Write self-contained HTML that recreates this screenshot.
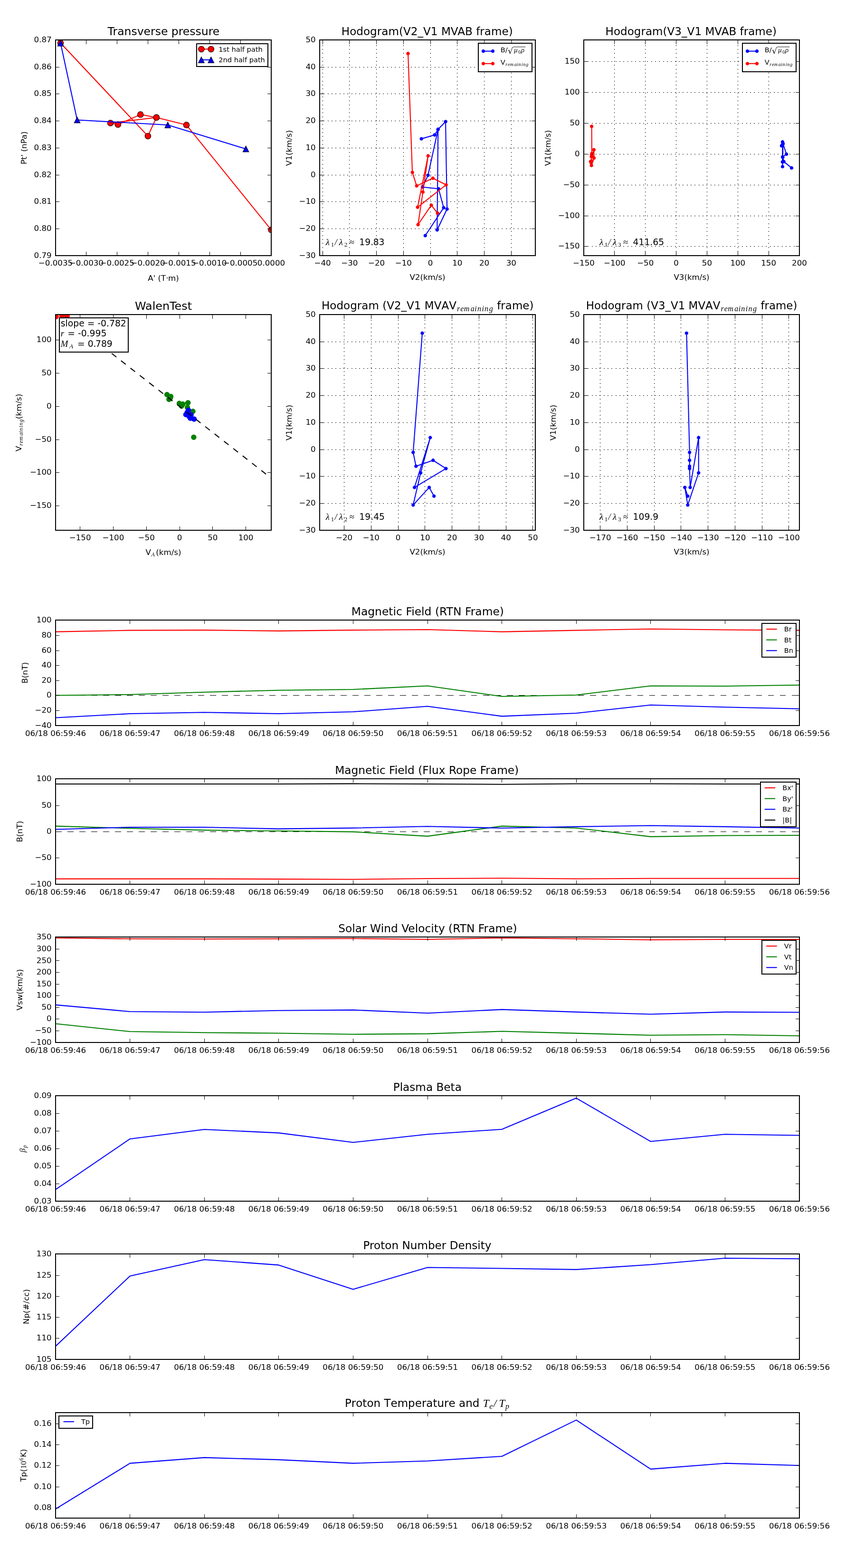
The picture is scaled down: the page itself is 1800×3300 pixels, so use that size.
<!DOCTYPE html>
<html><head><meta charset="utf-8"><title>GS reconstruction summary</title>
<style>html,body{margin:0;padding:0;background:#fff;}svg{display:block;}</style>
</head><body>
<svg width="1800" height="3300" viewBox="0 0 864 1584" version="1.1">
 <defs>
  <style type="text/css">*{stroke-linejoin: round; stroke-linecap: butt}</style>
 </defs>
 <g id="figure_1">
  <g id="patch_1">
   <path d="M 0 1584 
L 864 1584 
L 864 0 
L 0 0 
z
" style="fill: #ffffff"/>
  </g>
  <g id="axes_1">
   <g id="patch_2">
    <path d="M 56.16 258.384 
L 274.08 258.384 
L 274.08 40.464 
L 56.16 40.464 
z
" style="fill: #ffffff"/>
   </g>
   <g id="line2d_1">
    <path d="M 61.2 43.44 
L 149.472 137.472 
L 158.064 118.656 
L 111.6 124.32 
L 119.184 125.808 
L 141.936 115.728 
L 158.064 118.656 
L 188.4 126.288 
L 274.08 232.224 
" clip-path="url(#p9e360b8a55)" style="fill: none; stroke: #ff0000; stroke-linecap: square"/>
    <defs>
     <path id="m9b57e5bc94" d="M 0 3 
C 0.795609 3 1.55874 2.683901 2.12132 2.12132 
C 2.683901 1.55874 3 0.795609 3 0 
C 3 -0.795609 2.683901 -1.55874 2.12132 -2.12132 
C 1.55874 -2.683901 0.795609 -3 0 -3 
C -0.795609 -3 -1.55874 -2.683901 -2.12132 -2.12132 
C -2.683901 -1.55874 -3 -0.795609 -3 0 
C -3 0.795609 -2.683901 1.55874 -2.12132 2.12132 
C -1.55874 2.683901 -0.795609 3 0 3 
z
" style="stroke: #000000; stroke-width: 0.5"/>
    </defs>
    <g clip-path="url(#p9e360b8a55)">
     <use href="#m9b57e5bc94" x="61.2" y="43.44" style="fill: #ff0000; stroke: #000000; stroke-width: 0.5"/>
     <use href="#m9b57e5bc94" x="149.472" y="137.472" style="fill: #ff0000; stroke: #000000; stroke-width: 0.5"/>
     <use href="#m9b57e5bc94" x="158.064" y="118.656" style="fill: #ff0000; stroke: #000000; stroke-width: 0.5"/>
     <use href="#m9b57e5bc94" x="111.6" y="124.32" style="fill: #ff0000; stroke: #000000; stroke-width: 0.5"/>
     <use href="#m9b57e5bc94" x="119.184" y="125.808" style="fill: #ff0000; stroke: #000000; stroke-width: 0.5"/>
     <use href="#m9b57e5bc94" x="141.936" y="115.728" style="fill: #ff0000; stroke: #000000; stroke-width: 0.5"/>
     <use href="#m9b57e5bc94" x="158.064" y="118.656" style="fill: #ff0000; stroke: #000000; stroke-width: 0.5"/>
     <use href="#m9b57e5bc94" x="188.4" y="126.288" style="fill: #ff0000; stroke: #000000; stroke-width: 0.5"/>
     <use href="#m9b57e5bc94" x="274.08" y="232.224" style="fill: #ff0000; stroke: #000000; stroke-width: 0.5"/>
    </g>
   </g>
   <g id="line2d_2">
    <path d="M 61.2 43.536 
L 78 121.2 
L 169.536 126.24 
L 248.448 150.432 
" clip-path="url(#p9e360b8a55)" style="fill: none; stroke: #0000ff; stroke-linecap: square"/>
    <defs>
     <path id="m35c73e94be" d="M 0 -3 
L -3 3 
L 3 3 
z
" style="stroke: #000000; stroke-width: 0.5; stroke-linejoin: miter"/>
    </defs>
    <g clip-path="url(#p9e360b8a55)">
     <use href="#m35c73e94be" x="61.2" y="43.536" style="fill: #0000ff; stroke: #000000; stroke-width: 0.5; stroke-linejoin: miter"/>
     <use href="#m35c73e94be" x="78" y="121.2" style="fill: #0000ff; stroke: #000000; stroke-width: 0.5; stroke-linejoin: miter"/>
     <use href="#m35c73e94be" x="169.536" y="126.24" style="fill: #0000ff; stroke: #000000; stroke-width: 0.5; stroke-linejoin: miter"/>
     <use href="#m35c73e94be" x="248.448" y="150.432" style="fill: #0000ff; stroke: #000000; stroke-width: 0.5; stroke-linejoin: miter"/>
    </g>
   </g>
   <g id="patch_3">
    <path d="M 56.16 258.384 
L 56.16 40.464 
" shape-rendering="crispEdges" style="fill: none; stroke: #000000; stroke-width: 0.96; stroke-linejoin: miter; stroke-linecap: square"/>
   </g>
   <g id="patch_4">
    <path d="M 274.08 258.384 
L 274.08 40.464 
" shape-rendering="crispEdges" style="fill: none; stroke: #000000; stroke-width: 0.96; stroke-linejoin: miter; stroke-linecap: square"/>
   </g>
   <g id="patch_5">
    <path d="M 56.16 258.384 
L 274.08 258.384 
" shape-rendering="crispEdges" style="fill: none; stroke: #000000; stroke-width: 0.96; stroke-linejoin: miter; stroke-linecap: square"/>
   </g>
   <g id="patch_6">
    <path d="M 56.16 40.464 
L 274.08 40.464 
" shape-rendering="crispEdges" style="fill: none; stroke: #000000; stroke-width: 0.96; stroke-linejoin: miter; stroke-linecap: square"/>
   </g>
   <g id="matplotlib.axis_1">
    <g id="xtick_1">
     <g id="line2d_3">
      <defs>
       <path id="m9970c9cf34" d="M 0 0 
L 0 -4 
" shape-rendering="crispEdges" style="stroke: #000000; stroke-width: 0.5"/>
      </defs>
      <g>
       <path d="M 56.1984 258.3840 L 56.1984 254.3840" shape-rendering="crispEdges" style="fill: none; stroke: #000000; stroke-width: 0.5"/>
      </g>
     </g>
     <g id="line2d_4">
      <defs>
       <path id="ma74727226e" d="M 0 0 
L 0 4 
" shape-rendering="crispEdges" style="stroke: #000000; stroke-width: 0.5"/>
      </defs>
      <g>
       <path d="M 56.1984 40.4640 L 56.1984 44.4640" shape-rendering="crispEdges" style="fill: none; stroke: #000000; stroke-width: 0.5"/>
      </g>
     </g>
     <g id="text_1">
      <text style="font-size: 8px; font-family: 'DejaVu Sans', sans-serif; text-anchor: middle" x="56.16" y="268.46275" transform="rotate(-0 56.16 268.46275)">−0.0035</text>
     </g>
    </g>
    <g id="xtick_2">
     <g id="line2d_5">
      <g>
       <path d="M 87.2914 258.3840 L 87.2914 254.3840" shape-rendering="crispEdges" style="fill: none; stroke: #000000; stroke-width: 0.5"/>
      </g>
     </g>
     <g id="line2d_6">
      <g>
       <path d="M 87.2914 40.4640 L 87.2914 44.4640" shape-rendering="crispEdges" style="fill: none; stroke: #000000; stroke-width: 0.5"/>
      </g>
     </g>
     <g id="text_2">
      <text style="font-size: 8px; font-family: 'DejaVu Sans', sans-serif; text-anchor: middle" x="87.291429" y="268.46275" transform="rotate(-0 87.291429 268.46275)">−0.0030</text>
     </g>
    </g>
    <g id="xtick_3">
     <g id="line2d_7">
      <g>
       <path d="M 118.4229 258.3840 L 118.4229 254.3840" shape-rendering="crispEdges" style="fill: none; stroke: #000000; stroke-width: 0.5"/>
      </g>
     </g>
     <g id="line2d_8">
      <g>
       <path d="M 118.4229 40.4640 L 118.4229 44.4640" shape-rendering="crispEdges" style="fill: none; stroke: #000000; stroke-width: 0.5"/>
      </g>
     </g>
     <g id="text_3">
      <text style="font-size: 8px; font-family: 'DejaVu Sans', sans-serif; text-anchor: middle" x="118.422857" y="268.46275" transform="rotate(-0 118.422857 268.46275)">−0.0025</text>
     </g>
    </g>
    <g id="xtick_4">
     <g id="line2d_9">
      <g>
       <path d="M 149.5543 258.3840 L 149.5543 254.3840" shape-rendering="crispEdges" style="fill: none; stroke: #000000; stroke-width: 0.5"/>
      </g>
     </g>
     <g id="line2d_10">
      <g>
       <path d="M 149.5543 40.4640 L 149.5543 44.4640" shape-rendering="crispEdges" style="fill: none; stroke: #000000; stroke-width: 0.5"/>
      </g>
     </g>
     <g id="text_4">
      <text style="font-size: 8px; font-family: 'DejaVu Sans', sans-serif; text-anchor: middle" x="149.554286" y="268.46275" transform="rotate(-0 149.554286 268.46275)">−0.0020</text>
     </g>
    </g>
    <g id="xtick_5">
     <g id="line2d_11">
      <g>
       <path d="M 180.6857 258.3840 L 180.6857 254.3840" shape-rendering="crispEdges" style="fill: none; stroke: #000000; stroke-width: 0.5"/>
      </g>
     </g>
     <g id="line2d_12">
      <g>
       <path d="M 180.6857 40.4640 L 180.6857 44.4640" shape-rendering="crispEdges" style="fill: none; stroke: #000000; stroke-width: 0.5"/>
      </g>
     </g>
     <g id="text_5">
      <text style="font-size: 8px; font-family: 'DejaVu Sans', sans-serif; text-anchor: middle" x="180.685714" y="268.46275" transform="rotate(-0 180.685714 268.46275)">−0.0015</text>
     </g>
    </g>
    <g id="xtick_6">
     <g id="line2d_13">
      <g>
       <path d="M 211.8171 258.3840 L 211.8171 254.3840" shape-rendering="crispEdges" style="fill: none; stroke: #000000; stroke-width: 0.5"/>
      </g>
     </g>
     <g id="line2d_14">
      <g>
       <path d="M 211.8171 40.4640 L 211.8171 44.4640" shape-rendering="crispEdges" style="fill: none; stroke: #000000; stroke-width: 0.5"/>
      </g>
     </g>
     <g id="text_6">
      <text style="font-size: 8px; font-family: 'DejaVu Sans', sans-serif; text-anchor: middle" x="211.817143" y="268.46275" transform="rotate(-0 211.817143 268.46275)">−0.0010</text>
     </g>
    </g>
    <g id="xtick_7">
     <g id="line2d_15">
      <g>
       <path d="M 242.9486 258.3840 L 242.9486 254.3840" shape-rendering="crispEdges" style="fill: none; stroke: #000000; stroke-width: 0.5"/>
      </g>
     </g>
     <g id="line2d_16">
      <g>
       <path d="M 242.9486 40.4640 L 242.9486 44.4640" shape-rendering="crispEdges" style="fill: none; stroke: #000000; stroke-width: 0.5"/>
      </g>
     </g>
     <g id="text_7">
      <text style="font-size: 8px; font-family: 'DejaVu Sans', sans-serif; text-anchor: middle" x="242.948571" y="268.46275" transform="rotate(-0 242.948571 268.46275)">−0.0005</text>
     </g>
    </g>
    <g id="xtick_8">
     <g id="line2d_17">
      <g>
       <path d="M 274.1184 258.3840 L 274.1184 254.3840" shape-rendering="crispEdges" style="fill: none; stroke: #000000; stroke-width: 0.5"/>
      </g>
     </g>
     <g id="line2d_18">
      <g>
       <path d="M 274.1184 40.4640 L 274.1184 44.4640" shape-rendering="crispEdges" style="fill: none; stroke: #000000; stroke-width: 0.5"/>
      </g>
     </g>
     <g id="text_8">
      <text style="font-size: 8px; font-family: 'DejaVu Sans', sans-serif; text-anchor: middle" x="274.08" y="268.46275" transform="rotate(-0 274.08 268.46275)">0.0000</text>
     </g>
    </g>
    <g id="text_9">
     <g transform="translate(149.44 284.52525)">
      <text>
       <tspan x="0" y="-0.921875" style="font-size: 8px; font-family: 'DejaVu Sans', sans-serif">A</tspan>
       <tspan x="5.472656" y="-0.921875" style="font-size: 8px; font-family: 'DejaVu Sans', sans-serif">'</tspan>
       <tspan x="7.671875" y="-0.921875" style="font-size: 8px; font-family: 'DejaVu Sans', sans-serif"> </tspan>
       <tspan x="10.214844" y="-0.921875" style="font-size: 8px; font-family: 'DejaVu Sans', sans-serif">(</tspan>
       <tspan x="13.335938" y="-0.921875" style="font-size: 8px; font-family: 'DejaVu Sans', sans-serif">T</tspan>
       <tspan x="20.4375" y="-0.921875" style="font-size: 8px; font-family: 'DejaVu Sans', sans-serif">m</tspan>
       <tspan x="28.230469" y="-0.921875" style="font-size: 8px; font-family: 'DejaVu Sans', sans-serif">)</tspan>
       <tspan x="18.222656" y="-0.921875" style="font-size: 8px; font-family: 'Liberation Serif', serif" class="cmsy10">·</tspan>
      </text>
     </g>
    </g>
   </g>
   <g id="matplotlib.axis_2">
    <g id="ytick_1">
     <g id="line2d_19">
      <defs>
       <path id="m15b6ba686d" d="M 0 0 
L 4 0 
" shape-rendering="crispEdges" style="stroke: #000000; stroke-width: 0.5"/>
      </defs>
      <g>
       <path d="M 56.1600 258.3840 L 60.1600 258.3840" shape-rendering="crispEdges" style="fill: none; stroke: #000000; stroke-width: 0.5"/>
      </g>
     </g>
     <g id="line2d_20">
      <defs>
       <path id="m23530d4d53" d="M 0 0 
L -4 0 
" shape-rendering="crispEdges" style="stroke: #000000; stroke-width: 0.5"/>
      </defs>
      <g>
       <path d="M 274.0800 258.3840 L 270.0800 258.3840" shape-rendering="crispEdges" style="fill: none; stroke: #000000; stroke-width: 0.5"/>
      </g>
     </g>
     <g id="text_10">
      <text style="font-size: 8px; font-family: 'DejaVu Sans', sans-serif; text-anchor: end" x="52.16" y="260.5915" transform="rotate(-0 52.16 260.5915)">0.79</text>
     </g>
    </g>
    <g id="ytick_2">
     <g id="line2d_21">
      <g>
       <path d="M 56.1600 231.1440 L 60.1600 231.1440" shape-rendering="crispEdges" style="fill: none; stroke: #000000; stroke-width: 0.5"/>
      </g>
     </g>
     <g id="line2d_22">
      <g>
       <path d="M 274.0800 231.1440 L 270.0800 231.1440" shape-rendering="crispEdges" style="fill: none; stroke: #000000; stroke-width: 0.5"/>
      </g>
     </g>
     <g id="text_11">
      <text style="font-size: 8px; font-family: 'DejaVu Sans', sans-serif; text-anchor: end" x="52.16" y="233.3515" transform="rotate(-0 52.16 233.3515)">0.80</text>
     </g>
    </g>
    <g id="ytick_3">
     <g id="line2d_23">
      <g>
       <path d="M 56.1600 203.9040 L 60.1600 203.9040" shape-rendering="crispEdges" style="fill: none; stroke: #000000; stroke-width: 0.5"/>
      </g>
     </g>
     <g id="line2d_24">
      <g>
       <path d="M 274.0800 203.9040 L 270.0800 203.9040" shape-rendering="crispEdges" style="fill: none; stroke: #000000; stroke-width: 0.5"/>
      </g>
     </g>
     <g id="text_12">
      <text style="font-size: 8px; font-family: 'DejaVu Sans', sans-serif; text-anchor: end" x="52.16" y="206.1115" transform="rotate(-0 52.16 206.1115)">0.81</text>
     </g>
    </g>
    <g id="ytick_4">
     <g id="line2d_25">
      <g>
       <path d="M 56.1600 176.6784 L 60.1600 176.6784" shape-rendering="crispEdges" style="fill: none; stroke: #000000; stroke-width: 0.5"/>
      </g>
     </g>
     <g id="line2d_26">
      <g>
       <path d="M 274.0800 176.6784 L 270.0800 176.6784" shape-rendering="crispEdges" style="fill: none; stroke: #000000; stroke-width: 0.5"/>
      </g>
     </g>
     <g id="text_13">
      <text style="font-size: 8px; font-family: 'DejaVu Sans', sans-serif; text-anchor: end" x="52.16" y="178.8715" transform="rotate(-0 52.16 178.8715)">0.82</text>
     </g>
    </g>
    <g id="ytick_5">
     <g id="line2d_27">
      <g>
       <path d="M 56.1600 149.4240 L 60.1600 149.4240" shape-rendering="crispEdges" style="fill: none; stroke: #000000; stroke-width: 0.5"/>
      </g>
     </g>
     <g id="line2d_28">
      <g>
       <path d="M 274.0800 149.4240 L 270.0800 149.4240" shape-rendering="crispEdges" style="fill: none; stroke: #000000; stroke-width: 0.5"/>
      </g>
     </g>
     <g id="text_14">
      <text style="font-size: 8px; font-family: 'DejaVu Sans', sans-serif; text-anchor: end" x="52.16" y="151.6315" transform="rotate(-0 52.16 151.6315)">0.83</text>
     </g>
    </g>
    <g id="ytick_6">
     <g id="line2d_29">
      <g>
       <path d="M 56.1600 122.1840 L 60.1600 122.1840" shape-rendering="crispEdges" style="fill: none; stroke: #000000; stroke-width: 0.5"/>
      </g>
     </g>
     <g id="line2d_30">
      <g>
       <path d="M 274.0800 122.1840 L 270.0800 122.1840" shape-rendering="crispEdges" style="fill: none; stroke: #000000; stroke-width: 0.5"/>
      </g>
     </g>
     <g id="text_15">
      <text style="font-size: 8px; font-family: 'DejaVu Sans', sans-serif; text-anchor: end" x="52.16" y="124.3915" transform="rotate(-0 52.16 124.3915)">0.84</text>
     </g>
    </g>
    <g id="ytick_7">
     <g id="line2d_31">
      <g>
       <path d="M 56.1600 94.9440 L 60.1600 94.9440" shape-rendering="crispEdges" style="fill: none; stroke: #000000; stroke-width: 0.5"/>
      </g>
     </g>
     <g id="line2d_32">
      <g>
       <path d="M 274.0800 94.9440 L 270.0800 94.9440" shape-rendering="crispEdges" style="fill: none; stroke: #000000; stroke-width: 0.5"/>
      </g>
     </g>
     <g id="text_16">
      <text style="font-size: 8px; font-family: 'DejaVu Sans', sans-serif; text-anchor: end" x="52.16" y="97.1515" transform="rotate(-0 52.16 97.1515)">0.85</text>
     </g>
    </g>
    <g id="ytick_8">
     <g id="line2d_33">
      <g>
       <path d="M 56.1600 67.7184 L 60.1600 67.7184" shape-rendering="crispEdges" style="fill: none; stroke: #000000; stroke-width: 0.5"/>
      </g>
     </g>
     <g id="line2d_34">
      <g>
       <path d="M 274.0800 67.7184 L 270.0800 67.7184" shape-rendering="crispEdges" style="fill: none; stroke: #000000; stroke-width: 0.5"/>
      </g>
     </g>
     <g id="text_17">
      <text style="font-size: 8px; font-family: 'DejaVu Sans', sans-serif; text-anchor: end" x="52.16" y="69.9115" transform="rotate(-0 52.16 69.9115)">0.86</text>
     </g>
    </g>
    <g id="ytick_9">
     <g id="line2d_35">
      <g>
       <path d="M 56.1600 40.4640 L 60.1600 40.4640" shape-rendering="crispEdges" style="fill: none; stroke: #000000; stroke-width: 0.5"/>
      </g>
     </g>
     <g id="line2d_36">
      <g>
       <path d="M 274.0800 40.4640 L 270.0800 40.4640" shape-rendering="crispEdges" style="fill: none; stroke: #000000; stroke-width: 0.5"/>
      </g>
     </g>
     <g id="text_18">
      <text style="font-size: 8px; font-family: 'DejaVu Sans', sans-serif; text-anchor: end" x="52.16" y="42.6715" transform="rotate(-0 52.16 42.6715)">0.87</text>
     </g>
    </g>
    <g id="text_19">
     <text style="font-size: 8px; font-family: 'DejaVu Sans', sans-serif; text-anchor: middle" x="26.78375" y="149.424" transform="rotate(-90 26.78375 149.424)">Pt' (nPa)</text>
    </g>
   </g>
   <g id="title_T1" transform="matrix(1.00386 0 0 1 -0.4209 0)">
    <text style="font-size: 11.23px; font-family: 'DejaVu Sans', sans-serif; text-anchor: middle" x="165.12" y="35.464" transform="rotate(-0 165.12 35.464)">Transverse pressure</text>
   </g>
   <g id="legend_1">
    <g id="patch_7">
     <path d="M 198.547813 67.173375 
L 270.58 67.173375 
L 270.58 43.964 
L 198.547813 43.964 
z
" shape-rendering="crispEdges" style="fill: #ffffff; stroke: #000000; stroke-width: 0.96; stroke-linejoin: miter"/>
    </g>
    <g id="line2d_37">
     <path d="M 203.447813 49.632906 
L 213.247813 49.632906 
" style="fill: none; stroke: #ff0000; stroke-linecap: square"/>
     <g>
      <use href="#m9b57e5bc94" x="203.447813" y="49.632906" style="fill: #ff0000; stroke: #000000; stroke-width: 0.5"/>
      <use href="#m9b57e5bc94" x="213.247813" y="49.632906" style="fill: #ff0000; stroke: #000000; stroke-width: 0.5"/>
     </g>
    </g>
    <g id="text_20">
     <text style="font-size: 7px; font-family: 'DejaVu Sans', sans-serif; text-anchor: start" x="220.947813" y="52.082906" transform="rotate(-0 220.947813 52.082906)">1st half path</text>
    </g>
    <g id="line2d_38">
     <path d="M 203.447813 60.467594 
L 213.247813 60.467594 
" style="fill: none; stroke: #0000ff; stroke-linecap: square"/>
     <g>
      <use href="#m35c73e94be" x="203.447813" y="60.467594" style="fill: #0000ff; stroke: #000000; stroke-width: 0.5; stroke-linejoin: miter"/>
      <use href="#m35c73e94be" x="213.247813" y="60.467594" style="fill: #0000ff; stroke: #000000; stroke-width: 0.5; stroke-linejoin: miter"/>
     </g>
    </g>
    <g id="text_21">
     <text style="font-size: 7px; font-family: 'DejaVu Sans', sans-serif; text-anchor: start" x="220.947813" y="62.917594" transform="rotate(-0 220.947813 62.917594)">2nd half path</text>
    </g>
   </g>
  </g>
  <g id="axes_2">
   <g id="patch_8">
    <path d="M 323.04 258.384 
L 540.96 258.384 
L 540.96 40.464 
L 323.04 40.464 
z
" style="fill: #ffffff"/>
   </g>
   <g id="line2d_39">
    <path d="M 425.84376 140.21688 
L 439.19136 136.32156 
L 442.67808 130.68288 
L 450.2508 122.865 
L 451.749 211.20432 
L 441.72468 232.28808 
L 442.67808 130.68288 
L 432.51756 177.04536 
L 427.01508 188.97648 
L 443.1684 190.71984 
L 448.344 209.84232 
L 429.73908 238.00848 
" clip-path="url(#p5e606f53a8)" style="fill: none; stroke: #0000ff; stroke-linecap: square"/>
    <defs>
     <path id="m40c38f925a" d="M 0 1.5 
C 0.397805 1.5 0.77937 1.341951 1.06066 1.06066 
C 1.341951 0.77937 1.5 0.397805 1.5 0 
C 1.5 -0.397805 1.341951 -0.77937 1.06066 -1.06066 
C 0.77937 -1.341951 0.397805 -1.5 0 -1.5 
C -0.397805 -1.5 -0.77937 -1.341951 -1.06066 -1.06066 
C -1.341951 -0.77937 -1.5 -0.397805 -1.5 0 
C -1.5 0.397805 -1.341951 0.77937 -1.06066 1.06066 
C -0.77937 1.341951 -0.397805 1.5 0 1.5 
z
" style="stroke: #0000ff; stroke-width: 0.5"/>
    </defs>
    <g clip-path="url(#p5e606f53a8)">
     <use href="#m40c38f925a" x="425.84376" y="140.21688" style="fill: #0000ff; stroke: #0000ff; stroke-width: 0.5"/>
     <use href="#m40c38f925a" x="439.19136" y="136.32156" style="fill: #0000ff; stroke: #0000ff; stroke-width: 0.5"/>
     <use href="#m40c38f925a" x="442.67808" y="130.68288" style="fill: #0000ff; stroke: #0000ff; stroke-width: 0.5"/>
     <use href="#m40c38f925a" x="450.2508" y="122.865" style="fill: #0000ff; stroke: #0000ff; stroke-width: 0.5"/>
     <use href="#m40c38f925a" x="451.749" y="211.20432" style="fill: #0000ff; stroke: #0000ff; stroke-width: 0.5"/>
     <use href="#m40c38f925a" x="441.72468" y="232.28808" style="fill: #0000ff; stroke: #0000ff; stroke-width: 0.5"/>
     <use href="#m40c38f925a" x="442.67808" y="130.68288" style="fill: #0000ff; stroke: #0000ff; stroke-width: 0.5"/>
     <use href="#m40c38f925a" x="432.51756" y="177.04536" style="fill: #0000ff; stroke: #0000ff; stroke-width: 0.5"/>
     <use href="#m40c38f925a" x="427.01508" y="188.97648" style="fill: #0000ff; stroke: #0000ff; stroke-width: 0.5"/>
     <use href="#m40c38f925a" x="443.1684" y="190.71984" style="fill: #0000ff; stroke: #0000ff; stroke-width: 0.5"/>
     <use href="#m40c38f925a" x="448.344" y="209.84232" style="fill: #0000ff; stroke: #0000ff; stroke-width: 0.5"/>
     <use href="#m40c38f925a" x="429.73908" y="238.00848" style="fill: #0000ff; stroke: #0000ff; stroke-width: 0.5"/>
    </g>
   </g>
   <g id="line2d_40">
    <path d="M 412.33272 54.084 
L 416.69112 174.15792 
L 421.04952 187.75068 
L 437.42076 180.01452 
L 450.7956 186.7428 
L 421.97568 209.32476 
L 432.59928 157.43256 
L 427.34196 193.98864 
L 422.43876 226.9218 
L 435.86808 207.309 
L 442.16052 215.37204 
" clip-path="url(#p5e606f53a8)" style="fill: none; stroke: #ff0000; stroke-linecap: square"/>
    <defs>
     <path id="m83089336b0" d="M 0 1.5 
C 0.397805 1.5 0.77937 1.341951 1.06066 1.06066 
C 1.341951 0.77937 1.5 0.397805 1.5 0 
C 1.5 -0.397805 1.341951 -0.77937 1.06066 -1.06066 
C 0.77937 -1.341951 0.397805 -1.5 0 -1.5 
C -0.397805 -1.5 -0.77937 -1.341951 -1.06066 -1.06066 
C -1.341951 -0.77937 -1.5 -0.397805 -1.5 0 
C -1.5 0.397805 -1.341951 0.77937 -1.06066 1.06066 
C -0.77937 1.341951 -0.397805 1.5 0 1.5 
z
" style="stroke: #ff0000; stroke-width: 0.5"/>
    </defs>
    <g clip-path="url(#p5e606f53a8)">
     <use href="#m83089336b0" x="412.33272" y="54.084" style="fill: #ff0000; stroke: #ff0000; stroke-width: 0.5"/>
     <use href="#m83089336b0" x="416.69112" y="174.15792" style="fill: #ff0000; stroke: #ff0000; stroke-width: 0.5"/>
     <use href="#m83089336b0" x="421.04952" y="187.75068" style="fill: #ff0000; stroke: #ff0000; stroke-width: 0.5"/>
     <use href="#m83089336b0" x="437.42076" y="180.01452" style="fill: #ff0000; stroke: #ff0000; stroke-width: 0.5"/>
     <use href="#m83089336b0" x="450.7956" y="186.7428" style="fill: #ff0000; stroke: #ff0000; stroke-width: 0.5"/>
     <use href="#m83089336b0" x="421.97568" y="209.32476" style="fill: #ff0000; stroke: #ff0000; stroke-width: 0.5"/>
     <use href="#m83089336b0" x="432.59928" y="157.43256" style="fill: #ff0000; stroke: #ff0000; stroke-width: 0.5"/>
     <use href="#m83089336b0" x="427.34196" y="193.98864" style="fill: #ff0000; stroke: #ff0000; stroke-width: 0.5"/>
     <use href="#m83089336b0" x="422.43876" y="226.9218" style="fill: #ff0000; stroke: #ff0000; stroke-width: 0.5"/>
     <use href="#m83089336b0" x="435.86808" y="207.309" style="fill: #ff0000; stroke: #ff0000; stroke-width: 0.5"/>
     <use href="#m83089336b0" x="442.16052" y="215.37204" style="fill: #ff0000; stroke: #ff0000; stroke-width: 0.5"/>
    </g>
   </g>
   <g id="patch_9">
    <path d="M 323.04 258.384 
L 323.04 40.464 
" shape-rendering="crispEdges" style="fill: none; stroke: #000000; stroke-width: 0.96; stroke-linejoin: miter; stroke-linecap: square"/>
   </g>
   <g id="patch_10">
    <path d="M 540.96 258.384 
L 540.96 40.464 
" shape-rendering="crispEdges" style="fill: none; stroke: #000000; stroke-width: 0.96; stroke-linejoin: miter; stroke-linecap: square"/>
   </g>
   <g id="patch_11">
    <path d="M 323.04 258.384 
L 540.96 258.384 
" shape-rendering="crispEdges" style="fill: none; stroke: #000000; stroke-width: 0.96; stroke-linejoin: miter; stroke-linecap: square"/>
   </g>
   <g id="patch_12">
    <path d="M 323.04 40.464 
L 540.96 40.464 
" shape-rendering="crispEdges" style="fill: none; stroke: #000000; stroke-width: 0.96; stroke-linejoin: miter; stroke-linecap: square"/>
   </g>
   <g id="matplotlib.axis_3">
    <g id="xtick_9">
     <g id="line2d_41">
      <path d="M 325.9547 258.3840 L 325.9547 40.4640" clip-path="url(#p5e606f53a8)" shape-rendering="crispEdges" style="fill: none; stroke-dasharray: 1,3; stroke-dashoffset: 0; stroke: #000000; stroke-width: 0.5"/>
     </g>
     <g id="line2d_42">
      <g>
       <path d="M 325.9547 258.3840 L 325.9547 254.3840" shape-rendering="crispEdges" style="fill: none; stroke: #000000; stroke-width: 0.5"/>
      </g>
     </g>
     <g id="line2d_43">
      <g>
       <path d="M 325.9547 40.4640 L 325.9547 44.4640" shape-rendering="crispEdges" style="fill: none; stroke: #000000; stroke-width: 0.5"/>
      </g>
     </g>
     <g id="text_22">
      <text style="font-size: 8px; font-family: 'DejaVu Sans', sans-serif; text-anchor: middle" x="325.95468" y="268.46275" transform="rotate(-0 325.95468 268.46275)">−40</text>
     </g>
    </g>
    <g id="xtick_10">
     <g id="line2d_44">
      <path d="M 353.1947 258.3840 L 353.1947 40.4640" clip-path="url(#p5e606f53a8)" shape-rendering="crispEdges" style="fill: none; stroke-dasharray: 1,3; stroke-dashoffset: 0; stroke: #000000; stroke-width: 0.5"/>
     </g>
     <g id="line2d_45">
      <g>
       <path d="M 353.1947 258.3840 L 353.1947 254.3840" shape-rendering="crispEdges" style="fill: none; stroke: #000000; stroke-width: 0.5"/>
      </g>
     </g>
     <g id="line2d_46">
      <g>
       <path d="M 353.1947 40.4640 L 353.1947 44.4640" shape-rendering="crispEdges" style="fill: none; stroke: #000000; stroke-width: 0.5"/>
      </g>
     </g>
     <g id="text_23">
      <text style="font-size: 8px; font-family: 'DejaVu Sans', sans-serif; text-anchor: middle" x="353.19468" y="268.46275" transform="rotate(-0 353.19468 268.46275)">−30</text>
     </g>
    </g>
    <g id="xtick_11">
     <g id="line2d_47">
      <path d="M 380.4347 258.3840 L 380.4347 40.4640" clip-path="url(#p5e606f53a8)" shape-rendering="crispEdges" style="fill: none; stroke-dasharray: 1,3; stroke-dashoffset: 0; stroke: #000000; stroke-width: 0.5"/>
     </g>
     <g id="line2d_48">
      <g>
       <path d="M 380.4347 258.3840 L 380.4347 254.3840" shape-rendering="crispEdges" style="fill: none; stroke: #000000; stroke-width: 0.5"/>
      </g>
     </g>
     <g id="line2d_49">
      <g>
       <path d="M 380.4347 40.4640 L 380.4347 44.4640" shape-rendering="crispEdges" style="fill: none; stroke: #000000; stroke-width: 0.5"/>
      </g>
     </g>
     <g id="text_24">
      <text style="font-size: 8px; font-family: 'DejaVu Sans', sans-serif; text-anchor: middle" x="380.43468" y="268.46275" transform="rotate(-0 380.43468 268.46275)">−20</text>
     </g>
    </g>
    <g id="xtick_12">
     <g id="line2d_50">
      <path d="M 407.6747 258.3840 L 407.6747 40.4640" clip-path="url(#p5e606f53a8)" shape-rendering="crispEdges" style="fill: none; stroke-dasharray: 1,3; stroke-dashoffset: 0; stroke: #000000; stroke-width: 0.5"/>
     </g>
     <g id="line2d_51">
      <g>
       <path d="M 407.6747 258.3840 L 407.6747 254.3840" shape-rendering="crispEdges" style="fill: none; stroke: #000000; stroke-width: 0.5"/>
      </g>
     </g>
     <g id="line2d_52">
      <g>
       <path d="M 407.6747 40.4640 L 407.6747 44.4640" shape-rendering="crispEdges" style="fill: none; stroke: #000000; stroke-width: 0.5"/>
      </g>
     </g>
     <g id="text_25">
      <text style="font-size: 8px; font-family: 'DejaVu Sans', sans-serif; text-anchor: middle" x="407.67468" y="268.46275" transform="rotate(-0 407.67468 268.46275)">−10</text>
     </g>
    </g>
    <g id="xtick_13">
     <g id="line2d_53">
      <path d="M 434.9147 258.3840 L 434.9147 40.4640" clip-path="url(#p5e606f53a8)" shape-rendering="crispEdges" style="fill: none; stroke-dasharray: 1,3; stroke-dashoffset: 0; stroke: #000000; stroke-width: 0.5"/>
     </g>
     <g id="line2d_54">
      <g>
       <path d="M 434.9147 258.3840 L 434.9147 254.3840" shape-rendering="crispEdges" style="fill: none; stroke: #000000; stroke-width: 0.5"/>
      </g>
     </g>
     <g id="line2d_55">
      <g>
       <path d="M 434.9147 40.4640 L 434.9147 44.4640" shape-rendering="crispEdges" style="fill: none; stroke: #000000; stroke-width: 0.5"/>
      </g>
     </g>
     <g id="text_26">
      <text style="font-size: 8px; font-family: 'DejaVu Sans', sans-serif; text-anchor: middle" x="434.91468" y="268.46275" transform="rotate(-0 434.91468 268.46275)">0</text>
     </g>
    </g>
    <g id="xtick_14">
     <g id="line2d_56">
      <path d="M 462.1547 258.3840 L 462.1547 40.4640" clip-path="url(#p5e606f53a8)" shape-rendering="crispEdges" style="fill: none; stroke-dasharray: 1,3; stroke-dashoffset: 0; stroke: #000000; stroke-width: 0.5"/>
     </g>
     <g id="line2d_57">
      <g>
       <path d="M 462.1547 258.3840 L 462.1547 254.3840" shape-rendering="crispEdges" style="fill: none; stroke: #000000; stroke-width: 0.5"/>
      </g>
     </g>
     <g id="line2d_58">
      <g>
       <path d="M 462.1547 40.4640 L 462.1547 44.4640" shape-rendering="crispEdges" style="fill: none; stroke: #000000; stroke-width: 0.5"/>
      </g>
     </g>
     <g id="text_27">
      <text style="font-size: 8px; font-family: 'DejaVu Sans', sans-serif; text-anchor: middle" x="462.15468" y="268.46275" transform="rotate(-0 462.15468 268.46275)">10</text>
     </g>
    </g>
    <g id="xtick_15">
     <g id="line2d_59">
      <path d="M 489.3947 258.3840 L 489.3947 40.4640" clip-path="url(#p5e606f53a8)" shape-rendering="crispEdges" style="fill: none; stroke-dasharray: 1,3; stroke-dashoffset: 0; stroke: #000000; stroke-width: 0.5"/>
     </g>
     <g id="line2d_60">
      <g>
       <path d="M 489.3947 258.3840 L 489.3947 254.3840" shape-rendering="crispEdges" style="fill: none; stroke: #000000; stroke-width: 0.5"/>
      </g>
     </g>
     <g id="line2d_61">
      <g>
       <path d="M 489.3947 40.4640 L 489.3947 44.4640" shape-rendering="crispEdges" style="fill: none; stroke: #000000; stroke-width: 0.5"/>
      </g>
     </g>
     <g id="text_28">
      <text style="font-size: 8px; font-family: 'DejaVu Sans', sans-serif; text-anchor: middle" x="489.39468" y="268.46275" transform="rotate(-0 489.39468 268.46275)">20</text>
     </g>
    </g>
    <g id="xtick_16">
     <g id="line2d_62">
      <path d="M 516.6347 258.3840 L 516.6347 40.4640" clip-path="url(#p5e606f53a8)" shape-rendering="crispEdges" style="fill: none; stroke-dasharray: 1,3; stroke-dashoffset: 0; stroke: #000000; stroke-width: 0.5"/>
     </g>
     <g id="line2d_63">
      <g>
       <path d="M 516.6347 258.3840 L 516.6347 254.3840" shape-rendering="crispEdges" style="fill: none; stroke: #000000; stroke-width: 0.5"/>
      </g>
     </g>
     <g id="line2d_64">
      <g>
       <path d="M 516.6347 40.4640 L 516.6347 44.4640" shape-rendering="crispEdges" style="fill: none; stroke: #000000; stroke-width: 0.5"/>
      </g>
     </g>
     <g id="text_29">
      <text style="font-size: 8px; font-family: 'DejaVu Sans', sans-serif; text-anchor: middle" x="516.63468" y="268.46275" transform="rotate(-0 516.63468 268.46275)">30</text>
     </g>
    </g>
    <g id="text_30">
     <text style="font-size: 8px; font-family: 'DejaVu Sans', sans-serif; text-anchor: middle" x="432" y="282.60525" transform="rotate(-0 432 282.60525)">V2(km/s)</text>
    </g>
   </g>
   <g id="matplotlib.axis_4">
    <g id="ytick_10">
     <g id="line2d_65">
      <path d="M 323.0400 258.3840 L 540.9600 258.3840" clip-path="url(#p5e606f53a8)" shape-rendering="crispEdges" style="fill: none; stroke-dasharray: 1,3; stroke-dashoffset: 0; stroke: #000000; stroke-width: 0.5"/>
     </g>
     <g id="line2d_66">
      <g>
       <path d="M 323.0400 258.3840 L 327.0400 258.3840" shape-rendering="crispEdges" style="fill: none; stroke: #000000; stroke-width: 0.5"/>
      </g>
     </g>
     <g id="line2d_67">
      <g>
       <path d="M 540.9600 258.3840 L 536.9600 258.3840" shape-rendering="crispEdges" style="fill: none; stroke: #000000; stroke-width: 0.5"/>
      </g>
     </g>
     <g id="text_31">
      <text style="font-size: 8px; font-family: 'DejaVu Sans', sans-serif; text-anchor: end" x="319.04" y="260.5915" transform="rotate(-0 319.04 260.5915)">−30</text>
     </g>
    </g>
    <g id="ytick_11">
     <g id="line2d_68">
      <path d="M 323.0400 231.1440 L 540.9600 231.1440" clip-path="url(#p5e606f53a8)" shape-rendering="crispEdges" style="fill: none; stroke-dasharray: 1,3; stroke-dashoffset: 0; stroke: #000000; stroke-width: 0.5"/>
     </g>
     <g id="line2d_69">
      <g>
       <path d="M 323.0400 231.1440 L 327.0400 231.1440" shape-rendering="crispEdges" style="fill: none; stroke: #000000; stroke-width: 0.5"/>
      </g>
     </g>
     <g id="line2d_70">
      <g>
       <path d="M 540.9600 231.1440 L 536.9600 231.1440" shape-rendering="crispEdges" style="fill: none; stroke: #000000; stroke-width: 0.5"/>
      </g>
     </g>
     <g id="text_32">
      <text style="font-size: 8px; font-family: 'DejaVu Sans', sans-serif; text-anchor: end" x="319.04" y="233.3515" transform="rotate(-0 319.04 233.3515)">−20</text>
     </g>
    </g>
    <g id="ytick_12">
     <g id="line2d_71">
      <path d="M 323.0400 203.9040 L 540.9600 203.9040" clip-path="url(#p5e606f53a8)" shape-rendering="crispEdges" style="fill: none; stroke-dasharray: 1,3; stroke-dashoffset: 0; stroke: #000000; stroke-width: 0.5"/>
     </g>
     <g id="line2d_72">
      <g>
       <path d="M 323.0400 203.9040 L 327.0400 203.9040" shape-rendering="crispEdges" style="fill: none; stroke: #000000; stroke-width: 0.5"/>
      </g>
     </g>
     <g id="line2d_73">
      <g>
       <path d="M 540.9600 203.9040 L 536.9600 203.9040" shape-rendering="crispEdges" style="fill: none; stroke: #000000; stroke-width: 0.5"/>
      </g>
     </g>
     <g id="text_33">
      <text style="font-size: 8px; font-family: 'DejaVu Sans', sans-serif; text-anchor: end" x="319.04" y="206.1115" transform="rotate(-0 319.04 206.1115)">−10</text>
     </g>
    </g>
    <g id="ytick_13">
     <g id="line2d_74">
      <path d="M 323.0400 176.6784 L 540.9600 176.6784" clip-path="url(#p5e606f53a8)" shape-rendering="crispEdges" style="fill: none; stroke-dasharray: 1,3; stroke-dashoffset: 0; stroke: #000000; stroke-width: 0.5"/>
     </g>
     <g id="line2d_75">
      <g>
       <path d="M 323.0400 176.6784 L 327.0400 176.6784" shape-rendering="crispEdges" style="fill: none; stroke: #000000; stroke-width: 0.5"/>
      </g>
     </g>
     <g id="line2d_76">
      <g>
       <path d="M 540.9600 176.6784 L 536.9600 176.6784" shape-rendering="crispEdges" style="fill: none; stroke: #000000; stroke-width: 0.5"/>
      </g>
     </g>
     <g id="text_34">
      <text style="font-size: 8px; font-family: 'DejaVu Sans', sans-serif; text-anchor: end" x="319.04" y="178.8715" transform="rotate(-0 319.04 178.8715)">0</text>
     </g>
    </g>
    <g id="ytick_14">
     <g id="line2d_77">
      <path d="M 323.0400 149.4240 L 540.9600 149.4240" clip-path="url(#p5e606f53a8)" shape-rendering="crispEdges" style="fill: none; stroke-dasharray: 1,3; stroke-dashoffset: 0; stroke: #000000; stroke-width: 0.5"/>
     </g>
     <g id="line2d_78">
      <g>
       <path d="M 323.0400 149.4240 L 327.0400 149.4240" shape-rendering="crispEdges" style="fill: none; stroke: #000000; stroke-width: 0.5"/>
      </g>
     </g>
     <g id="line2d_79">
      <g>
       <path d="M 540.9600 149.4240 L 536.9600 149.4240" shape-rendering="crispEdges" style="fill: none; stroke: #000000; stroke-width: 0.5"/>
      </g>
     </g>
     <g id="text_35">
      <text style="font-size: 8px; font-family: 'DejaVu Sans', sans-serif; text-anchor: end" x="319.04" y="151.6315" transform="rotate(-0 319.04 151.6315)">10</text>
     </g>
    </g>
    <g id="ytick_15">
     <g id="line2d_80">
      <path d="M 323.0400 122.1840 L 540.9600 122.1840" clip-path="url(#p5e606f53a8)" shape-rendering="crispEdges" style="fill: none; stroke-dasharray: 1,3; stroke-dashoffset: 0; stroke: #000000; stroke-width: 0.5"/>
     </g>
     <g id="line2d_81">
      <g>
       <path d="M 323.0400 122.1840 L 327.0400 122.1840" shape-rendering="crispEdges" style="fill: none; stroke: #000000; stroke-width: 0.5"/>
      </g>
     </g>
     <g id="line2d_82">
      <g>
       <path d="M 540.9600 122.1840 L 536.9600 122.1840" shape-rendering="crispEdges" style="fill: none; stroke: #000000; stroke-width: 0.5"/>
      </g>
     </g>
     <g id="text_36">
      <text style="font-size: 8px; font-family: 'DejaVu Sans', sans-serif; text-anchor: end" x="319.04" y="124.3915" transform="rotate(-0 319.04 124.3915)">20</text>
     </g>
    </g>
    <g id="ytick_16">
     <g id="line2d_83">
      <path d="M 323.0400 94.9440 L 540.9600 94.9440" clip-path="url(#p5e606f53a8)" shape-rendering="crispEdges" style="fill: none; stroke-dasharray: 1,3; stroke-dashoffset: 0; stroke: #000000; stroke-width: 0.5"/>
     </g>
     <g id="line2d_84">
      <g>
       <path d="M 323.0400 94.9440 L 327.0400 94.9440" shape-rendering="crispEdges" style="fill: none; stroke: #000000; stroke-width: 0.5"/>
      </g>
     </g>
     <g id="line2d_85">
      <g>
       <path d="M 540.9600 94.9440 L 536.9600 94.9440" shape-rendering="crispEdges" style="fill: none; stroke: #000000; stroke-width: 0.5"/>
      </g>
     </g>
     <g id="text_37">
      <text style="font-size: 8px; font-family: 'DejaVu Sans', sans-serif; text-anchor: end" x="319.04" y="97.1515" transform="rotate(-0 319.04 97.1515)">30</text>
     </g>
    </g>
    <g id="ytick_17">
     <g id="line2d_86">
      <path d="M 323.0400 67.7184 L 540.9600 67.7184" clip-path="url(#p5e606f53a8)" shape-rendering="crispEdges" style="fill: none; stroke-dasharray: 1,3; stroke-dashoffset: 0; stroke: #000000; stroke-width: 0.5"/>
     </g>
     <g id="line2d_87">
      <g>
       <path d="M 323.0400 67.7184 L 327.0400 67.7184" shape-rendering="crispEdges" style="fill: none; stroke: #000000; stroke-width: 0.5"/>
      </g>
     </g>
     <g id="line2d_88">
      <g>
       <path d="M 540.9600 67.7184 L 536.9600 67.7184" shape-rendering="crispEdges" style="fill: none; stroke: #000000; stroke-width: 0.5"/>
      </g>
     </g>
     <g id="text_38">
      <text style="font-size: 8px; font-family: 'DejaVu Sans', sans-serif; text-anchor: end" x="319.04" y="69.9115" transform="rotate(-0 319.04 69.9115)">40</text>
     </g>
    </g>
    <g id="ytick_18">
     <g id="line2d_89">
      <path d="M 323.0400 40.4640 L 540.9600 40.4640" clip-path="url(#p5e606f53a8)" shape-rendering="crispEdges" style="fill: none; stroke-dasharray: 1,3; stroke-dashoffset: 0; stroke: #000000; stroke-width: 0.5"/>
     </g>
     <g id="line2d_90">
      <g>
       <path d="M 323.0400 40.4640 L 327.0400 40.4640" shape-rendering="crispEdges" style="fill: none; stroke: #000000; stroke-width: 0.5"/>
      </g>
     </g>
     <g id="line2d_91">
      <g>
       <path d="M 540.9600 40.4640 L 536.9600 40.4640" shape-rendering="crispEdges" style="fill: none; stroke: #000000; stroke-width: 0.5"/>
      </g>
     </g>
     <g id="text_39">
      <text style="font-size: 8px; font-family: 'DejaVu Sans', sans-serif; text-anchor: end" x="319.04" y="42.6715" transform="rotate(-0 319.04 42.6715)">50</text>
     </g>
    </g>
    <g id="text_40">
     <text style="font-size: 8px; font-family: 'DejaVu Sans', sans-serif; text-anchor: middle" x="294.5925" y="149.424" transform="rotate(-90 294.5925 149.424)">V1(km/s)</text>
    </g>
   </g>
   <g id="text_41">
    <g transform="translate(329.14176 247.92384)">
     <text>
      <tspan x="0" y="-0.25" style="font-size: 9px; font-family: 'Liberation Serif', serif; font-style: italic" class="cmmi10">λ</tspan>
      <tspan x="8.971031" y="-0.25" style="font-size: 9px; font-family: 'Liberation Serif', serif; font-style: italic" class="cmmi10">/</tspan>
      <tspan x="13.471031" y="-0.25" style="font-size: 9px; font-family: 'Liberation Serif', serif; font-style: italic" class="cmmi10">λ</tspan>
      <tspan x="5.24707" y="1.280563" style="font-size: 6.3px; font-family: 'Liberation Serif', serif" class="cmr10">1</tspan>
      <tspan x="18.718102" y="1.280563" style="font-size: 6.3px; font-family: 'Liberation Serif', serif" class="cmr10">2</tspan>
      <tspan x="24.022336" y="-0.25" style="font-size: 9px; font-family: 'Liberation Serif', serif" class="cmsy10">≈</tspan>
      <tspan x="33.911229" y="-0.25" style="font-size: 9px; font-family: 'DejaVu Sans', sans-serif">1</tspan>
      <tspan x="39.637304" y="-0.25" style="font-size: 9px; font-family: 'DejaVu Sans', sans-serif">9</tspan>
      <tspan x="45.363378" y="-0.25" style="font-size: 9px; font-family: 'DejaVu Sans', sans-serif">.</tspan>
      <tspan x="47.974218" y="-0.25" style="font-size: 9px; font-family: 'DejaVu Sans', sans-serif">8</tspan>
      <tspan x="53.700292" y="-0.25" style="font-size: 9px; font-family: 'DejaVu Sans', sans-serif">3</tspan>
     </text>
    </g>
   </g>
   <g id="title_T2" transform="matrix(0.98809 0 0 1 4.7886 0)">
    <text style="font-size: 11.23px; font-family: 'DejaVu Sans', sans-serif; text-anchor: middle" x="432" y="35.464" transform="rotate(-0 432 35.464)">Hodogram(V2_V1 MVAB frame)</text>
   </g>
   <g id="patch_13">
    <path d="M 483.384 72.432 
L 537.552 72.432 
L 537.552 43.872 
L 483.384 43.872 
z
" shape-rendering="crispEdges" style="fill: #ffffff; stroke: #000000; stroke-width: 0.96; stroke-linejoin: miter"/>
   </g>
   <g id="line2d_92">
    <path d="M 488.4 51.696 
L 498 51.696 
" style="fill: none; stroke: #0000ff; stroke-linecap: square"/>
    <g>
     <use href="#m40c38f925a" x="488.4" y="51.696" style="fill: #0000ff; stroke: #0000ff; stroke-width: 0.5"/>
     <use href="#m40c38f925a" x="498" y="51.696" style="fill: #0000ff; stroke: #0000ff; stroke-width: 0.5"/>
    </g>
   </g>
   <g id="text_42">
    <g transform="translate(505.776 53.328)">
     <text>
      <tspan x="0" y="-0.314375" style="font-size: 7px; font-family: 'DejaVu Sans', sans-serif">B</tspan>
      <tspan x="4.802246" y="-0.314375" style="font-size: 7px; font-family: 'DejaVu Sans', sans-serif">/</tspan>
      <tspan x="7.39" y="0.98" style="font-size: 8.4px; font-family: 'DejaVu Sans', sans-serif" class="cmex10">√</tspan>
      <tspan x="13.691895" y="-0.46875" style="font-size: 7px; font-family: 'Liberation Serif', serif; font-style: italic" class="cmmi10">μ</tspan>
      <tspan x="20.802664" y="-0.46875" style="font-size: 7px; font-family: 'Liberation Serif', serif; font-style: italic" class="cmmi10">ρ</tspan>
      <tspan x="17.90625" y="0.721687" style="font-size: 4.9px; font-family: 'Liberation Serif', serif" class="cmr10">0</tspan>
     </text>
     <rect x="12.816895" y="-6.125" width="12.480398" height="0.4375"/>
    </g>
   </g>
   <g id="line2d_93">
    <path d="M 488.4 64.224 
L 498 64.224 
" style="fill: none; stroke: #ff0000; stroke-linecap: square"/>
    <g>
     <use href="#m83089336b0" x="488.4" y="64.224" style="fill: #ff0000; stroke: #ff0000; stroke-width: 0.5"/>
     <use href="#m83089336b0" x="498" y="64.224" style="fill: #ff0000; stroke: #ff0000; stroke-width: 0.5"/>
    </g>
   </g>
   <g id="text_43">
    <g transform="translate(505.776 66.336)">
     <text>
      <tspan x="0" y="-0.890625" style="font-size: 7px; font-family: 'DejaVu Sans', sans-serif">V</tspan>
      <tspan x="5.101064" y="0.299812" style="font-size: 4.9px; font-family: 'Liberation Serif', serif; font-style: italic" class="cmmi10">r</tspan>
      <tspan x="7.311806" y="0.299812" style="font-size: 4.9px; font-family: 'Liberation Serif', serif; font-style: italic" class="cmmi10">e</tspan>
      <tspan x="9.589541" y="0.299812" style="font-size: 4.9px; font-family: 'Liberation Serif', serif; font-style: italic" class="cmmi10">m</tspan>
      <tspan x="13.891396" y="0.299812" style="font-size: 4.9px; font-family: 'Liberation Serif', serif; font-style: italic" class="cmmi10">a</tspan>
      <tspan x="16.477773" y="0.299812" style="font-size: 4.9px; font-family: 'Liberation Serif', serif; font-style: italic" class="cmmi10">i</tspan>
      <tspan x="18.164541" y="0.299812" style="font-size: 4.9px; font-family: 'Liberation Serif', serif; font-style: italic" class="cmmi10">n</tspan>
      <tspan x="21.105019" y="0.299812" style="font-size: 4.9px; font-family: 'Liberation Serif', serif; font-style: italic" class="cmmi10">i</tspan>
      <tspan x="22.791787" y="0.299812" style="font-size: 4.9px; font-family: 'Liberation Serif', serif; font-style: italic" class="cmmi10">n</tspan>
      <tspan x="25.732265" y="0.299812" style="font-size: 4.9px; font-family: 'Liberation Serif', serif; font-style: italic" class="cmmi10">g</tspan>
     </text>
    </g>
   </g>
  </g>
  <g id="axes_3">
   <g id="patch_14">
    <path d="M 589.92 258.384 
L 807.84 258.384 
L 807.84 40.464 
L 589.92 40.464 
z
" style="fill: #ffffff"/>
   </g>
   <g id="line2d_94">
    <path d="M 789.783771 147.319515 
L 790.4064 146.429157 
L 791.27808 145.140315 
L 790.779977 143.353371 
L 790.717714 163.545216 
L 790.779977 168.364361 
L 791.27808 145.140315 
L 794.702537 155.737454 
L 790.84224 158.464567 
L 791.029029 158.863049 
L 792.087497 163.233902 
L 799.932617 169.671881 
" clip-path="url(#p1b0d35f9a7)" style="fill: none; stroke: #0000ff; stroke-linecap: square"/>
    <g clip-path="url(#p1b0d35f9a7)">
     <use href="#m40c38f925a" x="789.783771" y="147.319515" style="fill: #0000ff; stroke: #0000ff; stroke-width: 0.5"/>
     <use href="#m40c38f925a" x="790.4064" y="146.429157" style="fill: #0000ff; stroke: #0000ff; stroke-width: 0.5"/>
     <use href="#m40c38f925a" x="791.27808" y="145.140315" style="fill: #0000ff; stroke: #0000ff; stroke-width: 0.5"/>
     <use href="#m40c38f925a" x="790.779977" y="143.353371" style="fill: #0000ff; stroke: #0000ff; stroke-width: 0.5"/>
     <use href="#m40c38f925a" x="790.717714" y="163.545216" style="fill: #0000ff; stroke: #0000ff; stroke-width: 0.5"/>
     <use href="#m40c38f925a" x="790.779977" y="168.364361" style="fill: #0000ff; stroke: #0000ff; stroke-width: 0.5"/>
     <use href="#m40c38f925a" x="791.27808" y="145.140315" style="fill: #0000ff; stroke: #0000ff; stroke-width: 0.5"/>
     <use href="#m40c38f925a" x="794.702537" y="155.737454" style="fill: #0000ff; stroke: #0000ff; stroke-width: 0.5"/>
     <use href="#m40c38f925a" x="790.84224" y="158.464567" style="fill: #0000ff; stroke: #0000ff; stroke-width: 0.5"/>
     <use href="#m40c38f925a" x="791.029029" y="158.863049" style="fill: #0000ff; stroke: #0000ff; stroke-width: 0.5"/>
     <use href="#m40c38f925a" x="792.087497" y="163.233902" style="fill: #0000ff; stroke: #0000ff; stroke-width: 0.5"/>
     <use href="#m40c38f925a" x="799.932617" y="169.671881" style="fill: #0000ff; stroke: #0000ff; stroke-width: 0.5"/>
    </g>
   </g>
   <g id="line2d_95">
    <path d="M 597.889646 127.632 
L 598.076434 155.077467 
L 597.640594 158.184384 
L 597.889646 156.416119 
L 598.325486 157.954011 
L 596.831177 163.115602 
L 600.193371 151.254528 
L 600.317897 159.610203 
L 597.702857 167.137783 
L 598.014171 162.654857 
L 597.391543 164.497838 
" clip-path="url(#p1b0d35f9a7)" style="fill: none; stroke: #ff0000; stroke-linecap: square"/>
    <g clip-path="url(#p1b0d35f9a7)">
     <use href="#m83089336b0" x="597.889646" y="127.632" style="fill: #ff0000; stroke: #ff0000; stroke-width: 0.5"/>
     <use href="#m83089336b0" x="598.076434" y="155.077467" style="fill: #ff0000; stroke: #ff0000; stroke-width: 0.5"/>
     <use href="#m83089336b0" x="597.640594" y="158.184384" style="fill: #ff0000; stroke: #ff0000; stroke-width: 0.5"/>
     <use href="#m83089336b0" x="597.889646" y="156.416119" style="fill: #ff0000; stroke: #ff0000; stroke-width: 0.5"/>
     <use href="#m83089336b0" x="598.325486" y="157.954011" style="fill: #ff0000; stroke: #ff0000; stroke-width: 0.5"/>
     <use href="#m83089336b0" x="596.831177" y="163.115602" style="fill: #ff0000; stroke: #ff0000; stroke-width: 0.5"/>
     <use href="#m83089336b0" x="600.193371" y="151.254528" style="fill: #ff0000; stroke: #ff0000; stroke-width: 0.5"/>
     <use href="#m83089336b0" x="600.317897" y="159.610203" style="fill: #ff0000; stroke: #ff0000; stroke-width: 0.5"/>
     <use href="#m83089336b0" x="597.702857" y="167.137783" style="fill: #ff0000; stroke: #ff0000; stroke-width: 0.5"/>
     <use href="#m83089336b0" x="598.014171" y="162.654857" style="fill: #ff0000; stroke: #ff0000; stroke-width: 0.5"/>
     <use href="#m83089336b0" x="597.391543" y="164.497838" style="fill: #ff0000; stroke: #ff0000; stroke-width: 0.5"/>
    </g>
   </g>
   <g id="patch_15">
    <path d="M 589.92 258.384 
L 589.92 40.464 
" shape-rendering="crispEdges" style="fill: none; stroke: #000000; stroke-width: 0.96; stroke-linejoin: miter; stroke-linecap: square"/>
   </g>
   <g id="patch_16">
    <path d="M 807.84 258.384 
L 807.84 40.464 
" shape-rendering="crispEdges" style="fill: none; stroke: #000000; stroke-width: 0.96; stroke-linejoin: miter; stroke-linecap: square"/>
   </g>
   <g id="patch_17">
    <path d="M 589.92 258.384 
L 807.84 258.384 
" shape-rendering="crispEdges" style="fill: none; stroke: #000000; stroke-width: 0.96; stroke-linejoin: miter; stroke-linecap: square"/>
   </g>
   <g id="patch_18">
    <path d="M 589.92 40.464 
L 807.84 40.464 
" shape-rendering="crispEdges" style="fill: none; stroke: #000000; stroke-width: 0.96; stroke-linejoin: miter; stroke-linecap: square"/>
   </g>
   <g id="matplotlib.axis_5">
    <g id="xtick_17">
     <g id="line2d_96">
      <path d="M 589.9584 258.3840 L 589.9584 40.4640" clip-path="url(#p1b0d35f9a7)" shape-rendering="crispEdges" style="fill: none; stroke-dasharray: 1,3; stroke-dashoffset: 0; stroke: #000000; stroke-width: 0.5"/>
     </g>
     <g id="line2d_97">
      <g>
       <path d="M 589.9584 258.3840 L 589.9584 254.3840" shape-rendering="crispEdges" style="fill: none; stroke: #000000; stroke-width: 0.5"/>
      </g>
     </g>
     <g id="line2d_98">
      <g>
       <path d="M 589.9584 40.4640 L 589.9584 44.4640" shape-rendering="crispEdges" style="fill: none; stroke: #000000; stroke-width: 0.5"/>
      </g>
     </g>
     <g id="text_44">
      <text style="font-size: 8px; font-family: 'DejaVu Sans', sans-serif; text-anchor: middle" x="589.92" y="268.46275" transform="rotate(-0 589.92 268.46275)">−150</text>
     </g>
    </g>
    <g id="xtick_18">
     <g id="line2d_99">
      <path d="M 621.0514 258.3840 L 621.0514 40.4640" clip-path="url(#p1b0d35f9a7)" shape-rendering="crispEdges" style="fill: none; stroke-dasharray: 1,3; stroke-dashoffset: 0; stroke: #000000; stroke-width: 0.5"/>
     </g>
     <g id="line2d_100">
      <g>
       <path d="M 621.0514 258.3840 L 621.0514 254.3840" shape-rendering="crispEdges" style="fill: none; stroke: #000000; stroke-width: 0.5"/>
      </g>
     </g>
     <g id="line2d_101">
      <g>
       <path d="M 621.0514 40.4640 L 621.0514 44.4640" shape-rendering="crispEdges" style="fill: none; stroke: #000000; stroke-width: 0.5"/>
      </g>
     </g>
     <g id="text_45">
      <text style="font-size: 8px; font-family: 'DejaVu Sans', sans-serif; text-anchor: middle" x="621.051429" y="268.46275" transform="rotate(-0 621.051429 268.46275)">−100</text>
     </g>
    </g>
    <g id="xtick_19">
     <g id="line2d_102">
      <path d="M 652.1829 258.3840 L 652.1829 40.4640" clip-path="url(#p1b0d35f9a7)" shape-rendering="crispEdges" style="fill: none; stroke-dasharray: 1,3; stroke-dashoffset: 0; stroke: #000000; stroke-width: 0.5"/>
     </g>
     <g id="line2d_103">
      <g>
       <path d="M 652.1829 258.3840 L 652.1829 254.3840" shape-rendering="crispEdges" style="fill: none; stroke: #000000; stroke-width: 0.5"/>
      </g>
     </g>
     <g id="line2d_104">
      <g>
       <path d="M 652.1829 40.4640 L 652.1829 44.4640" shape-rendering="crispEdges" style="fill: none; stroke: #000000; stroke-width: 0.5"/>
      </g>
     </g>
     <g id="text_46">
      <text style="font-size: 8px; font-family: 'DejaVu Sans', sans-serif; text-anchor: middle" x="652.182857" y="268.46275" transform="rotate(-0 652.182857 268.46275)">−50</text>
     </g>
    </g>
    <g id="xtick_20">
     <g id="line2d_105">
      <path d="M 683.3143 258.3840 L 683.3143 40.4640" clip-path="url(#p1b0d35f9a7)" shape-rendering="crispEdges" style="fill: none; stroke-dasharray: 1,3; stroke-dashoffset: 0; stroke: #000000; stroke-width: 0.5"/>
     </g>
     <g id="line2d_106">
      <g>
       <path d="M 683.3143 258.3840 L 683.3143 254.3840" shape-rendering="crispEdges" style="fill: none; stroke: #000000; stroke-width: 0.5"/>
      </g>
     </g>
     <g id="line2d_107">
      <g>
       <path d="M 683.3143 40.4640 L 683.3143 44.4640" shape-rendering="crispEdges" style="fill: none; stroke: #000000; stroke-width: 0.5"/>
      </g>
     </g>
     <g id="text_47">
      <text style="font-size: 8px; font-family: 'DejaVu Sans', sans-serif; text-anchor: middle" x="683.314286" y="268.46275" transform="rotate(-0 683.314286 268.46275)">0</text>
     </g>
    </g>
    <g id="xtick_21">
     <g id="line2d_108">
      <path d="M 714.4457 258.3840 L 714.4457 40.4640" clip-path="url(#p1b0d35f9a7)" shape-rendering="crispEdges" style="fill: none; stroke-dasharray: 1,3; stroke-dashoffset: 0; stroke: #000000; stroke-width: 0.5"/>
     </g>
     <g id="line2d_109">
      <g>
       <path d="M 714.4457 258.3840 L 714.4457 254.3840" shape-rendering="crispEdges" style="fill: none; stroke: #000000; stroke-width: 0.5"/>
      </g>
     </g>
     <g id="line2d_110">
      <g>
       <path d="M 714.4457 40.4640 L 714.4457 44.4640" shape-rendering="crispEdges" style="fill: none; stroke: #000000; stroke-width: 0.5"/>
      </g>
     </g>
     <g id="text_48">
      <text style="font-size: 8px; font-family: 'DejaVu Sans', sans-serif; text-anchor: middle" x="714.445714" y="268.46275" transform="rotate(-0 714.445714 268.46275)">50</text>
     </g>
    </g>
    <g id="xtick_22">
     <g id="line2d_111">
      <path d="M 745.5771 258.3840 L 745.5771 40.4640" clip-path="url(#p1b0d35f9a7)" shape-rendering="crispEdges" style="fill: none; stroke-dasharray: 1,3; stroke-dashoffset: 0; stroke: #000000; stroke-width: 0.5"/>
     </g>
     <g id="line2d_112">
      <g>
       <path d="M 745.5771 258.3840 L 745.5771 254.3840" shape-rendering="crispEdges" style="fill: none; stroke: #000000; stroke-width: 0.5"/>
      </g>
     </g>
     <g id="line2d_113">
      <g>
       <path d="M 745.5771 40.4640 L 745.5771 44.4640" shape-rendering="crispEdges" style="fill: none; stroke: #000000; stroke-width: 0.5"/>
      </g>
     </g>
     <g id="text_49">
      <text style="font-size: 8px; font-family: 'DejaVu Sans', sans-serif; text-anchor: middle" x="745.577143" y="268.46275" transform="rotate(-0 745.577143 268.46275)">100</text>
     </g>
    </g>
    <g id="xtick_23">
     <g id="line2d_114">
      <path d="M 776.7086 258.3840 L 776.7086 40.4640" clip-path="url(#p1b0d35f9a7)" shape-rendering="crispEdges" style="fill: none; stroke-dasharray: 1,3; stroke-dashoffset: 0; stroke: #000000; stroke-width: 0.5"/>
     </g>
     <g id="line2d_115">
      <g>
       <path d="M 776.7086 258.3840 L 776.7086 254.3840" shape-rendering="crispEdges" style="fill: none; stroke: #000000; stroke-width: 0.5"/>
      </g>
     </g>
     <g id="line2d_116">
      <g>
       <path d="M 776.7086 40.4640 L 776.7086 44.4640" shape-rendering="crispEdges" style="fill: none; stroke: #000000; stroke-width: 0.5"/>
      </g>
     </g>
     <g id="text_50">
      <text style="font-size: 8px; font-family: 'DejaVu Sans', sans-serif; text-anchor: middle" x="776.708571" y="268.46275" transform="rotate(-0 776.708571 268.46275)">150</text>
     </g>
    </g>
    <g id="xtick_24">
     <g id="line2d_117">
      <path d="M 807.8784 258.3840 L 807.8784 40.4640" clip-path="url(#p1b0d35f9a7)" shape-rendering="crispEdges" style="fill: none; stroke-dasharray: 1,3; stroke-dashoffset: 0; stroke: #000000; stroke-width: 0.5"/>
     </g>
     <g id="line2d_118">
      <g>
       <path d="M 807.8784 258.3840 L 807.8784 254.3840" shape-rendering="crispEdges" style="fill: none; stroke: #000000; stroke-width: 0.5"/>
      </g>
     </g>
     <g id="line2d_119">
      <g>
       <path d="M 807.8784 40.4640 L 807.8784 44.4640" shape-rendering="crispEdges" style="fill: none; stroke: #000000; stroke-width: 0.5"/>
      </g>
     </g>
     <g id="text_51">
      <text style="font-size: 8px; font-family: 'DejaVu Sans', sans-serif; text-anchor: middle" x="807.84" y="268.46275" transform="rotate(-0 807.84 268.46275)">200</text>
     </g>
    </g>
    <g id="text_52">
     <text style="font-size: 8px; font-family: 'DejaVu Sans', sans-serif; text-anchor: middle" x="698.88" y="282.60525" transform="rotate(-0 698.88 282.60525)">V3(km/s)</text>
    </g>
   </g>
   <g id="matplotlib.axis_6">
    <g id="ytick_19">
     <g id="line2d_120">
      <path d="M 589.9200 249.0446 L 807.8400 249.0446" clip-path="url(#p1b0d35f9a7)" shape-rendering="crispEdges" style="fill: none; stroke-dasharray: 1,3; stroke-dashoffset: 0; stroke: #000000; stroke-width: 0.5"/>
     </g>
     <g id="line2d_121">
      <g>
       <path d="M 589.9200 249.0446 L 593.9200 249.0446" shape-rendering="crispEdges" style="fill: none; stroke: #000000; stroke-width: 0.5"/>
      </g>
     </g>
     <g id="line2d_122">
      <g>
       <path d="M 807.8400 249.0446 L 803.8400 249.0446" shape-rendering="crispEdges" style="fill: none; stroke: #000000; stroke-width: 0.5"/>
      </g>
     </g>
     <g id="text_53">
      <text style="font-size: 8px; font-family: 'DejaVu Sans', sans-serif; text-anchor: end" x="585.92" y="251.252071" transform="rotate(-0 585.92 251.252071)">−150</text>
     </g>
    </g>
    <g id="ytick_20">
     <g id="line2d_123">
      <path d="M 589.9200 217.9584 L 807.8400 217.9584" clip-path="url(#p1b0d35f9a7)" shape-rendering="crispEdges" style="fill: none; stroke-dasharray: 1,3; stroke-dashoffset: 0; stroke: #000000; stroke-width: 0.5"/>
     </g>
     <g id="line2d_124">
      <g>
       <path d="M 589.9200 217.9584 L 593.9200 217.9584" shape-rendering="crispEdges" style="fill: none; stroke: #000000; stroke-width: 0.5"/>
      </g>
     </g>
     <g id="line2d_125">
      <g>
       <path d="M 807.8400 217.9584 L 803.8400 217.9584" shape-rendering="crispEdges" style="fill: none; stroke: #000000; stroke-width: 0.5"/>
      </g>
     </g>
     <g id="text_54">
      <text style="font-size: 8px; font-family: 'DejaVu Sans', sans-serif; text-anchor: end" x="585.92" y="220.120643" transform="rotate(-0 585.92 220.120643)">−100</text>
     </g>
    </g>
    <g id="ytick_21">
     <g id="line2d_126">
      <path d="M 589.9200 186.7817 L 807.8400 186.7817" clip-path="url(#p1b0d35f9a7)" shape-rendering="crispEdges" style="fill: none; stroke-dasharray: 1,3; stroke-dashoffset: 0; stroke: #000000; stroke-width: 0.5"/>
     </g>
     <g id="line2d_127">
      <g>
       <path d="M 589.9200 186.7817 L 593.9200 186.7817" shape-rendering="crispEdges" style="fill: none; stroke: #000000; stroke-width: 0.5"/>
      </g>
     </g>
     <g id="line2d_128">
      <g>
       <path d="M 807.8400 186.7817 L 803.8400 186.7817" shape-rendering="crispEdges" style="fill: none; stroke: #000000; stroke-width: 0.5"/>
      </g>
     </g>
     <g id="text_55">
      <text style="font-size: 8px; font-family: 'DejaVu Sans', sans-serif; text-anchor: end" x="585.92" y="188.989214" transform="rotate(-0 585.92 188.989214)">−50</text>
     </g>
    </g>
    <g id="ytick_22">
     <g id="line2d_129">
      <path d="M 589.9200 155.6503 L 807.8400 155.6503" clip-path="url(#p1b0d35f9a7)" shape-rendering="crispEdges" style="fill: none; stroke-dasharray: 1,3; stroke-dashoffset: 0; stroke: #000000; stroke-width: 0.5"/>
     </g>
     <g id="line2d_130">
      <g>
       <path d="M 589.9200 155.6503 L 593.9200 155.6503" shape-rendering="crispEdges" style="fill: none; stroke: #000000; stroke-width: 0.5"/>
      </g>
     </g>
     <g id="line2d_131">
      <g>
       <path d="M 807.8400 155.6503 L 803.8400 155.6503" shape-rendering="crispEdges" style="fill: none; stroke: #000000; stroke-width: 0.5"/>
      </g>
     </g>
     <g id="text_56">
      <text style="font-size: 8px; font-family: 'DejaVu Sans', sans-serif; text-anchor: end" x="585.92" y="157.857786" transform="rotate(-0 585.92 157.857786)">0</text>
     </g>
    </g>
    <g id="ytick_23">
     <g id="line2d_132">
      <path d="M 589.9200 124.5189 L 807.8400 124.5189" clip-path="url(#p1b0d35f9a7)" shape-rendering="crispEdges" style="fill: none; stroke-dasharray: 1,3; stroke-dashoffset: 0; stroke: #000000; stroke-width: 0.5"/>
     </g>
     <g id="line2d_133">
      <g>
       <path d="M 589.9200 124.5189 L 593.9200 124.5189" shape-rendering="crispEdges" style="fill: none; stroke: #000000; stroke-width: 0.5"/>
      </g>
     </g>
     <g id="line2d_134">
      <g>
       <path d="M 807.8400 124.5189 L 803.8400 124.5189" shape-rendering="crispEdges" style="fill: none; stroke: #000000; stroke-width: 0.5"/>
      </g>
     </g>
     <g id="text_57">
      <text style="font-size: 8px; font-family: 'DejaVu Sans', sans-serif; text-anchor: end" x="585.92" y="126.726357" transform="rotate(-0 585.92 126.726357)">50</text>
     </g>
    </g>
    <g id="ytick_24">
     <g id="line2d_135">
      <path d="M 589.9200 93.3874 L 807.8400 93.3874" clip-path="url(#p1b0d35f9a7)" shape-rendering="crispEdges" style="fill: none; stroke-dasharray: 1,3; stroke-dashoffset: 0; stroke: #000000; stroke-width: 0.5"/>
     </g>
     <g id="line2d_136">
      <g>
       <path d="M 589.9200 93.3874 L 593.9200 93.3874" shape-rendering="crispEdges" style="fill: none; stroke: #000000; stroke-width: 0.5"/>
      </g>
     </g>
     <g id="line2d_137">
      <g>
       <path d="M 807.8400 93.3874 L 803.8400 93.3874" shape-rendering="crispEdges" style="fill: none; stroke: #000000; stroke-width: 0.5"/>
      </g>
     </g>
     <g id="text_58">
      <text style="font-size: 8px; font-family: 'DejaVu Sans', sans-serif; text-anchor: end" x="585.92" y="95.594929" transform="rotate(-0 585.92 95.594929)">100</text>
     </g>
    </g>
    <g id="ytick_25">
     <g id="line2d_138">
      <path d="M 589.9200 62.2560 L 807.8400 62.2560" clip-path="url(#p1b0d35f9a7)" shape-rendering="crispEdges" style="fill: none; stroke-dasharray: 1,3; stroke-dashoffset: 0; stroke: #000000; stroke-width: 0.5"/>
     </g>
     <g id="line2d_139">
      <g>
       <path d="M 589.9200 62.2560 L 593.9200 62.2560" shape-rendering="crispEdges" style="fill: none; stroke: #000000; stroke-width: 0.5"/>
      </g>
     </g>
     <g id="line2d_140">
      <g>
       <path d="M 807.8400 62.2560 L 803.8400 62.2560" shape-rendering="crispEdges" style="fill: none; stroke: #000000; stroke-width: 0.5"/>
      </g>
     </g>
     <g id="text_59">
      <text style="font-size: 8px; font-family: 'DejaVu Sans', sans-serif; text-anchor: end" x="585.92" y="64.4635" transform="rotate(-0 585.92 64.4635)">150</text>
     </g>
    </g>
    <g id="text_60">
     <text style="font-size: 8px; font-family: 'DejaVu Sans', sans-serif; text-anchor: middle" x="556.3825" y="149.424" transform="rotate(-90 556.3825 149.424)">V1(km/s)</text>
    </g>
   </g>
   <g id="text_61">
    <g transform="translate(605.7192 247.92384)">
     <text>
      <tspan x="0" y="-0.25" style="font-size: 9px; font-family: 'Liberation Serif', serif; font-style: italic" class="cmmi10">λ</tspan>
      <tspan x="8.971031" y="-0.25" style="font-size: 9px; font-family: 'Liberation Serif', serif; font-style: italic" class="cmmi10">/</tspan>
      <tspan x="13.471031" y="-0.25" style="font-size: 9px; font-family: 'Liberation Serif', serif; font-style: italic" class="cmmi10">λ</tspan>
      <tspan x="5.24707" y="1.280563" style="font-size: 6.3px; font-family: 'Liberation Serif', serif" class="cmr10">1</tspan>
      <tspan x="18.718102" y="1.280563" style="font-size: 6.3px; font-family: 'Liberation Serif', serif" class="cmr10">3</tspan>
      <tspan x="24.022336" y="-0.25" style="font-size: 9px; font-family: 'Liberation Serif', serif" class="cmsy10">≈</tspan>
      <tspan x="33.911229" y="-0.25" style="font-size: 9px; font-family: 'DejaVu Sans', sans-serif">4</tspan>
      <tspan x="39.637304" y="-0.25" style="font-size: 9px; font-family: 'DejaVu Sans', sans-serif">1</tspan>
      <tspan x="45.363378" y="-0.25" style="font-size: 9px; font-family: 'DejaVu Sans', sans-serif">1</tspan>
      <tspan x="51.089452" y="-0.25" style="font-size: 9px; font-family: 'DejaVu Sans', sans-serif">.</tspan>
      <tspan x="53.950292" y="-0.25" style="font-size: 9px; font-family: 'DejaVu Sans', sans-serif">6</tspan>
      <tspan x="59.676366" y="-0.25" style="font-size: 9px; font-family: 'DejaVu Sans', sans-serif">5</tspan>
     </text>
    </g>
   </g>
   <g id="title_T3" transform="matrix(0.98726 0 0 1 8.3325 0)">
    <text style="font-size: 11.23px; font-family: 'DejaVu Sans', sans-serif; text-anchor: middle" x="698.88" y="35.464" transform="rotate(-0 698.88 35.464)">Hodogram(V3_V1 MVAB frame)</text>
   </g>
   <g id="patch_19">
    <path d="M 750.264 72.432 
L 804.432 72.432 
L 804.432 43.872 
L 750.264 43.872 
z
" shape-rendering="crispEdges" style="fill: #ffffff; stroke: #000000; stroke-width: 0.96; stroke-linejoin: miter"/>
   </g>
   <g id="line2d_141">
    <path d="M 755.28 51.696 
L 764.88 51.696 
" style="fill: none; stroke: #0000ff; stroke-linecap: square"/>
    <g>
     <use href="#m40c38f925a" x="755.28" y="51.696" style="fill: #0000ff; stroke: #0000ff; stroke-width: 0.5"/>
     <use href="#m40c38f925a" x="764.88" y="51.696" style="fill: #0000ff; stroke: #0000ff; stroke-width: 0.5"/>
    </g>
   </g>
   <g id="text_62">
    <g transform="translate(772.656 53.328)">
     <text>
      <tspan x="0" y="-0.314375" style="font-size: 7px; font-family: 'DejaVu Sans', sans-serif">B</tspan>
      <tspan x="4.802246" y="-0.314375" style="font-size: 7px; font-family: 'DejaVu Sans', sans-serif">/</tspan>
      <tspan x="7.39" y="0.98" style="font-size: 8.4px; font-family: 'DejaVu Sans', sans-serif" class="cmex10">√</tspan>
      <tspan x="13.691895" y="-0.46875" style="font-size: 7px; font-family: 'Liberation Serif', serif; font-style: italic" class="cmmi10">μ</tspan>
      <tspan x="20.802664" y="-0.46875" style="font-size: 7px; font-family: 'Liberation Serif', serif; font-style: italic" class="cmmi10">ρ</tspan>
      <tspan x="17.90625" y="0.721687" style="font-size: 4.9px; font-family: 'Liberation Serif', serif" class="cmr10">0</tspan>
     </text>
     <rect x="12.816895" y="-6.125" width="12.480398" height="0.4375"/>
    </g>
   </g>
   <g id="line2d_142">
    <path d="M 755.28 64.224 
L 764.88 64.224 
" style="fill: none; stroke: #ff0000; stroke-linecap: square"/>
    <g>
     <use href="#m83089336b0" x="755.28" y="64.224" style="fill: #ff0000; stroke: #ff0000; stroke-width: 0.5"/>
     <use href="#m83089336b0" x="764.88" y="64.224" style="fill: #ff0000; stroke: #ff0000; stroke-width: 0.5"/>
    </g>
   </g>
   <g id="text_63">
    <g transform="translate(772.656 66.336)">
     <text>
      <tspan x="0" y="-0.890625" style="font-size: 7px; font-family: 'DejaVu Sans', sans-serif">V</tspan>
      <tspan x="5.101064" y="0.299812" style="font-size: 4.9px; font-family: 'Liberation Serif', serif; font-style: italic" class="cmmi10">r</tspan>
      <tspan x="7.311806" y="0.299812" style="font-size: 4.9px; font-family: 'Liberation Serif', serif; font-style: italic" class="cmmi10">e</tspan>
      <tspan x="9.589541" y="0.299812" style="font-size: 4.9px; font-family: 'Liberation Serif', serif; font-style: italic" class="cmmi10">m</tspan>
      <tspan x="13.891396" y="0.299812" style="font-size: 4.9px; font-family: 'Liberation Serif', serif; font-style: italic" class="cmmi10">a</tspan>
      <tspan x="16.477773" y="0.299812" style="font-size: 4.9px; font-family: 'Liberation Serif', serif; font-style: italic" class="cmmi10">i</tspan>
      <tspan x="18.164541" y="0.299812" style="font-size: 4.9px; font-family: 'Liberation Serif', serif; font-style: italic" class="cmmi10">n</tspan>
      <tspan x="21.105019" y="0.299812" style="font-size: 4.9px; font-family: 'Liberation Serif', serif; font-style: italic" class="cmmi10">i</tspan>
      <tspan x="22.791787" y="0.299812" style="font-size: 4.9px; font-family: 'Liberation Serif', serif; font-style: italic" class="cmmi10">n</tspan>
      <tspan x="25.732265" y="0.299812" style="font-size: 4.9px; font-family: 'Liberation Serif', serif; font-style: italic" class="cmmi10">g</tspan>
     </text>
    </g>
   </g>
  </g>
  <g id="axes_4">
   <g id="patch_20">
    <path d="M 323.04 535.824 
L 540.96 535.824 
L 540.96 317.904 
L 323.04 317.904 
z
" style="fill: #ffffff"/>
   </g>
   <g id="line2d_143">
    <path d="M 426.71544 336.5634 
L 417.50832 456.99144 
L 420.36852 470.9928 
L 437.66592 465 
L 450.6594 473.3082 
L 418.84308 492.40344 
L 434.77848 442.06392 
L 425.08104 477.72108 
L 417.50832 510.16392 
L 433.71612 492.40344 
L 438.56484 501.14748 
" clip-path="url(#p9e98e754fd)" style="fill: none; stroke: #0000ff; stroke-linecap: square"/>
    <g clip-path="url(#p9e98e754fd)">
     <use href="#m40c38f925a" x="426.71544" y="336.5634" style="fill: #0000ff; stroke: #0000ff; stroke-width: 0.5"/>
     <use href="#m40c38f925a" x="417.50832" y="456.99144" style="fill: #0000ff; stroke: #0000ff; stroke-width: 0.5"/>
     <use href="#m40c38f925a" x="420.36852" y="470.9928" style="fill: #0000ff; stroke: #0000ff; stroke-width: 0.5"/>
     <use href="#m40c38f925a" x="437.66592" y="465" style="fill: #0000ff; stroke: #0000ff; stroke-width: 0.5"/>
     <use href="#m40c38f925a" x="450.6594" y="473.3082" style="fill: #0000ff; stroke: #0000ff; stroke-width: 0.5"/>
     <use href="#m40c38f925a" x="418.84308" y="492.40344" style="fill: #0000ff; stroke: #0000ff; stroke-width: 0.5"/>
     <use href="#m40c38f925a" x="434.77848" y="442.06392" style="fill: #0000ff; stroke: #0000ff; stroke-width: 0.5"/>
     <use href="#m40c38f925a" x="425.08104" y="477.72108" style="fill: #0000ff; stroke: #0000ff; stroke-width: 0.5"/>
     <use href="#m40c38f925a" x="417.50832" y="510.16392" style="fill: #0000ff; stroke: #0000ff; stroke-width: 0.5"/>
     <use href="#m40c38f925a" x="433.71612" y="492.40344" style="fill: #0000ff; stroke: #0000ff; stroke-width: 0.5"/>
     <use href="#m40c38f925a" x="438.56484" y="501.14748" style="fill: #0000ff; stroke: #0000ff; stroke-width: 0.5"/>
    </g>
   </g>
   <g id="patch_21">
    <path d="M 323.04 535.824 
L 323.04 317.904 
" shape-rendering="crispEdges" style="fill: none; stroke: #000000; stroke-width: 0.96; stroke-linejoin: miter; stroke-linecap: square"/>
   </g>
   <g id="patch_22">
    <path d="M 540.96 535.824 
L 540.96 317.904 
" shape-rendering="crispEdges" style="fill: none; stroke: #000000; stroke-width: 0.96; stroke-linejoin: miter; stroke-linecap: square"/>
   </g>
   <g id="patch_23">
    <path d="M 323.04 535.824 
L 540.96 535.824 
" shape-rendering="crispEdges" style="fill: none; stroke: #000000; stroke-width: 0.96; stroke-linejoin: miter; stroke-linecap: square"/>
   </g>
   <g id="patch_24">
    <path d="M 323.04 317.904 
L 540.96 317.904 
" shape-rendering="crispEdges" style="fill: none; stroke: #000000; stroke-width: 0.96; stroke-linejoin: miter; stroke-linecap: square"/>
   </g>
   <g id="matplotlib.axis_7">
    <g id="xtick_25">
     <g id="line2d_144">
      <path d="M 347.8284 535.8240 L 347.8284 317.9040" clip-path="url(#p9e98e754fd)" shape-rendering="crispEdges" style="fill: none; stroke-dasharray: 1,3; stroke-dashoffset: 0; stroke: #000000; stroke-width: 0.5"/>
     </g>
     <g id="line2d_145">
      <g>
       <path d="M 347.8284 535.8240 L 347.8284 531.8240" shape-rendering="crispEdges" style="fill: none; stroke: #000000; stroke-width: 0.5"/>
      </g>
     </g>
     <g id="line2d_146">
      <g>
       <path d="M 347.8284 317.9040 L 347.8284 321.9040" shape-rendering="crispEdges" style="fill: none; stroke: #000000; stroke-width: 0.5"/>
      </g>
     </g>
     <g id="text_64">
      <text style="font-size: 8px; font-family: 'DejaVu Sans', sans-serif; text-anchor: middle" x="347.8284" y="545.90275" transform="rotate(-0 347.8284 545.90275)">−20</text>
     </g>
    </g>
    <g id="xtick_26">
     <g id="line2d_147">
      <path d="M 375.0684 535.8240 L 375.0684 317.9040" clip-path="url(#p9e98e754fd)" shape-rendering="crispEdges" style="fill: none; stroke-dasharray: 1,3; stroke-dashoffset: 0; stroke: #000000; stroke-width: 0.5"/>
     </g>
     <g id="line2d_148">
      <g>
       <path d="M 375.0684 535.8240 L 375.0684 531.8240" shape-rendering="crispEdges" style="fill: none; stroke: #000000; stroke-width: 0.5"/>
      </g>
     </g>
     <g id="line2d_149">
      <g>
       <path d="M 375.0684 317.9040 L 375.0684 321.9040" shape-rendering="crispEdges" style="fill: none; stroke: #000000; stroke-width: 0.5"/>
      </g>
     </g>
     <g id="text_65">
      <text style="font-size: 8px; font-family: 'DejaVu Sans', sans-serif; text-anchor: middle" x="375.0684" y="545.90275" transform="rotate(-0 375.0684 545.90275)">−10</text>
     </g>
    </g>
    <g id="xtick_27">
     <g id="line2d_150">
      <path d="M 402.3084 535.8240 L 402.3084 317.9040" clip-path="url(#p9e98e754fd)" shape-rendering="crispEdges" style="fill: none; stroke-dasharray: 1,3; stroke-dashoffset: 0; stroke: #000000; stroke-width: 0.5"/>
     </g>
     <g id="line2d_151">
      <g>
       <path d="M 402.3084 535.8240 L 402.3084 531.8240" shape-rendering="crispEdges" style="fill: none; stroke: #000000; stroke-width: 0.5"/>
      </g>
     </g>
     <g id="line2d_152">
      <g>
       <path d="M 402.3084 317.9040 L 402.3084 321.9040" shape-rendering="crispEdges" style="fill: none; stroke: #000000; stroke-width: 0.5"/>
      </g>
     </g>
     <g id="text_66">
      <text style="font-size: 8px; font-family: 'DejaVu Sans', sans-serif; text-anchor: middle" x="402.3084" y="545.90275" transform="rotate(-0 402.3084 545.90275)">0</text>
     </g>
    </g>
    <g id="xtick_28">
     <g id="line2d_153">
      <path d="M 429.5484 535.8240 L 429.5484 317.9040" clip-path="url(#p9e98e754fd)" shape-rendering="crispEdges" style="fill: none; stroke-dasharray: 1,3; stroke-dashoffset: 0; stroke: #000000; stroke-width: 0.5"/>
     </g>
     <g id="line2d_154">
      <g>
       <path d="M 429.5484 535.8240 L 429.5484 531.8240" shape-rendering="crispEdges" style="fill: none; stroke: #000000; stroke-width: 0.5"/>
      </g>
     </g>
     <g id="line2d_155">
      <g>
       <path d="M 429.5484 317.9040 L 429.5484 321.9040" shape-rendering="crispEdges" style="fill: none; stroke: #000000; stroke-width: 0.5"/>
      </g>
     </g>
     <g id="text_67">
      <text style="font-size: 8px; font-family: 'DejaVu Sans', sans-serif; text-anchor: middle" x="429.5484" y="545.90275" transform="rotate(-0 429.5484 545.90275)">10</text>
     </g>
    </g>
    <g id="xtick_29">
     <g id="line2d_156">
      <path d="M 456.7884 535.8240 L 456.7884 317.9040" clip-path="url(#p9e98e754fd)" shape-rendering="crispEdges" style="fill: none; stroke-dasharray: 1,3; stroke-dashoffset: 0; stroke: #000000; stroke-width: 0.5"/>
     </g>
     <g id="line2d_157">
      <g>
       <path d="M 456.7884 535.8240 L 456.7884 531.8240" shape-rendering="crispEdges" style="fill: none; stroke: #000000; stroke-width: 0.5"/>
      </g>
     </g>
     <g id="line2d_158">
      <g>
       <path d="M 456.7884 317.9040 L 456.7884 321.9040" shape-rendering="crispEdges" style="fill: none; stroke: #000000; stroke-width: 0.5"/>
      </g>
     </g>
     <g id="text_68">
      <text style="font-size: 8px; font-family: 'DejaVu Sans', sans-serif; text-anchor: middle" x="456.7884" y="545.90275" transform="rotate(-0 456.7884 545.90275)">20</text>
     </g>
    </g>
    <g id="xtick_30">
     <g id="line2d_159">
      <path d="M 484.0284 535.8240 L 484.0284 317.9040" clip-path="url(#p9e98e754fd)" shape-rendering="crispEdges" style="fill: none; stroke-dasharray: 1,3; stroke-dashoffset: 0; stroke: #000000; stroke-width: 0.5"/>
     </g>
     <g id="line2d_160">
      <g>
       <path d="M 484.0284 535.8240 L 484.0284 531.8240" shape-rendering="crispEdges" style="fill: none; stroke: #000000; stroke-width: 0.5"/>
      </g>
     </g>
     <g id="line2d_161">
      <g>
       <path d="M 484.0284 317.9040 L 484.0284 321.9040" shape-rendering="crispEdges" style="fill: none; stroke: #000000; stroke-width: 0.5"/>
      </g>
     </g>
     <g id="text_69">
      <text style="font-size: 8px; font-family: 'DejaVu Sans', sans-serif; text-anchor: middle" x="484.0284" y="545.90275" transform="rotate(-0 484.0284 545.90275)">30</text>
     </g>
    </g>
    <g id="xtick_31">
     <g id="line2d_162">
      <path d="M 511.2684 535.8240 L 511.2684 317.9040" clip-path="url(#p9e98e754fd)" shape-rendering="crispEdges" style="fill: none; stroke-dasharray: 1,3; stroke-dashoffset: 0; stroke: #000000; stroke-width: 0.5"/>
     </g>
     <g id="line2d_163">
      <g>
       <path d="M 511.2684 535.8240 L 511.2684 531.8240" shape-rendering="crispEdges" style="fill: none; stroke: #000000; stroke-width: 0.5"/>
      </g>
     </g>
     <g id="line2d_164">
      <g>
       <path d="M 511.2684 317.9040 L 511.2684 321.9040" shape-rendering="crispEdges" style="fill: none; stroke: #000000; stroke-width: 0.5"/>
      </g>
     </g>
     <g id="text_70">
      <text style="font-size: 8px; font-family: 'DejaVu Sans', sans-serif; text-anchor: middle" x="511.2684" y="545.90275" transform="rotate(-0 511.2684 545.90275)">40</text>
     </g>
    </g>
    <g id="xtick_32">
     <g id="line2d_165">
      <path d="M 538.5084 535.8240 L 538.5084 317.9040" clip-path="url(#p9e98e754fd)" shape-rendering="crispEdges" style="fill: none; stroke-dasharray: 1,3; stroke-dashoffset: 0; stroke: #000000; stroke-width: 0.5"/>
     </g>
     <g id="line2d_166">
      <g>
       <path d="M 538.5084 535.8240 L 538.5084 531.8240" shape-rendering="crispEdges" style="fill: none; stroke: #000000; stroke-width: 0.5"/>
      </g>
     </g>
     <g id="line2d_167">
      <g>
       <path d="M 538.5084 317.9040 L 538.5084 321.9040" shape-rendering="crispEdges" style="fill: none; stroke: #000000; stroke-width: 0.5"/>
      </g>
     </g>
     <g id="text_71">
      <text style="font-size: 8px; font-family: 'DejaVu Sans', sans-serif; text-anchor: middle" x="538.5084" y="545.90275" transform="rotate(-0 538.5084 545.90275)">50</text>
     </g>
    </g>
    <g id="text_72">
     <text style="font-size: 8px; font-family: 'DejaVu Sans', sans-serif; text-anchor: middle" x="432" y="560.04525" transform="rotate(-0 432 560.04525)">V2(km/s)</text>
    </g>
   </g>
   <g id="matplotlib.axis_8">
    <g id="ytick_26">
     <g id="line2d_168">
      <path d="M 323.0400 535.8240 L 540.9600 535.8240" clip-path="url(#p9e98e754fd)" shape-rendering="crispEdges" style="fill: none; stroke-dasharray: 1,3; stroke-dashoffset: 0; stroke: #000000; stroke-width: 0.5"/>
     </g>
     <g id="line2d_169">
      <g>
       <path d="M 323.0400 535.8240 L 327.0400 535.8240" shape-rendering="crispEdges" style="fill: none; stroke: #000000; stroke-width: 0.5"/>
      </g>
     </g>
     <g id="line2d_170">
      <g>
       <path d="M 540.9600 535.8240 L 536.9600 535.8240" shape-rendering="crispEdges" style="fill: none; stroke: #000000; stroke-width: 0.5"/>
      </g>
     </g>
     <g id="text_73">
      <text style="font-size: 8px; font-family: 'DejaVu Sans', sans-serif; text-anchor: end" x="319.04" y="538.0315" transform="rotate(-0 319.04 538.0315)">−30</text>
     </g>
    </g>
    <g id="ytick_27">
     <g id="line2d_171">
      <path d="M 323.0400 508.5840 L 540.9600 508.5840" clip-path="url(#p9e98e754fd)" shape-rendering="crispEdges" style="fill: none; stroke-dasharray: 1,3; stroke-dashoffset: 0; stroke: #000000; stroke-width: 0.5"/>
     </g>
     <g id="line2d_172">
      <g>
       <path d="M 323.0400 508.5840 L 327.0400 508.5840" shape-rendering="crispEdges" style="fill: none; stroke: #000000; stroke-width: 0.5"/>
      </g>
     </g>
     <g id="line2d_173">
      <g>
       <path d="M 540.9600 508.5840 L 536.9600 508.5840" shape-rendering="crispEdges" style="fill: none; stroke: #000000; stroke-width: 0.5"/>
      </g>
     </g>
     <g id="text_74">
      <text style="font-size: 8px; font-family: 'DejaVu Sans', sans-serif; text-anchor: end" x="319.04" y="510.7915" transform="rotate(-0 319.04 510.7915)">−20</text>
     </g>
    </g>
    <g id="ytick_28">
     <g id="line2d_174">
      <path d="M 323.0400 481.3440 L 540.9600 481.3440" clip-path="url(#p9e98e754fd)" shape-rendering="crispEdges" style="fill: none; stroke-dasharray: 1,3; stroke-dashoffset: 0; stroke: #000000; stroke-width: 0.5"/>
     </g>
     <g id="line2d_175">
      <g>
       <path d="M 323.0400 481.3440 L 327.0400 481.3440" shape-rendering="crispEdges" style="fill: none; stroke: #000000; stroke-width: 0.5"/>
      </g>
     </g>
     <g id="line2d_176">
      <g>
       <path d="M 540.9600 481.3440 L 536.9600 481.3440" shape-rendering="crispEdges" style="fill: none; stroke: #000000; stroke-width: 0.5"/>
      </g>
     </g>
     <g id="text_75">
      <text style="font-size: 8px; font-family: 'DejaVu Sans', sans-serif; text-anchor: end" x="319.04" y="483.5515" transform="rotate(-0 319.04 483.5515)">−10</text>
     </g>
    </g>
    <g id="ytick_29">
     <g id="line2d_177">
      <path d="M 323.0400 454.1184 L 540.9600 454.1184" clip-path="url(#p9e98e754fd)" shape-rendering="crispEdges" style="fill: none; stroke-dasharray: 1,3; stroke-dashoffset: 0; stroke: #000000; stroke-width: 0.5"/>
     </g>
     <g id="line2d_178">
      <g>
       <path d="M 323.0400 454.1184 L 327.0400 454.1184" shape-rendering="crispEdges" style="fill: none; stroke: #000000; stroke-width: 0.5"/>
      </g>
     </g>
     <g id="line2d_179">
      <g>
       <path d="M 540.9600 454.1184 L 536.9600 454.1184" shape-rendering="crispEdges" style="fill: none; stroke: #000000; stroke-width: 0.5"/>
      </g>
     </g>
     <g id="text_76">
      <text style="font-size: 8px; font-family: 'DejaVu Sans', sans-serif; text-anchor: end" x="319.04" y="456.3115" transform="rotate(-0 319.04 456.3115)">0</text>
     </g>
    </g>
    <g id="ytick_30">
     <g id="line2d_180">
      <path d="M 323.0400 426.8640 L 540.9600 426.8640" clip-path="url(#p9e98e754fd)" shape-rendering="crispEdges" style="fill: none; stroke-dasharray: 1,3; stroke-dashoffset: 0; stroke: #000000; stroke-width: 0.5"/>
     </g>
     <g id="line2d_181">
      <g>
       <path d="M 323.0400 426.8640 L 327.0400 426.8640" shape-rendering="crispEdges" style="fill: none; stroke: #000000; stroke-width: 0.5"/>
      </g>
     </g>
     <g id="line2d_182">
      <g>
       <path d="M 540.9600 426.8640 L 536.9600 426.8640" shape-rendering="crispEdges" style="fill: none; stroke: #000000; stroke-width: 0.5"/>
      </g>
     </g>
     <g id="text_77">
      <text style="font-size: 8px; font-family: 'DejaVu Sans', sans-serif; text-anchor: end" x="319.04" y="429.0715" transform="rotate(-0 319.04 429.0715)">10</text>
     </g>
    </g>
    <g id="ytick_31">
     <g id="line2d_183">
      <path d="M 323.0400 399.6240 L 540.9600 399.6240" clip-path="url(#p9e98e754fd)" shape-rendering="crispEdges" style="fill: none; stroke-dasharray: 1,3; stroke-dashoffset: 0; stroke: #000000; stroke-width: 0.5"/>
     </g>
     <g id="line2d_184">
      <g>
       <path d="M 323.0400 399.6240 L 327.0400 399.6240" shape-rendering="crispEdges" style="fill: none; stroke: #000000; stroke-width: 0.5"/>
      </g>
     </g>
     <g id="line2d_185">
      <g>
       <path d="M 540.9600 399.6240 L 536.9600 399.6240" shape-rendering="crispEdges" style="fill: none; stroke: #000000; stroke-width: 0.5"/>
      </g>
     </g>
     <g id="text_78">
      <text style="font-size: 8px; font-family: 'DejaVu Sans', sans-serif; text-anchor: end" x="319.04" y="401.8315" transform="rotate(-0 319.04 401.8315)">20</text>
     </g>
    </g>
    <g id="ytick_32">
     <g id="line2d_186">
      <path d="M 323.0400 372.3840 L 540.9600 372.3840" clip-path="url(#p9e98e754fd)" shape-rendering="crispEdges" style="fill: none; stroke-dasharray: 1,3; stroke-dashoffset: 0; stroke: #000000; stroke-width: 0.5"/>
     </g>
     <g id="line2d_187">
      <g>
       <path d="M 323.0400 372.3840 L 327.0400 372.3840" shape-rendering="crispEdges" style="fill: none; stroke: #000000; stroke-width: 0.5"/>
      </g>
     </g>
     <g id="line2d_188">
      <g>
       <path d="M 540.9600 372.3840 L 536.9600 372.3840" shape-rendering="crispEdges" style="fill: none; stroke: #000000; stroke-width: 0.5"/>
      </g>
     </g>
     <g id="text_79">
      <text style="font-size: 8px; font-family: 'DejaVu Sans', sans-serif; text-anchor: end" x="319.04" y="374.5915" transform="rotate(-0 319.04 374.5915)">30</text>
     </g>
    </g>
    <g id="ytick_33">
     <g id="line2d_189">
      <path d="M 323.0400 345.1584 L 540.9600 345.1584" clip-path="url(#p9e98e754fd)" shape-rendering="crispEdges" style="fill: none; stroke-dasharray: 1,3; stroke-dashoffset: 0; stroke: #000000; stroke-width: 0.5"/>
     </g>
     <g id="line2d_190">
      <g>
       <path d="M 323.0400 345.1584 L 327.0400 345.1584" shape-rendering="crispEdges" style="fill: none; stroke: #000000; stroke-width: 0.5"/>
      </g>
     </g>
     <g id="line2d_191">
      <g>
       <path d="M 540.9600 345.1584 L 536.9600 345.1584" shape-rendering="crispEdges" style="fill: none; stroke: #000000; stroke-width: 0.5"/>
      </g>
     </g>
     <g id="text_80">
      <text style="font-size: 8px; font-family: 'DejaVu Sans', sans-serif; text-anchor: end" x="319.04" y="347.3515" transform="rotate(-0 319.04 347.3515)">40</text>
     </g>
    </g>
    <g id="ytick_34">
     <g id="line2d_192">
      <path d="M 323.0400 317.9040 L 540.9600 317.9040" clip-path="url(#p9e98e754fd)" shape-rendering="crispEdges" style="fill: none; stroke-dasharray: 1,3; stroke-dashoffset: 0; stroke: #000000; stroke-width: 0.5"/>
     </g>
     <g id="line2d_193">
      <g>
       <path d="M 323.0400 317.9040 L 327.0400 317.9040" shape-rendering="crispEdges" style="fill: none; stroke: #000000; stroke-width: 0.5"/>
      </g>
     </g>
     <g id="line2d_194">
      <g>
       <path d="M 540.9600 317.9040 L 536.9600 317.9040" shape-rendering="crispEdges" style="fill: none; stroke: #000000; stroke-width: 0.5"/>
      </g>
     </g>
     <g id="text_81">
      <text style="font-size: 8px; font-family: 'DejaVu Sans', sans-serif; text-anchor: end" x="319.04" y="320.1115" transform="rotate(-0 319.04 320.1115)">50</text>
     </g>
    </g>
    <g id="text_82">
     <text style="font-size: 8px; font-family: 'DejaVu Sans', sans-serif; text-anchor: middle" x="294.5925" y="426.864" transform="rotate(-90 294.5925 426.864)">V1(km/s)</text>
    </g>
   </g>
   <g id="text_83">
    <g transform="translate(329.14176 525.36384)">
     <text>
      <tspan x="0" y="-0.25" style="font-size: 9px; font-family: 'Liberation Serif', serif; font-style: italic" class="cmmi10">λ</tspan>
      <tspan x="8.971031" y="-0.25" style="font-size: 9px; font-family: 'Liberation Serif', serif; font-style: italic" class="cmmi10">/</tspan>
      <tspan x="13.471031" y="-0.25" style="font-size: 9px; font-family: 'Liberation Serif', serif; font-style: italic" class="cmmi10">λ</tspan>
      <tspan x="5.24707" y="1.280563" style="font-size: 6.3px; font-family: 'Liberation Serif', serif" class="cmr10">1</tspan>
      <tspan x="18.718102" y="1.280563" style="font-size: 6.3px; font-family: 'Liberation Serif', serif" class="cmr10">2</tspan>
      <tspan x="24.022336" y="-0.25" style="font-size: 9px; font-family: 'Liberation Serif', serif" class="cmsy10">≈</tspan>
      <tspan x="33.911229" y="-0.25" style="font-size: 9px; font-family: 'DejaVu Sans', sans-serif">1</tspan>
      <tspan x="39.637304" y="-0.25" style="font-size: 9px; font-family: 'DejaVu Sans', sans-serif">9</tspan>
      <tspan x="45.363378" y="-0.25" style="font-size: 9px; font-family: 'DejaVu Sans', sans-serif">.</tspan>
      <tspan x="48.224218" y="-0.25" style="font-size: 9px; font-family: 'DejaVu Sans', sans-serif">4</tspan>
      <tspan x="53.950292" y="-0.25" style="font-size: 9px; font-family: 'DejaVu Sans', sans-serif">5</tspan>
     </text>
    </g>
   </g>
   <g id="title_T5" transform="matrix(0.98307 0 0 1 7.3163 0)">
    <g transform="translate(323.12515 312.904)">
     <text>
      <tspan x="0" y="-0.640625" style="font-size: 11.23px; font-family: 'DejaVu Sans', sans-serif">H</tspan>
      <tspan x="8.459473" y="-0.640625" style="font-size: 11.23px; font-family: 'DejaVu Sans', sans-serif">o</tspan>
      <tspan x="15.342407" y="-0.640625" style="font-size: 11.23px; font-family: 'DejaVu Sans', sans-serif">d</tspan>
      <tspan x="22.483521" y="-0.640625" style="font-size: 11.23px; font-family: 'DejaVu Sans', sans-serif">o</tspan>
      <tspan x="29.366455" y="-0.640625" style="font-size: 11.23px; font-family: 'DejaVu Sans', sans-serif">g</tspan>
      <tspan x="36.507568" y="-0.640625" style="font-size: 11.23px; font-family: 'DejaVu Sans', sans-serif">r</tspan>
      <tspan x="41.132812" y="-0.640625" style="font-size: 11.23px; font-family: 'DejaVu Sans', sans-serif">a</tspan>
      <tspan x="48.026733" y="-0.640625" style="font-size: 11.23px; font-family: 'DejaVu Sans', sans-serif">m</tspan>
      <tspan x="58.985596" y="-0.640625" style="font-size: 11.23px; font-family: 'DejaVu Sans', sans-serif"> </tspan>
      <tspan x="62.561646" y="-0.640625" style="font-size: 11.23px; font-family: 'DejaVu Sans', sans-serif">(</tspan>
      <tspan x="66.950684" y="-0.640625" style="font-size: 11.23px; font-family: 'DejaVu Sans', sans-serif">V</tspan>
      <tspan x="74.646606" y="-0.640625" style="font-size: 11.23px; font-family: 'DejaVu Sans', sans-serif">2</tspan>
      <tspan x="81.804199" y="-0.640625" style="font-size: 11.23px; font-family: 'DejaVu Sans', sans-serif">_</tspan>
      <tspan x="87.429199" y="-0.640625" style="font-size: 11.23px; font-family: 'DejaVu Sans', sans-serif">V</tspan>
      <tspan x="95.125122" y="-0.640625" style="font-size: 11.23px; font-family: 'DejaVu Sans', sans-serif">1</tspan>
      <tspan x="102.282715" y="-0.640625" style="font-size: 11.23px; font-family: 'DejaVu Sans', sans-serif"> </tspan>
      <tspan x="105.858765" y="-0.640625" style="font-size: 11.23px; font-family: 'DejaVu Sans', sans-serif">M</tspan>
      <tspan x="115.565186" y="-0.640625" style="font-size: 11.23px; font-family: 'DejaVu Sans', sans-serif">V</tspan>
      <tspan x="123.261108" y="-0.640625" style="font-size: 11.23px; font-family: 'DejaVu Sans', sans-serif">A</tspan>
      <tspan x="130.957031" y="-0.640625" style="font-size: 11.23px; font-family: 'DejaVu Sans', sans-serif">V</tspan>
      <tspan x="176.681976" y="-0.640625" style="font-size: 11.23px; font-family: 'DejaVu Sans', sans-serif"> </tspan>
      <tspan x="180.258026" y="-0.640625" style="font-size: 11.23px; font-family: 'DejaVu Sans', sans-serif">f</tspan>
      <tspan x="184.218597" y="-0.640625" style="font-size: 11.23px; font-family: 'DejaVu Sans', sans-serif">r</tspan>
      <tspan x="188.843841" y="-0.640625" style="font-size: 11.23px; font-family: 'DejaVu Sans', sans-serif">a</tspan>
      <tspan x="195.737762" y="-0.640625" style="font-size: 11.23px; font-family: 'DejaVu Sans', sans-serif">m</tspan>
      <tspan x="206.696625" y="-0.640625" style="font-size: 11.23px; font-family: 'DejaVu Sans', sans-serif">e</tspan>
      <tspan x="213.618011" y="-0.640625" style="font-size: 11.23px; font-family: 'DejaVu Sans', sans-serif">)</tspan>
      <tspan x="139.154277" y="1.269177" style="font-size: 7.861px; font-family: 'Liberation Serif', serif; font-style: italic" class="cmmi10">r</tspan>
      <tspan x="142.697386" y="1.269177" style="font-size: 7.861px; font-family: 'Liberation Serif', serif; font-style: italic" class="cmmi10">e</tspan>
      <tspan x="146.347862" y="1.269177" style="font-size: 7.861px; font-family: 'Liberation Serif', serif; font-style: italic" class="cmmi10">m</tspan>
      <tspan x="153.242354" y="1.269177" style="font-size: 7.861px; font-family: 'Liberation Serif', serif; font-style: italic" class="cmmi10">a</tspan>
      <tspan x="157.387485" y="1.269177" style="font-size: 7.861px; font-family: 'Liberation Serif', serif; font-style: italic" class="cmmi10">i</tspan>
      <tspan x="160.090831" y="1.269177" style="font-size: 7.861px; font-family: 'Liberation Serif', serif; font-style: italic" class="cmmi10">n</tspan>
      <tspan x="164.803473" y="1.269177" style="font-size: 7.861px; font-family: 'Liberation Serif', serif; font-style: italic" class="cmmi10">i</tspan>
      <tspan x="167.506819" y="1.269177" style="font-size: 7.861px; font-family: 'Liberation Serif', serif; font-style: italic" class="cmmi10">n</tspan>
      <tspan x="172.219461" y="1.269177" style="font-size: 7.861px; font-family: 'Liberation Serif', serif; font-style: italic" class="cmmi10">g</tspan>
     </text>
    </g>
   </g>
  </g>
  <g id="axes_5">
   <g id="patch_25">
    <path d="M 589.92 535.824 
L 807.84 535.824 
L 807.84 317.904 
L 589.92 317.904 
z
" style="fill: #ffffff"/>
   </g>
   <g id="line2d_195">
    <path d="M 693.75888 336.5634 
L 696.837 456.99144 
L 696.837 470.9928 
L 696.837 465 
L 696.837 473.3082 
L 697.43628 492.40344 
L 705.9624 442.06392 
L 705.9624 477.72108 
L 694.98468 510.16392 
L 692.04276 492.40344 
L 695.01192 501.14748 
" clip-path="url(#p0b3488ad60)" style="fill: none; stroke: #0000ff; stroke-linecap: square"/>
    <g clip-path="url(#p0b3488ad60)">
     <use href="#m40c38f925a" x="693.75888" y="336.5634" style="fill: #0000ff; stroke: #0000ff; stroke-width: 0.5"/>
     <use href="#m40c38f925a" x="696.837" y="456.99144" style="fill: #0000ff; stroke: #0000ff; stroke-width: 0.5"/>
     <use href="#m40c38f925a" x="696.837" y="470.9928" style="fill: #0000ff; stroke: #0000ff; stroke-width: 0.5"/>
     <use href="#m40c38f925a" x="696.837" y="465" style="fill: #0000ff; stroke: #0000ff; stroke-width: 0.5"/>
     <use href="#m40c38f925a" x="696.837" y="473.3082" style="fill: #0000ff; stroke: #0000ff; stroke-width: 0.5"/>
     <use href="#m40c38f925a" x="697.43628" y="492.40344" style="fill: #0000ff; stroke: #0000ff; stroke-width: 0.5"/>
     <use href="#m40c38f925a" x="705.9624" y="442.06392" style="fill: #0000ff; stroke: #0000ff; stroke-width: 0.5"/>
     <use href="#m40c38f925a" x="705.9624" y="477.72108" style="fill: #0000ff; stroke: #0000ff; stroke-width: 0.5"/>
     <use href="#m40c38f925a" x="694.98468" y="510.16392" style="fill: #0000ff; stroke: #0000ff; stroke-width: 0.5"/>
     <use href="#m40c38f925a" x="692.04276" y="492.40344" style="fill: #0000ff; stroke: #0000ff; stroke-width: 0.5"/>
     <use href="#m40c38f925a" x="695.01192" y="501.14748" style="fill: #0000ff; stroke: #0000ff; stroke-width: 0.5"/>
    </g>
   </g>
   <g id="patch_26">
    <path d="M 589.92 535.824 
L 589.92 317.904 
" shape-rendering="crispEdges" style="fill: none; stroke: #000000; stroke-width: 0.96; stroke-linejoin: miter; stroke-linecap: square"/>
   </g>
   <g id="patch_27">
    <path d="M 807.84 535.824 
L 807.84 317.904 
" shape-rendering="crispEdges" style="fill: none; stroke: #000000; stroke-width: 0.96; stroke-linejoin: miter; stroke-linecap: square"/>
   </g>
   <g id="patch_28">
    <path d="M 589.92 535.824 
L 807.84 535.824 
" shape-rendering="crispEdges" style="fill: none; stroke: #000000; stroke-width: 0.96; stroke-linejoin: miter; stroke-linecap: square"/>
   </g>
   <g id="patch_29">
    <path d="M 589.92 317.904 
L 807.84 317.904 
" shape-rendering="crispEdges" style="fill: none; stroke: #000000; stroke-width: 0.96; stroke-linejoin: miter; stroke-linecap: square"/>
   </g>
   <g id="matplotlib.axis_9">
    <g id="xtick_33">
     <g id="line2d_196">
      <path d="M 606.5364 535.8240 L 606.5364 317.9040" clip-path="url(#p0b3488ad60)" shape-rendering="crispEdges" style="fill: none; stroke-dasharray: 1,3; stroke-dashoffset: 0; stroke: #000000; stroke-width: 0.5"/>
     </g>
     <g id="line2d_197">
      <g>
       <path d="M 606.5364 535.8240 L 606.5364 531.8240" shape-rendering="crispEdges" style="fill: none; stroke: #000000; stroke-width: 0.5"/>
      </g>
     </g>
     <g id="line2d_198">
      <g>
       <path d="M 606.5364 317.9040 L 606.5364 321.9040" shape-rendering="crispEdges" style="fill: none; stroke: #000000; stroke-width: 0.5"/>
      </g>
     </g>
     <g id="text_84">
      <text style="font-size: 8px; font-family: 'DejaVu Sans', sans-serif; text-anchor: middle" x="606.5364" y="545.90275" transform="rotate(-0 606.5364 545.90275)">−170</text>
     </g>
    </g>
    <g id="xtick_34">
     <g id="line2d_199">
      <path d="M 633.7764 535.8240 L 633.7764 317.9040" clip-path="url(#p0b3488ad60)" shape-rendering="crispEdges" style="fill: none; stroke-dasharray: 1,3; stroke-dashoffset: 0; stroke: #000000; stroke-width: 0.5"/>
     </g>
     <g id="line2d_200">
      <g>
       <path d="M 633.7764 535.8240 L 633.7764 531.8240" shape-rendering="crispEdges" style="fill: none; stroke: #000000; stroke-width: 0.5"/>
      </g>
     </g>
     <g id="line2d_201">
      <g>
       <path d="M 633.7764 317.9040 L 633.7764 321.9040" shape-rendering="crispEdges" style="fill: none; stroke: #000000; stroke-width: 0.5"/>
      </g>
     </g>
     <g id="text_85">
      <text style="font-size: 8px; font-family: 'DejaVu Sans', sans-serif; text-anchor: middle" x="633.7764" y="545.90275" transform="rotate(-0 633.7764 545.90275)">−160</text>
     </g>
    </g>
    <g id="xtick_35">
     <g id="line2d_202">
      <path d="M 661.0164 535.8240 L 661.0164 317.9040" clip-path="url(#p0b3488ad60)" shape-rendering="crispEdges" style="fill: none; stroke-dasharray: 1,3; stroke-dashoffset: 0; stroke: #000000; stroke-width: 0.5"/>
     </g>
     <g id="line2d_203">
      <g>
       <path d="M 661.0164 535.8240 L 661.0164 531.8240" shape-rendering="crispEdges" style="fill: none; stroke: #000000; stroke-width: 0.5"/>
      </g>
     </g>
     <g id="line2d_204">
      <g>
       <path d="M 661.0164 317.9040 L 661.0164 321.9040" shape-rendering="crispEdges" style="fill: none; stroke: #000000; stroke-width: 0.5"/>
      </g>
     </g>
     <g id="text_86">
      <text style="font-size: 8px; font-family: 'DejaVu Sans', sans-serif; text-anchor: middle" x="661.0164" y="545.90275" transform="rotate(-0 661.0164 545.90275)">−150</text>
     </g>
    </g>
    <g id="xtick_36">
     <g id="line2d_205">
      <path d="M 688.2564 535.8240 L 688.2564 317.9040" clip-path="url(#p0b3488ad60)" shape-rendering="crispEdges" style="fill: none; stroke-dasharray: 1,3; stroke-dashoffset: 0; stroke: #000000; stroke-width: 0.5"/>
     </g>
     <g id="line2d_206">
      <g>
       <path d="M 688.2564 535.8240 L 688.2564 531.8240" shape-rendering="crispEdges" style="fill: none; stroke: #000000; stroke-width: 0.5"/>
      </g>
     </g>
     <g id="line2d_207">
      <g>
       <path d="M 688.2564 317.9040 L 688.2564 321.9040" shape-rendering="crispEdges" style="fill: none; stroke: #000000; stroke-width: 0.5"/>
      </g>
     </g>
     <g id="text_87">
      <text style="font-size: 8px; font-family: 'DejaVu Sans', sans-serif; text-anchor: middle" x="688.2564" y="545.90275" transform="rotate(-0 688.2564 545.90275)">−140</text>
     </g>
    </g>
    <g id="xtick_37">
     <g id="line2d_208">
      <path d="M 715.4964 535.8240 L 715.4964 317.9040" clip-path="url(#p0b3488ad60)" shape-rendering="crispEdges" style="fill: none; stroke-dasharray: 1,3; stroke-dashoffset: 0; stroke: #000000; stroke-width: 0.5"/>
     </g>
     <g id="line2d_209">
      <g>
       <path d="M 715.4964 535.8240 L 715.4964 531.8240" shape-rendering="crispEdges" style="fill: none; stroke: #000000; stroke-width: 0.5"/>
      </g>
     </g>
     <g id="line2d_210">
      <g>
       <path d="M 715.4964 317.9040 L 715.4964 321.9040" shape-rendering="crispEdges" style="fill: none; stroke: #000000; stroke-width: 0.5"/>
      </g>
     </g>
     <g id="text_88">
      <text style="font-size: 8px; font-family: 'DejaVu Sans', sans-serif; text-anchor: middle" x="715.4964" y="545.90275" transform="rotate(-0 715.4964 545.90275)">−130</text>
     </g>
    </g>
    <g id="xtick_38">
     <g id="line2d_211">
      <path d="M 742.7364 535.8240 L 742.7364 317.9040" clip-path="url(#p0b3488ad60)" shape-rendering="crispEdges" style="fill: none; stroke-dasharray: 1,3; stroke-dashoffset: 0; stroke: #000000; stroke-width: 0.5"/>
     </g>
     <g id="line2d_212">
      <g>
       <path d="M 742.7364 535.8240 L 742.7364 531.8240" shape-rendering="crispEdges" style="fill: none; stroke: #000000; stroke-width: 0.5"/>
      </g>
     </g>
     <g id="line2d_213">
      <g>
       <path d="M 742.7364 317.9040 L 742.7364 321.9040" shape-rendering="crispEdges" style="fill: none; stroke: #000000; stroke-width: 0.5"/>
      </g>
     </g>
     <g id="text_89">
      <text style="font-size: 8px; font-family: 'DejaVu Sans', sans-serif; text-anchor: middle" x="742.7364" y="545.90275" transform="rotate(-0 742.7364 545.90275)">−120</text>
     </g>
    </g>
    <g id="xtick_39">
     <g id="line2d_214">
      <path d="M 769.9764 535.8240 L 769.9764 317.9040" clip-path="url(#p0b3488ad60)" shape-rendering="crispEdges" style="fill: none; stroke-dasharray: 1,3; stroke-dashoffset: 0; stroke: #000000; stroke-width: 0.5"/>
     </g>
     <g id="line2d_215">
      <g>
       <path d="M 769.9764 535.8240 L 769.9764 531.8240" shape-rendering="crispEdges" style="fill: none; stroke: #000000; stroke-width: 0.5"/>
      </g>
     </g>
     <g id="line2d_216">
      <g>
       <path d="M 769.9764 317.9040 L 769.9764 321.9040" shape-rendering="crispEdges" style="fill: none; stroke: #000000; stroke-width: 0.5"/>
      </g>
     </g>
     <g id="text_90">
      <text style="font-size: 8px; font-family: 'DejaVu Sans', sans-serif; text-anchor: middle" x="769.9764" y="545.90275" transform="rotate(-0 769.9764 545.90275)">−110</text>
     </g>
    </g>
    <g id="xtick_40">
     <g id="line2d_217">
      <path d="M 797.2164 535.8240 L 797.2164 317.9040" clip-path="url(#p0b3488ad60)" shape-rendering="crispEdges" style="fill: none; stroke-dasharray: 1,3; stroke-dashoffset: 0; stroke: #000000; stroke-width: 0.5"/>
     </g>
     <g id="line2d_218">
      <g>
       <path d="M 797.2164 535.8240 L 797.2164 531.8240" shape-rendering="crispEdges" style="fill: none; stroke: #000000; stroke-width: 0.5"/>
      </g>
     </g>
     <g id="line2d_219">
      <g>
       <path d="M 797.2164 317.9040 L 797.2164 321.9040" shape-rendering="crispEdges" style="fill: none; stroke: #000000; stroke-width: 0.5"/>
      </g>
     </g>
     <g id="text_91">
      <text style="font-size: 8px; font-family: 'DejaVu Sans', sans-serif; text-anchor: middle" x="797.2164" y="545.90275" transform="rotate(-0 797.2164 545.90275)">−100</text>
     </g>
    </g>
    <g id="text_92">
     <text style="font-size: 8px; font-family: 'DejaVu Sans', sans-serif; text-anchor: middle" x="698.88" y="560.04525" transform="rotate(-0 698.88 560.04525)">V3(km/s)</text>
    </g>
   </g>
   <g id="matplotlib.axis_10">
    <g id="ytick_35">
     <g id="line2d_220">
      <path d="M 589.9200 535.8240 L 807.8400 535.8240" clip-path="url(#p0b3488ad60)" shape-rendering="crispEdges" style="fill: none; stroke-dasharray: 1,3; stroke-dashoffset: 0; stroke: #000000; stroke-width: 0.5"/>
     </g>
     <g id="line2d_221">
      <g>
       <path d="M 589.9200 535.8240 L 593.9200 535.8240" shape-rendering="crispEdges" style="fill: none; stroke: #000000; stroke-width: 0.5"/>
      </g>
     </g>
     <g id="line2d_222">
      <g>
       <path d="M 807.8400 535.8240 L 803.8400 535.8240" shape-rendering="crispEdges" style="fill: none; stroke: #000000; stroke-width: 0.5"/>
      </g>
     </g>
     <g id="text_93">
      <text style="font-size: 8px; font-family: 'DejaVu Sans', sans-serif; text-anchor: end" x="585.92" y="538.0315" transform="rotate(-0 585.92 538.0315)">−30</text>
     </g>
    </g>
    <g id="ytick_36">
     <g id="line2d_223">
      <path d="M 589.9200 508.5840 L 807.8400 508.5840" clip-path="url(#p0b3488ad60)" shape-rendering="crispEdges" style="fill: none; stroke-dasharray: 1,3; stroke-dashoffset: 0; stroke: #000000; stroke-width: 0.5"/>
     </g>
     <g id="line2d_224">
      <g>
       <path d="M 589.9200 508.5840 L 593.9200 508.5840" shape-rendering="crispEdges" style="fill: none; stroke: #000000; stroke-width: 0.5"/>
      </g>
     </g>
     <g id="line2d_225">
      <g>
       <path d="M 807.8400 508.5840 L 803.8400 508.5840" shape-rendering="crispEdges" style="fill: none; stroke: #000000; stroke-width: 0.5"/>
      </g>
     </g>
     <g id="text_94">
      <text style="font-size: 8px; font-family: 'DejaVu Sans', sans-serif; text-anchor: end" x="585.92" y="510.7915" transform="rotate(-0 585.92 510.7915)">−20</text>
     </g>
    </g>
    <g id="ytick_37">
     <g id="line2d_226">
      <path d="M 589.9200 481.3440 L 807.8400 481.3440" clip-path="url(#p0b3488ad60)" shape-rendering="crispEdges" style="fill: none; stroke-dasharray: 1,3; stroke-dashoffset: 0; stroke: #000000; stroke-width: 0.5"/>
     </g>
     <g id="line2d_227">
      <g>
       <path d="M 589.9200 481.3440 L 593.9200 481.3440" shape-rendering="crispEdges" style="fill: none; stroke: #000000; stroke-width: 0.5"/>
      </g>
     </g>
     <g id="line2d_228">
      <g>
       <path d="M 807.8400 481.3440 L 803.8400 481.3440" shape-rendering="crispEdges" style="fill: none; stroke: #000000; stroke-width: 0.5"/>
      </g>
     </g>
     <g id="text_95">
      <text style="font-size: 8px; font-family: 'DejaVu Sans', sans-serif; text-anchor: end" x="585.92" y="483.5515" transform="rotate(-0 585.92 483.5515)">−10</text>
     </g>
    </g>
    <g id="ytick_38">
     <g id="line2d_229">
      <path d="M 589.9200 454.1184 L 807.8400 454.1184" clip-path="url(#p0b3488ad60)" shape-rendering="crispEdges" style="fill: none; stroke-dasharray: 1,3; stroke-dashoffset: 0; stroke: #000000; stroke-width: 0.5"/>
     </g>
     <g id="line2d_230">
      <g>
       <path d="M 589.9200 454.1184 L 593.9200 454.1184" shape-rendering="crispEdges" style="fill: none; stroke: #000000; stroke-width: 0.5"/>
      </g>
     </g>
     <g id="line2d_231">
      <g>
       <path d="M 807.8400 454.1184 L 803.8400 454.1184" shape-rendering="crispEdges" style="fill: none; stroke: #000000; stroke-width: 0.5"/>
      </g>
     </g>
     <g id="text_96">
      <text style="font-size: 8px; font-family: 'DejaVu Sans', sans-serif; text-anchor: end" x="585.92" y="456.3115" transform="rotate(-0 585.92 456.3115)">0</text>
     </g>
    </g>
    <g id="ytick_39">
     <g id="line2d_232">
      <path d="M 589.9200 426.8640 L 807.8400 426.8640" clip-path="url(#p0b3488ad60)" shape-rendering="crispEdges" style="fill: none; stroke-dasharray: 1,3; stroke-dashoffset: 0; stroke: #000000; stroke-width: 0.5"/>
     </g>
     <g id="line2d_233">
      <g>
       <path d="M 589.9200 426.8640 L 593.9200 426.8640" shape-rendering="crispEdges" style="fill: none; stroke: #000000; stroke-width: 0.5"/>
      </g>
     </g>
     <g id="line2d_234">
      <g>
       <path d="M 807.8400 426.8640 L 803.8400 426.8640" shape-rendering="crispEdges" style="fill: none; stroke: #000000; stroke-width: 0.5"/>
      </g>
     </g>
     <g id="text_97">
      <text style="font-size: 8px; font-family: 'DejaVu Sans', sans-serif; text-anchor: end" x="585.92" y="429.0715" transform="rotate(-0 585.92 429.0715)">10</text>
     </g>
    </g>
    <g id="ytick_40">
     <g id="line2d_235">
      <path d="M 589.9200 399.6240 L 807.8400 399.6240" clip-path="url(#p0b3488ad60)" shape-rendering="crispEdges" style="fill: none; stroke-dasharray: 1,3; stroke-dashoffset: 0; stroke: #000000; stroke-width: 0.5"/>
     </g>
     <g id="line2d_236">
      <g>
       <path d="M 589.9200 399.6240 L 593.9200 399.6240" shape-rendering="crispEdges" style="fill: none; stroke: #000000; stroke-width: 0.5"/>
      </g>
     </g>
     <g id="line2d_237">
      <g>
       <path d="M 807.8400 399.6240 L 803.8400 399.6240" shape-rendering="crispEdges" style="fill: none; stroke: #000000; stroke-width: 0.5"/>
      </g>
     </g>
     <g id="text_98">
      <text style="font-size: 8px; font-family: 'DejaVu Sans', sans-serif; text-anchor: end" x="585.92" y="401.8315" transform="rotate(-0 585.92 401.8315)">20</text>
     </g>
    </g>
    <g id="ytick_41">
     <g id="line2d_238">
      <path d="M 589.9200 372.3840 L 807.8400 372.3840" clip-path="url(#p0b3488ad60)" shape-rendering="crispEdges" style="fill: none; stroke-dasharray: 1,3; stroke-dashoffset: 0; stroke: #000000; stroke-width: 0.5"/>
     </g>
     <g id="line2d_239">
      <g>
       <path d="M 589.9200 372.3840 L 593.9200 372.3840" shape-rendering="crispEdges" style="fill: none; stroke: #000000; stroke-width: 0.5"/>
      </g>
     </g>
     <g id="line2d_240">
      <g>
       <path d="M 807.8400 372.3840 L 803.8400 372.3840" shape-rendering="crispEdges" style="fill: none; stroke: #000000; stroke-width: 0.5"/>
      </g>
     </g>
     <g id="text_99">
      <text style="font-size: 8px; font-family: 'DejaVu Sans', sans-serif; text-anchor: end" x="585.92" y="374.5915" transform="rotate(-0 585.92 374.5915)">30</text>
     </g>
    </g>
    <g id="ytick_42">
     <g id="line2d_241">
      <path d="M 589.9200 345.1584 L 807.8400 345.1584" clip-path="url(#p0b3488ad60)" shape-rendering="crispEdges" style="fill: none; stroke-dasharray: 1,3; stroke-dashoffset: 0; stroke: #000000; stroke-width: 0.5"/>
     </g>
     <g id="line2d_242">
      <g>
       <path d="M 589.9200 345.1584 L 593.9200 345.1584" shape-rendering="crispEdges" style="fill: none; stroke: #000000; stroke-width: 0.5"/>
      </g>
     </g>
     <g id="line2d_243">
      <g>
       <path d="M 807.8400 345.1584 L 803.8400 345.1584" shape-rendering="crispEdges" style="fill: none; stroke: #000000; stroke-width: 0.5"/>
      </g>
     </g>
     <g id="text_100">
      <text style="font-size: 8px; font-family: 'DejaVu Sans', sans-serif; text-anchor: end" x="585.92" y="347.3515" transform="rotate(-0 585.92 347.3515)">40</text>
     </g>
    </g>
    <g id="ytick_43">
     <g id="line2d_244">
      <path d="M 589.9200 317.9040 L 807.8400 317.9040" clip-path="url(#p0b3488ad60)" shape-rendering="crispEdges" style="fill: none; stroke-dasharray: 1,3; stroke-dashoffset: 0; stroke: #000000; stroke-width: 0.5"/>
     </g>
     <g id="line2d_245">
      <g>
       <path d="M 589.9200 317.9040 L 593.9200 317.9040" shape-rendering="crispEdges" style="fill: none; stroke: #000000; stroke-width: 0.5"/>
      </g>
     </g>
     <g id="line2d_246">
      <g>
       <path d="M 807.8400 317.9040 L 803.8400 317.9040" shape-rendering="crispEdges" style="fill: none; stroke: #000000; stroke-width: 0.5"/>
      </g>
     </g>
     <g id="text_101">
      <text style="font-size: 8px; font-family: 'DejaVu Sans', sans-serif; text-anchor: end" x="585.92" y="320.1115" transform="rotate(-0 585.92 320.1115)">50</text>
     </g>
    </g>
    <g id="text_102">
     <text style="font-size: 8px; font-family: 'DejaVu Sans', sans-serif; text-anchor: middle" x="561.4725" y="426.864" transform="rotate(-90 561.4725 426.864)">V1(km/s)</text>
    </g>
   </g>
   <g id="text_103">
    <g transform="translate(605.7192 525.36384)">
     <text>
      <tspan x="0" y="-0.25" style="font-size: 9px; font-family: 'Liberation Serif', serif; font-style: italic" class="cmmi10">λ</tspan>
      <tspan x="8.971031" y="-0.25" style="font-size: 9px; font-family: 'Liberation Serif', serif; font-style: italic" class="cmmi10">/</tspan>
      <tspan x="13.471031" y="-0.25" style="font-size: 9px; font-family: 'Liberation Serif', serif; font-style: italic" class="cmmi10">λ</tspan>
      <tspan x="5.24707" y="1.280563" style="font-size: 6.3px; font-family: 'Liberation Serif', serif" class="cmr10">1</tspan>
      <tspan x="18.718102" y="1.280563" style="font-size: 6.3px; font-family: 'Liberation Serif', serif" class="cmr10">3</tspan>
      <tspan x="24.022336" y="-0.25" style="font-size: 9px; font-family: 'Liberation Serif', serif" class="cmsy10">≈</tspan>
      <tspan x="33.911229" y="-0.25" style="font-size: 9px; font-family: 'DejaVu Sans', sans-serif">1</tspan>
      <tspan x="39.637304" y="-0.25" style="font-size: 9px; font-family: 'DejaVu Sans', sans-serif">0</tspan>
      <tspan x="45.363378" y="-0.25" style="font-size: 9px; font-family: 'DejaVu Sans', sans-serif">9</tspan>
      <tspan x="51.089452" y="-0.25" style="font-size: 9px; font-family: 'DejaVu Sans', sans-serif">.</tspan>
      <tspan x="53.950292" y="-0.25" style="font-size: 9px; font-family: 'DejaVu Sans', sans-serif">9</tspan>
     </text>
    </g>
   </g>
   <g id="title_T6" transform="matrix(0.97929 0 0 1 14.3607 0)">
    <g transform="translate(590.00515 312.904)">
     <text>
      <tspan x="0" y="-0.640625" style="font-size: 11.23px; font-family: 'DejaVu Sans', sans-serif">H</tspan>
      <tspan x="8.459473" y="-0.640625" style="font-size: 11.23px; font-family: 'DejaVu Sans', sans-serif">o</tspan>
      <tspan x="15.342407" y="-0.640625" style="font-size: 11.23px; font-family: 'DejaVu Sans', sans-serif">d</tspan>
      <tspan x="22.483521" y="-0.640625" style="font-size: 11.23px; font-family: 'DejaVu Sans', sans-serif">o</tspan>
      <tspan x="29.366455" y="-0.640625" style="font-size: 11.23px; font-family: 'DejaVu Sans', sans-serif">g</tspan>
      <tspan x="36.507568" y="-0.640625" style="font-size: 11.23px; font-family: 'DejaVu Sans', sans-serif">r</tspan>
      <tspan x="41.132812" y="-0.640625" style="font-size: 11.23px; font-family: 'DejaVu Sans', sans-serif">a</tspan>
      <tspan x="48.026733" y="-0.640625" style="font-size: 11.23px; font-family: 'DejaVu Sans', sans-serif">m</tspan>
      <tspan x="58.985596" y="-0.640625" style="font-size: 11.23px; font-family: 'DejaVu Sans', sans-serif"> </tspan>
      <tspan x="62.561646" y="-0.640625" style="font-size: 11.23px; font-family: 'DejaVu Sans', sans-serif">(</tspan>
      <tspan x="66.950684" y="-0.640625" style="font-size: 11.23px; font-family: 'DejaVu Sans', sans-serif">V</tspan>
      <tspan x="74.646606" y="-0.640625" style="font-size: 11.23px; font-family: 'DejaVu Sans', sans-serif">3</tspan>
      <tspan x="81.804199" y="-0.640625" style="font-size: 11.23px; font-family: 'DejaVu Sans', sans-serif">_</tspan>
      <tspan x="87.429199" y="-0.640625" style="font-size: 11.23px; font-family: 'DejaVu Sans', sans-serif">V</tspan>
      <tspan x="95.125122" y="-0.640625" style="font-size: 11.23px; font-family: 'DejaVu Sans', sans-serif">1</tspan>
      <tspan x="102.282715" y="-0.640625" style="font-size: 11.23px; font-family: 'DejaVu Sans', sans-serif"> </tspan>
      <tspan x="105.858765" y="-0.640625" style="font-size: 11.23px; font-family: 'DejaVu Sans', sans-serif">M</tspan>
      <tspan x="115.565186" y="-0.640625" style="font-size: 11.23px; font-family: 'DejaVu Sans', sans-serif">V</tspan>
      <tspan x="123.261108" y="-0.640625" style="font-size: 11.23px; font-family: 'DejaVu Sans', sans-serif">A</tspan>
      <tspan x="130.957031" y="-0.640625" style="font-size: 11.23px; font-family: 'DejaVu Sans', sans-serif">V</tspan>
      <tspan x="176.681976" y="-0.640625" style="font-size: 11.23px; font-family: 'DejaVu Sans', sans-serif"> </tspan>
      <tspan x="180.258026" y="-0.640625" style="font-size: 11.23px; font-family: 'DejaVu Sans', sans-serif">f</tspan>
      <tspan x="184.218597" y="-0.640625" style="font-size: 11.23px; font-family: 'DejaVu Sans', sans-serif">r</tspan>
      <tspan x="188.843841" y="-0.640625" style="font-size: 11.23px; font-family: 'DejaVu Sans', sans-serif">a</tspan>
      <tspan x="195.737762" y="-0.640625" style="font-size: 11.23px; font-family: 'DejaVu Sans', sans-serif">m</tspan>
      <tspan x="206.696625" y="-0.640625" style="font-size: 11.23px; font-family: 'DejaVu Sans', sans-serif">e</tspan>
      <tspan x="213.618011" y="-0.640625" style="font-size: 11.23px; font-family: 'DejaVu Sans', sans-serif">)</tspan>
      <tspan x="139.154277" y="1.269177" style="font-size: 7.861px; font-family: 'Liberation Serif', serif; font-style: italic" class="cmmi10">r</tspan>
      <tspan x="142.697386" y="1.269177" style="font-size: 7.861px; font-family: 'Liberation Serif', serif; font-style: italic" class="cmmi10">e</tspan>
      <tspan x="146.347862" y="1.269177" style="font-size: 7.861px; font-family: 'Liberation Serif', serif; font-style: italic" class="cmmi10">m</tspan>
      <tspan x="153.242354" y="1.269177" style="font-size: 7.861px; font-family: 'Liberation Serif', serif; font-style: italic" class="cmmi10">a</tspan>
      <tspan x="157.387485" y="1.269177" style="font-size: 7.861px; font-family: 'Liberation Serif', serif; font-style: italic" class="cmmi10">i</tspan>
      <tspan x="160.090831" y="1.269177" style="font-size: 7.861px; font-family: 'Liberation Serif', serif; font-style: italic" class="cmmi10">n</tspan>
      <tspan x="164.803473" y="1.269177" style="font-size: 7.861px; font-family: 'Liberation Serif', serif; font-style: italic" class="cmmi10">i</tspan>
      <tspan x="167.506819" y="1.269177" style="font-size: 7.861px; font-family: 'Liberation Serif', serif; font-style: italic" class="cmmi10">n</tspan>
      <tspan x="172.219461" y="1.269177" style="font-size: 7.861px; font-family: 'Liberation Serif', serif; font-style: italic" class="cmmi10">g</tspan>
     </text>
    </g>
   </g>
  </g>
  <g id="axes_6">
   <g id="patch_30">
    <path d="M 56.16 535.824 
L 274.08 535.824 
L 274.08 317.904 
L 56.16 317.904 
z
" style="fill: #ffffff"/>
   </g>
   <g id="PathCollection_1">
    <defs>
     <path id="m4925203fa7" d="M 0 2.236068 
C 0.593012 2.236068 1.161816 2.000462 1.581139 1.581139 
C 2.000462 1.161816 2.236068 0.593012 2.236068 0 
C 2.236068 -0.593012 2.000462 -1.161816 1.581139 -1.581139 
C 1.161816 -2.000462 0.593012 -2.236068 0 -2.236068 
C -0.593012 -2.236068 -1.161816 -2.000462 -1.581139 -1.581139 
C -2.000462 -1.161816 -2.236068 -0.593012 -2.236068 0 
C -2.236068 0.593012 -2.000462 1.161816 -1.581139 1.581139 
C -1.161816 2.000462 -0.593012 2.236068 0 2.236068 
z
" style="stroke: #ff0000"/>
    </defs>
    <g clip-path="url(#p7e3f1b9e12)">
     <use href="#m4925203fa7" x="56.695924" y="319.779733" style="fill: #ff0000; stroke: #ff0000"/>
     <use href="#m4925203fa7" x="62.591085" y="319.042838" style="fill: #ff0000; stroke: #ff0000"/>
     <use href="#m4925203fa7" x="67.816342" y="319.042838" style="fill: #ff0000; stroke: #ff0000"/>
     <use href="#m4925203fa7" x="64.198856" y="310.066115" style="fill: #ff0000; stroke: #ff0000"/>
     <use href="#m4925203fa7" x="59.509524" y="313.415638" style="fill: #ff0000; stroke: #ff0000"/>
    </g>
   </g>
   <g id="PathCollection_2">
    <defs>
     <path id="m0f91eb8b18" d="M 0 2.236068 
C 0.593012 2.236068 1.161816 2.000462 1.581139 1.581139 
C 2.000462 1.161816 2.236068 0.593012 2.236068 0 
C 2.236068 -0.593012 2.000462 -1.161816 1.581139 -1.581139 
C 1.161816 -2.000462 0.593012 -2.236068 0 -2.236068 
C -0.593012 -2.236068 -1.161816 -2.000462 -1.581139 -1.581139 
C -2.000462 -1.161816 -2.236068 -0.593012 -2.236068 0 
C -2.236068 0.593012 -2.000462 1.161816 -1.581139 1.581139 
C -1.161816 2.000462 -0.593012 2.236068 0 2.236068 
z
" style="stroke: #008000"/>
    </defs>
    <g clip-path="url(#p7e3f1b9e12)">
     <use href="#m0f91eb8b18" x="168.770981" y="398.627517" style="fill: #008000; stroke: #008000"/>
     <use href="#m0f91eb8b18" x="172.522447" y="400.50325" style="fill: #008000; stroke: #008000"/>
     <use href="#m0f91eb8b18" x="170.780695" y="403.450831" style="fill: #008000; stroke: #008000"/>
     <use href="#m0f91eb8b18" x="181.164218" y="407.537249" style="fill: #008000; stroke: #008000"/>
     <use href="#m0f91eb8b18" x="184.781703" y="408.274144" style="fill: #008000; stroke: #008000"/>
     <use href="#m0f91eb8b18" x="189.939969" y="406.867345" style="fill: #008000; stroke: #008000"/>
     <use href="#m0f91eb8b18" x="189.404045" y="411.623668" style="fill: #008000; stroke: #008000"/>
     <use href="#m0f91eb8b18" x="194.897264" y="415.576106" style="fill: #008000; stroke: #008000"/>
     <use href="#m0f91eb8b18" x="195.76814" y="441.702389" style="fill: #008000; stroke: #008000"/>
     <use href="#m0f91eb8b18" x="183.441894" y="410.216868" style="fill: #008000; stroke: #008000"/>
     <use href="#m0f91eb8b18" x="172.053514" y="402.178012" style="fill: #008000; stroke: #008000"/>
    </g>
   </g>
   <g id="PathCollection_3">
    <defs>
     <path id="m972d31e726" d="M 0 2.236068 
C 0.593012 2.236068 1.161816 2.000462 1.581139 1.581139 
C 2.000462 1.161816 2.236068 0.593012 2.236068 0 
C 2.236068 -0.593012 2.000462 -1.161816 1.581139 -1.581139 
C 1.161816 -2.000462 0.593012 -2.236068 0 -2.236068 
C -0.593012 -2.236068 -1.161816 -2.000462 -1.581139 -1.581139 
C -2.000462 -1.161816 -2.236068 -0.593012 -2.236068 0 
C -2.236068 0.593012 -2.000462 1.161816 -1.581139 1.581139 
C -1.161816 2.000462 -0.593012 2.236068 0 2.236068 
z
" style="stroke: #0000ff"/>
    </defs>
    <g clip-path="url(#p7e3f1b9e12)">
     <use href="#m972d31e726" x="190.408903" y="414.504258" style="fill: #0000ff; stroke: #0000ff"/>
     <use href="#m972d31e726" x="187.863265" y="418.791648" style="fill: #0000ff; stroke: #0000ff"/>
     <use href="#m972d31e726" x="193.021531" y="419.126601" style="fill: #0000ff; stroke: #0000ff"/>
     <use href="#m972d31e726" x="192.351626" y="422.476124" style="fill: #0000ff; stroke: #0000ff"/>
     <use href="#m972d31e726" x="196.103093" y="423.347" style="fill: #0000ff; stroke: #0000ff"/>
     <use href="#m972d31e726" x="191.145798" y="420.667381" style="fill: #0000ff; stroke: #0000ff"/>
     <use href="#m972d31e726" x="189.203074" y="416.580963" style="fill: #0000ff; stroke: #0000ff"/>
    </g>
   </g>
   <g id="patch_31">
    <path d="M 56.16 535.824 
L 56.16 317.904 
" shape-rendering="crispEdges" style="fill: none; stroke: #000000; stroke-width: 0.96; stroke-linejoin: miter; stroke-linecap: square"/>
   </g>
   <g id="patch_32">
    <path d="M 274.08 535.824 
L 274.08 317.904 
" shape-rendering="crispEdges" style="fill: none; stroke: #000000; stroke-width: 0.96; stroke-linejoin: miter; stroke-linecap: square"/>
   </g>
   <g id="patch_33">
    <path d="M 56.16 535.824 
L 274.08 535.824 
" shape-rendering="crispEdges" style="fill: none; stroke: #000000; stroke-width: 0.96; stroke-linejoin: miter; stroke-linecap: square"/>
   </g>
   <g id="patch_34">
    <path d="M 56.16 317.904 
L 274.08 317.904 
" shape-rendering="crispEdges" style="fill: none; stroke: #000000; stroke-width: 0.96; stroke-linejoin: miter; stroke-linecap: square"/>
   </g>
   <g id="matplotlib.axis_11">
    <g id="xtick_41">
     <g id="line2d_247">
      <g>
       <path d="M 80.9465 535.8240 L 80.9465 531.8240" shape-rendering="crispEdges" style="fill: none; stroke: #000000; stroke-width: 0.5"/>
      </g>
     </g>
     <g id="line2d_248">
      <g>
       <path d="M 80.9465 317.9040 L 80.9465 321.9040" shape-rendering="crispEdges" style="fill: none; stroke: #000000; stroke-width: 0.5"/>
      </g>
     </g>
     <g id="text_104">
      <text style="font-size: 8px; font-family: 'DejaVu Sans', sans-serif; text-anchor: middle" x="80.946474" y="545.90275" transform="rotate(-0 80.946474 545.90275)">−150</text>
     </g>
    </g>
    <g id="xtick_42">
     <g id="line2d_249">
      <g>
       <path d="M 114.4417 535.8240 L 114.4417 531.8240" shape-rendering="crispEdges" style="fill: none; stroke: #000000; stroke-width: 0.5"/>
      </g>
     </g>
     <g id="line2d_250">
      <g>
       <path d="M 114.4417 317.9040 L 114.4417 321.9040" shape-rendering="crispEdges" style="fill: none; stroke: #000000; stroke-width: 0.5"/>
      </g>
     </g>
     <g id="text_105">
      <text style="font-size: 8px; font-family: 'DejaVu Sans', sans-serif; text-anchor: middle" x="114.441709" y="545.90275" transform="rotate(-0 114.441709 545.90275)">−100</text>
     </g>
    </g>
    <g id="xtick_43">
     <g id="line2d_251">
      <g>
       <path d="M 147.9369 535.8240 L 147.9369 531.8240" shape-rendering="crispEdges" style="fill: none; stroke: #000000; stroke-width: 0.5"/>
      </g>
     </g>
     <g id="line2d_252">
      <g>
       <path d="M 147.9369 317.9040 L 147.9369 321.9040" shape-rendering="crispEdges" style="fill: none; stroke: #000000; stroke-width: 0.5"/>
      </g>
     </g>
     <g id="text_106">
      <text style="font-size: 8px; font-family: 'DejaVu Sans', sans-serif; text-anchor: middle" x="147.936944" y="545.90275" transform="rotate(-0 147.936944 545.90275)">−50</text>
     </g>
    </g>
    <g id="xtick_44">
     <g id="line2d_253">
      <g>
       <path d="M 181.4784 535.8240 L 181.4784 531.8240" shape-rendering="crispEdges" style="fill: none; stroke: #000000; stroke-width: 0.5"/>
      </g>
     </g>
     <g id="line2d_254">
      <g>
       <path d="M 181.4784 317.9040 L 181.4784 321.9040" shape-rendering="crispEdges" style="fill: none; stroke: #000000; stroke-width: 0.5"/>
      </g>
     </g>
     <g id="text_107">
      <text style="font-size: 8px; font-family: 'DejaVu Sans', sans-serif; text-anchor: middle" x="181.43218" y="545.90275" transform="rotate(-0 181.43218 545.90275)">0</text>
     </g>
    </g>
    <g id="xtick_45">
     <g id="line2d_255">
      <g>
       <path d="M 214.9274 535.8240 L 214.9274 531.8240" shape-rendering="crispEdges" style="fill: none; stroke: #000000; stroke-width: 0.5"/>
      </g>
     </g>
     <g id="line2d_256">
      <g>
       <path d="M 214.9274 317.9040 L 214.9274 321.9040" shape-rendering="crispEdges" style="fill: none; stroke: #000000; stroke-width: 0.5"/>
      </g>
     </g>
     <g id="text_108">
      <text style="font-size: 8px; font-family: 'DejaVu Sans', sans-serif; text-anchor: middle" x="214.927415" y="545.90275" transform="rotate(-0 214.927415 545.90275)">50</text>
     </g>
    </g>
    <g id="xtick_46">
     <g id="line2d_257">
      <g>
       <path d="M 248.4227 535.8240 L 248.4227 531.8240" shape-rendering="crispEdges" style="fill: none; stroke: #000000; stroke-width: 0.5"/>
      </g>
     </g>
     <g id="line2d_258">
      <g>
       <path d="M 248.4227 317.9040 L 248.4227 321.9040" shape-rendering="crispEdges" style="fill: none; stroke: #000000; stroke-width: 0.5"/>
      </g>
     </g>
     <g id="text_109">
      <text style="font-size: 8px; font-family: 'DejaVu Sans', sans-serif; text-anchor: middle" x="248.42265" y="545.90275" transform="rotate(-0 248.42265 545.90275)">100</text>
     </g>
    </g>
    <g id="text_110">
     <g transform="translate(147.08 561.58525)">
      <text>
       <tspan x="0" y="-0.921875" style="font-size: 8px; font-family: 'DejaVu Sans', sans-serif">V</tspan>
       <tspan x="10.539975" y="-0.921875" style="font-size: 8px; font-family: 'DejaVu Sans', sans-serif">(</tspan>
       <tspan x="13.661069" y="-0.921875" style="font-size: 8px; font-family: 'DejaVu Sans', sans-serif">k</tspan>
       <tspan x="18.293881" y="-0.921875" style="font-size: 8px; font-family: 'DejaVu Sans', sans-serif">m</tspan>
       <tspan x="26.08685" y="-0.921875" style="font-size: 8px; font-family: 'DejaVu Sans', sans-serif">/</tspan>
       <tspan x="28.782162" y="-0.921875" style="font-size: 8px; font-family: 'DejaVu Sans', sans-serif">s</tspan>
       <tspan x="32.950131" y="-0.921875" style="font-size: 8px; font-family: 'DejaVu Sans', sans-serif">)</tspan>
       <tspan x="5.829788" y="0.438625" style="font-size: 5.6px; font-family: 'Liberation Serif', serif; font-style: italic" class="cmmi10">A</tspan>
      </text>
     </g>
    </g>
   </g>
   <g id="matplotlib.axis_12">
    <g id="ytick_44">
     <g id="line2d_259">
      <g>
       <path d="M 56.1600 511.0375 L 60.1600 511.0375" shape-rendering="crispEdges" style="fill: none; stroke: #000000; stroke-width: 0.5"/>
      </g>
     </g>
     <g id="line2d_260">
      <g>
       <path d="M 274.0800 511.0375 L 270.0800 511.0375" shape-rendering="crispEdges" style="fill: none; stroke: #000000; stroke-width: 0.5"/>
      </g>
     </g>
     <g id="text_111">
      <text style="font-size: 8px; font-family: 'DejaVu Sans', sans-serif; text-anchor: end" x="52.16" y="513.245026" transform="rotate(-0 52.16 513.245026)">−150</text>
     </g>
    </g>
    <g id="ytick_45">
     <g id="line2d_261">
      <g>
       <path d="M 56.1600 477.5423 L 60.1600 477.5423" shape-rendering="crispEdges" style="fill: none; stroke: #000000; stroke-width: 0.5"/>
      </g>
     </g>
     <g id="line2d_262">
      <g>
       <path d="M 274.0800 477.5423 L 270.0800 477.5423" shape-rendering="crispEdges" style="fill: none; stroke: #000000; stroke-width: 0.5"/>
      </g>
     </g>
     <g id="text_112">
      <text style="font-size: 8px; font-family: 'DejaVu Sans', sans-serif; text-anchor: end" x="52.16" y="479.749791" transform="rotate(-0 52.16 479.749791)">−100</text>
     </g>
    </g>
    <g id="ytick_46">
     <g id="line2d_263">
      <g>
       <path d="M 56.1600 444.0471 L 60.1600 444.0471" shape-rendering="crispEdges" style="fill: none; stroke: #000000; stroke-width: 0.5"/>
      </g>
     </g>
     <g id="line2d_264">
      <g>
       <path d="M 274.0800 444.0471 L 270.0800 444.0471" shape-rendering="crispEdges" style="fill: none; stroke: #000000; stroke-width: 0.5"/>
      </g>
     </g>
     <g id="text_113">
      <text style="font-size: 8px; font-family: 'DejaVu Sans', sans-serif; text-anchor: end" x="52.16" y="446.254556" transform="rotate(-0 52.16 446.254556)">−50</text>
     </g>
    </g>
    <g id="ytick_47">
     <g id="line2d_265">
      <g>
       <path d="M 56.1600 410.5518 L 60.1600 410.5518" shape-rendering="crispEdges" style="fill: none; stroke: #000000; stroke-width: 0.5"/>
      </g>
     </g>
     <g id="line2d_266">
      <g>
       <path d="M 274.0800 410.5518 L 270.0800 410.5518" shape-rendering="crispEdges" style="fill: none; stroke: #000000; stroke-width: 0.5"/>
      </g>
     </g>
     <g id="text_114">
      <text style="font-size: 8px; font-family: 'DejaVu Sans', sans-serif; text-anchor: end" x="52.16" y="412.75932" transform="rotate(-0 52.16 412.75932)">0</text>
     </g>
    </g>
    <g id="ytick_48">
     <g id="line2d_267">
      <g>
       <path d="M 56.1600 377.0566 L 60.1600 377.0566" shape-rendering="crispEdges" style="fill: none; stroke: #000000; stroke-width: 0.5"/>
      </g>
     </g>
     <g id="line2d_268">
      <g>
       <path d="M 274.0800 377.0566 L 270.0800 377.0566" shape-rendering="crispEdges" style="fill: none; stroke: #000000; stroke-width: 0.5"/>
      </g>
     </g>
     <g id="text_115">
      <text style="font-size: 8px; font-family: 'DejaVu Sans', sans-serif; text-anchor: end" x="52.16" y="379.264085" transform="rotate(-0 52.16 379.264085)">50</text>
     </g>
    </g>
    <g id="ytick_49">
     <g id="line2d_269">
      <g>
       <path d="M 56.1600 343.5614 L 60.1600 343.5614" shape-rendering="crispEdges" style="fill: none; stroke: #000000; stroke-width: 0.5"/>
      </g>
     </g>
     <g id="line2d_270">
      <g>
       <path d="M 274.0800 343.5614 L 270.0800 343.5614" shape-rendering="crispEdges" style="fill: none; stroke: #000000; stroke-width: 0.5"/>
      </g>
     </g>
     <g id="text_116">
      <text style="font-size: 8px; font-family: 'DejaVu Sans', sans-serif; text-anchor: end" x="52.16" y="345.76885" transform="rotate(-0 52.16 345.76885)">100</text>
     </g>
    </g>
    <g id="text_117">
     <g transform="translate(22.68625 455.944) rotate(-90)">
      <text>
       <tspan x="0" y="-0.921875" style="font-size: 8px; font-family: 'DejaVu Sans', sans-serif">V</tspan>
       <tspan x="32.589975" y="-0.921875" style="font-size: 8px; font-family: 'DejaVu Sans', sans-serif">(</tspan>
       <tspan x="35.711069" y="-0.921875" style="font-size: 8px; font-family: 'DejaVu Sans', sans-serif">k</tspan>
       <tspan x="40.343881" y="-0.921875" style="font-size: 8px; font-family: 'DejaVu Sans', sans-serif">m</tspan>
       <tspan x="48.13685" y="-0.921875" style="font-size: 8px; font-family: 'DejaVu Sans', sans-serif">/</tspan>
       <tspan x="50.832162" y="-0.921875" style="font-size: 8px; font-family: 'DejaVu Sans', sans-serif">s</tspan>
       <tspan x="55.000131" y="-0.921875" style="font-size: 8px; font-family: 'DejaVu Sans', sans-serif">)</tspan>
       <tspan x="5.829788" y="0.438625" style="font-size: 5.6px; font-family: 'Liberation Serif', serif; font-style: italic" class="cmmi10">r</tspan>
       <tspan x="8.35635" y="0.438625" style="font-size: 5.6px; font-family: 'Liberation Serif', serif; font-style: italic" class="cmmi10">e</tspan>
       <tspan x="10.959475" y="0.438625" style="font-size: 5.6px; font-family: 'Liberation Serif', serif; font-style: italic" class="cmmi10">m</tspan>
       <tspan x="15.875881" y="0.438625" style="font-size: 5.6px; font-family: 'Liberation Serif', serif; font-style: italic" class="cmmi10">a</tspan>
       <tspan x="18.831741" y="0.438625" style="font-size: 5.6px; font-family: 'Liberation Serif', serif; font-style: italic" class="cmmi10">i</tspan>
       <tspan x="20.759475" y="0.438625" style="font-size: 5.6px; font-family: 'Liberation Serif', serif; font-style: italic" class="cmmi10">n</tspan>
       <tspan x="24.120022" y="0.438625" style="font-size: 5.6px; font-family: 'Liberation Serif', serif; font-style: italic" class="cmmi10">i</tspan>
       <tspan x="26.047756" y="0.438625" style="font-size: 5.6px; font-family: 'Liberation Serif', serif; font-style: italic" class="cmmi10">n</tspan>
       <tspan x="29.408303" y="0.438625" style="font-size: 5.6px; font-family: 'Liberation Serif', serif; font-style: italic" class="cmmi10">g</tspan>
      </text>
     </g>
    </g>
   </g>
   <g id="line2d_271">
    <path d="M 56.16 312.655967 
L 274.08 483.069407 
" clip-path="url(#p7e3f1b9e12)" style="fill: none; stroke-dasharray: 6,6; stroke-dashoffset: 0; stroke: #000000"/>
   </g>
   <g id="title_T4" transform="matrix(1.01983 0 0 1 -3.2499 0)">
    <text style="font-size: 11.23px; font-family: 'DejaVu Sans', sans-serif; text-anchor: middle" x="165.12" y="312.904" transform="rotate(-0 165.12 312.904)">WalenTest</text>
   </g>
   <g id="patch_35">
    <path d="M 60.048 355.584 
L 129.504 355.584 
L 129.504 321.168 
L 60.048 321.168 
z
" shape-rendering="crispEdges" style="fill: #ffffff; stroke: #000000; stroke-width: 0.96; stroke-linejoin: miter"/>
   </g>
   <g id="text_118">
    <text style="font-size: 9px; font-family: 'DejaVu Sans', sans-serif; text-anchor: start" x="61.344" y="329.664" transform="rotate(-0 61.344 329.664)">slope = -0.782</text>
   </g>
   <g id="text_119">
    <g transform="translate(61.344 340.176)">
     <text>
      <tspan x="0" y="-0.3125" style="font-size: 9px; font-family: 'Liberation Serif', serif; font-style: italic" class="cmmi10">r</tspan>
      <tspan x="4.060547" y="-0.3125" style="font-size: 9px; font-family: 'DejaVu Sans', sans-serif"> </tspan>
      <tspan x="6.921387" y="-0.3125" style="font-size: 9px; font-family: 'DejaVu Sans', sans-serif">=</tspan>
      <tspan x="14.462402" y="-0.3125" style="font-size: 9px; font-family: 'DejaVu Sans', sans-serif"> </tspan>
      <tspan x="17.323242" y="-0.3125" style="font-size: 9px; font-family: 'DejaVu Sans', sans-serif">-</tspan>
      <tspan x="20.570801" y="-0.3125" style="font-size: 9px; font-family: 'DejaVu Sans', sans-serif">0</tspan>
      <tspan x="26.296875" y="-0.3125" style="font-size: 9px; font-family: 'DejaVu Sans', sans-serif">.</tspan>
      <tspan x="29.157715" y="-0.3125" style="font-size: 9px; font-family: 'DejaVu Sans', sans-serif">9</tspan>
      <tspan x="34.883789" y="-0.3125" style="font-size: 9px; font-family: 'DejaVu Sans', sans-serif">9</tspan>
      <tspan x="40.609863" y="-0.3125" style="font-size: 9px; font-family: 'DejaVu Sans', sans-serif">5</tspan>
     </text>
    </g>
   </g>
   <g id="text_120">
    <g transform="translate(61.344 350.688)">
     <text>
      <tspan x="0" y="-0.3125" style="font-size: 9px; font-family: 'Liberation Serif', serif; font-style: italic" class="cmmi10">M</tspan>
      <tspan x="8.731934" y="1.218063" style="font-size: 6.3px; font-family: 'Liberation Serif', serif; font-style: italic" class="cmmi10">A</tspan>
      <tspan x="14.030895" y="-0.3125" style="font-size: 9px; font-family: 'DejaVu Sans', sans-serif"> </tspan>
      <tspan x="16.891734" y="-0.3125" style="font-size: 9px; font-family: 'DejaVu Sans', sans-serif">=</tspan>
      <tspan x="24.43275" y="-0.3125" style="font-size: 9px; font-family: 'DejaVu Sans', sans-serif"> </tspan>
      <tspan x="27.29359" y="-0.3125" style="font-size: 9px; font-family: 'DejaVu Sans', sans-serif">0</tspan>
      <tspan x="33.019664" y="-0.3125" style="font-size: 9px; font-family: 'DejaVu Sans', sans-serif">.</tspan>
      <tspan x="35.130504" y="-0.3125" style="font-size: 9px; font-family: 'DejaVu Sans', sans-serif">7</tspan>
      <tspan x="40.856578" y="-0.3125" style="font-size: 9px; font-family: 'DejaVu Sans', sans-serif">8</tspan>
      <tspan x="46.582652" y="-0.3125" style="font-size: 9px; font-family: 'DejaVu Sans', sans-serif">9</tspan>
     </text>
    </g>
   </g>
  </g>
  <g id="axes_7">
   <g id="patch_36">
    <path d="M 56.16 732.96 
L 807.84 732.96 
L 807.84 626.4 
L 56.16 626.4 
z
" style="fill: #ffffff"/>
   </g>
   <g id="line2d_272">
    <path d="M 56.16 702.616797 
L 807.84 702.616797 
" clip-path="url(#pdf6c10e1a3)" style="fill: none; stroke-dasharray: 6,6; stroke-dashoffset: 0; stroke: #000000; stroke-width: 0.5" shape-rendering="crispEdges"/>
   </g>
   <g id="line2d_273">
    <path d="M 56.16 638.213347 
L 131.328 636.772045 
L 206.496 636.544471 
L 281.664 637.378909 
L 356.832 636.544471 
L 432 636.013465 
L 507.168 638.213347 
L 582.336 636.772045 
L 657.504 635.406601 
L 732.672 636.241039 
L 807.84 636.772045 
" clip-path="url(#pdf6c10e1a3)" style="fill: none; stroke: #ff0000; stroke-linecap: square"/>
   </g>
   <g id="line2d_274">
    <path d="M 56.16 702.465081 
L 131.328 701.630642 
L 206.496 699.203186 
L 281.664 697.306736 
L 356.832 696.472298 
L 432 692.906971 
L 507.168 703.527093 
L 582.336 702.08579 
L 657.504 692.906971 
L 732.672 693.134545 
L 807.84 692.072533 
" clip-path="url(#pdf6c10e1a3)" style="fill: none; stroke: #008000; stroke-linecap: square"/>
   </g>
   <g id="line2d_275">
    <path d="M 56.16 725.070767 
L 131.328 720.974435 
L 206.496 719.60899 
L 281.664 720.974435 
L 356.832 719.077984 
L 432 713.54035 
L 507.168 723.553607 
L 582.336 720.519287 
L 657.504 712.174906 
L 732.672 714.374788 
L 807.84 716.043664 
" clip-path="url(#pdf6c10e1a3)" style="fill: none; stroke: #0000ff; stroke-linecap: square"/>
   </g>
   <g id="patch_37">
    <path d="M 56.16 732.96 
L 56.16 626.4 
" shape-rendering="crispEdges" style="fill: none; stroke: #000000; stroke-width: 0.96; stroke-linejoin: miter; stroke-linecap: square"/>
   </g>
   <g id="patch_38">
    <path d="M 807.84 732.96 
L 807.84 626.4 
" shape-rendering="crispEdges" style="fill: none; stroke: #000000; stroke-width: 0.96; stroke-linejoin: miter; stroke-linecap: square"/>
   </g>
   <g id="patch_39">
    <path d="M 56.16 732.96 
L 807.84 732.96 
" shape-rendering="crispEdges" style="fill: none; stroke: #000000; stroke-width: 0.96; stroke-linejoin: miter; stroke-linecap: square"/>
   </g>
   <g id="patch_40">
    <path d="M 56.16 626.4 
L 807.84 626.4 
" shape-rendering="crispEdges" style="fill: none; stroke: #000000; stroke-width: 0.96; stroke-linejoin: miter; stroke-linecap: square"/>
   </g>
   <g id="matplotlib.axis_13">
    <g id="xtick_47">
     <g id="line2d_276">
      <g>
       <path d="M 56.1984 732.9600 L 56.1984 728.9600" shape-rendering="crispEdges" style="fill: none; stroke: #000000; stroke-width: 0.5"/>
      </g>
     </g>
     <g id="line2d_277">
      <g>
       <path d="M 56.1984 626.4000 L 56.1984 630.4000" shape-rendering="crispEdges" style="fill: none; stroke: #000000; stroke-width: 0.5"/>
      </g>
     </g>
     <g id="text_121">
      <text style="font-size: 8px; font-family: 'DejaVu Sans', sans-serif; text-anchor: middle" x="56.16" y="743.63875" transform="rotate(-0 56.16 743.63875)">06/18 06:59:46</text>
     </g>
    </g>
    <g id="xtick_48">
     <g id="line2d_278">
      <g>
       <path d="M 131.3280 732.9600 L 131.3280 728.9600" shape-rendering="crispEdges" style="fill: none; stroke: #000000; stroke-width: 0.5"/>
      </g>
     </g>
     <g id="line2d_279">
      <g>
       <path d="M 131.3280 626.4000 L 131.3280 630.4000" shape-rendering="crispEdges" style="fill: none; stroke: #000000; stroke-width: 0.5"/>
      </g>
     </g>
     <g id="text_122">
      <text style="font-size: 8px; font-family: 'DejaVu Sans', sans-serif; text-anchor: middle" x="131.328" y="743.63875" transform="rotate(-0 131.328 743.63875)">06/18 06:59:47</text>
     </g>
    </g>
    <g id="xtick_49">
     <g id="line2d_280">
      <g>
       <path d="M 206.4960 732.9600 L 206.4960 728.9600" shape-rendering="crispEdges" style="fill: none; stroke: #000000; stroke-width: 0.5"/>
      </g>
     </g>
     <g id="line2d_281">
      <g>
       <path d="M 206.4960 626.4000 L 206.4960 630.4000" shape-rendering="crispEdges" style="fill: none; stroke: #000000; stroke-width: 0.5"/>
      </g>
     </g>
     <g id="text_123">
      <text style="font-size: 8px; font-family: 'DejaVu Sans', sans-serif; text-anchor: middle" x="206.496" y="743.63875" transform="rotate(-0 206.496 743.63875)">06/18 06:59:48</text>
     </g>
    </g>
    <g id="xtick_50">
     <g id="line2d_282">
      <g>
       <path d="M 281.6640 732.9600 L 281.6640 728.9600" shape-rendering="crispEdges" style="fill: none; stroke: #000000; stroke-width: 0.5"/>
      </g>
     </g>
     <g id="line2d_283">
      <g>
       <path d="M 281.6640 626.4000 L 281.6640 630.4000" shape-rendering="crispEdges" style="fill: none; stroke: #000000; stroke-width: 0.5"/>
      </g>
     </g>
     <g id="text_124">
      <text style="font-size: 8px; font-family: 'DejaVu Sans', sans-serif; text-anchor: middle" x="281.664" y="743.63875" transform="rotate(-0 281.664 743.63875)">06/18 06:59:49</text>
     </g>
    </g>
    <g id="xtick_51">
     <g id="line2d_284">
      <g>
       <path d="M 356.8320 732.9600 L 356.8320 728.9600" shape-rendering="crispEdges" style="fill: none; stroke: #000000; stroke-width: 0.5"/>
      </g>
     </g>
     <g id="line2d_285">
      <g>
       <path d="M 356.8320 626.4000 L 356.8320 630.4000" shape-rendering="crispEdges" style="fill: none; stroke: #000000; stroke-width: 0.5"/>
      </g>
     </g>
     <g id="text_125">
      <text style="font-size: 8px; font-family: 'DejaVu Sans', sans-serif; text-anchor: middle" x="356.832" y="743.63875" transform="rotate(-0 356.832 743.63875)">06/18 06:59:50</text>
     </g>
    </g>
    <g id="xtick_52">
     <g id="line2d_286">
      <g>
       <path d="M 432.0384 732.9600 L 432.0384 728.9600" shape-rendering="crispEdges" style="fill: none; stroke: #000000; stroke-width: 0.5"/>
      </g>
     </g>
     <g id="line2d_287">
      <g>
       <path d="M 432.0384 626.4000 L 432.0384 630.4000" shape-rendering="crispEdges" style="fill: none; stroke: #000000; stroke-width: 0.5"/>
      </g>
     </g>
     <g id="text_126">
      <text style="font-size: 8px; font-family: 'DejaVu Sans', sans-serif; text-anchor: middle" x="432" y="743.63875" transform="rotate(-0 432 743.63875)">06/18 06:59:51</text>
     </g>
    </g>
    <g id="xtick_53">
     <g id="line2d_288">
      <g>
       <path d="M 507.1680 732.9600 L 507.1680 728.9600" shape-rendering="crispEdges" style="fill: none; stroke: #000000; stroke-width: 0.5"/>
      </g>
     </g>
     <g id="line2d_289">
      <g>
       <path d="M 507.1680 626.4000 L 507.1680 630.4000" shape-rendering="crispEdges" style="fill: none; stroke: #000000; stroke-width: 0.5"/>
      </g>
     </g>
     <g id="text_127">
      <text style="font-size: 8px; font-family: 'DejaVu Sans', sans-serif; text-anchor: middle" x="507.168" y="743.63875" transform="rotate(-0 507.168 743.63875)">06/18 06:59:52</text>
     </g>
    </g>
    <g id="xtick_54">
     <g id="line2d_290">
      <g>
       <path d="M 582.3360 732.9600 L 582.3360 728.9600" shape-rendering="crispEdges" style="fill: none; stroke: #000000; stroke-width: 0.5"/>
      </g>
     </g>
     <g id="line2d_291">
      <g>
       <path d="M 582.3360 626.4000 L 582.3360 630.4000" shape-rendering="crispEdges" style="fill: none; stroke: #000000; stroke-width: 0.5"/>
      </g>
     </g>
     <g id="text_128">
      <text style="font-size: 8px; font-family: 'DejaVu Sans', sans-serif; text-anchor: middle" x="582.336" y="743.63875" transform="rotate(-0 582.336 743.63875)">06/18 06:59:53</text>
     </g>
    </g>
    <g id="xtick_55">
     <g id="line2d_292">
      <g>
       <path d="M 657.5040 732.9600 L 657.5040 728.9600" shape-rendering="crispEdges" style="fill: none; stroke: #000000; stroke-width: 0.5"/>
      </g>
     </g>
     <g id="line2d_293">
      <g>
       <path d="M 657.5040 626.4000 L 657.5040 630.4000" shape-rendering="crispEdges" style="fill: none; stroke: #000000; stroke-width: 0.5"/>
      </g>
     </g>
     <g id="text_129">
      <text style="font-size: 8px; font-family: 'DejaVu Sans', sans-serif; text-anchor: middle" x="657.504" y="743.63875" transform="rotate(-0 657.504 743.63875)">06/18 06:59:54</text>
     </g>
    </g>
    <g id="xtick_56">
     <g id="line2d_294">
      <g>
       <path d="M 732.6720 732.9600 L 732.6720 728.9600" shape-rendering="crispEdges" style="fill: none; stroke: #000000; stroke-width: 0.5"/>
      </g>
     </g>
     <g id="line2d_295">
      <g>
       <path d="M 732.6720 626.4000 L 732.6720 630.4000" shape-rendering="crispEdges" style="fill: none; stroke: #000000; stroke-width: 0.5"/>
      </g>
     </g>
     <g id="text_130">
      <text style="font-size: 8px; font-family: 'DejaVu Sans', sans-serif; text-anchor: middle" x="732.672" y="743.63875" transform="rotate(-0 732.672 743.63875)">06/18 06:59:55</text>
     </g>
    </g>
    <g id="xtick_57">
     <g id="line2d_296">
      <g>
       <path d="M 807.8784 732.9600 L 807.8784 728.9600" shape-rendering="crispEdges" style="fill: none; stroke: #000000; stroke-width: 0.5"/>
      </g>
     </g>
     <g id="line2d_297">
      <g>
       <path d="M 807.8784 626.4000 L 807.8784 630.4000" shape-rendering="crispEdges" style="fill: none; stroke: #000000; stroke-width: 0.5"/>
      </g>
     </g>
     <g id="text_131">
      <text style="font-size: 8px; font-family: 'DejaVu Sans', sans-serif; text-anchor: middle" x="807.84" y="743.63875" transform="rotate(-0 807.84 743.63875)">06/18 06:59:56</text>
     </g>
    </g>
   </g>
   <g id="matplotlib.axis_14">
    <g id="ytick_50">
     <g id="line2d_298">
      <g>
       <path d="M 56.1600 732.9984 L 60.1600 732.9984" shape-rendering="crispEdges" style="fill: none; stroke: #000000; stroke-width: 0.5"/>
      </g>
     </g>
     <g id="line2d_299">
      <g>
       <path d="M 807.8400 732.9984 L 803.8400 732.9984" shape-rendering="crispEdges" style="fill: none; stroke: #000000; stroke-width: 0.5"/>
      </g>
     </g>
     <g id="text_132">
      <text style="font-size: 8px; font-family: 'DejaVu Sans', sans-serif; text-anchor: end" x="52.16" y="735.1675" transform="rotate(-0 52.16 735.1675)">−40</text>
     </g>
    </g>
    <g id="ytick_51">
     <g id="line2d_300">
      <g>
       <path d="M 56.1600 717.7884 L 60.1600 717.7884" shape-rendering="crispEdges" style="fill: none; stroke: #000000; stroke-width: 0.5"/>
      </g>
     </g>
     <g id="line2d_301">
      <g>
       <path d="M 807.8400 717.7884 L 803.8400 717.7884" shape-rendering="crispEdges" style="fill: none; stroke: #000000; stroke-width: 0.5"/>
      </g>
     </g>
     <g id="text_133">
      <text style="font-size: 8px; font-family: 'DejaVu Sans', sans-serif; text-anchor: end" x="52.16" y="719.995898" transform="rotate(-0 52.16 719.995898)">−20</text>
     </g>
    </g>
    <g id="ytick_52">
     <g id="line2d_302">
      <g>
       <path d="M 56.1600 702.6168 L 60.1600 702.6168" shape-rendering="crispEdges" style="fill: none; stroke: #000000; stroke-width: 0.5"/>
      </g>
     </g>
     <g id="line2d_303">
      <g>
       <path d="M 807.8400 702.6168 L 803.8400 702.6168" shape-rendering="crispEdges" style="fill: none; stroke: #000000; stroke-width: 0.5"/>
      </g>
     </g>
     <g id="text_134">
      <text style="font-size: 8px; font-family: 'DejaVu Sans', sans-serif; text-anchor: end" x="52.16" y="704.824297" transform="rotate(-0 52.16 704.824297)">0</text>
     </g>
    </g>
    <g id="ytick_53">
     <g id="line2d_304">
      <g>
       <path d="M 56.1600 687.4452 L 60.1600 687.4452" shape-rendering="crispEdges" style="fill: none; stroke: #000000; stroke-width: 0.5"/>
      </g>
     </g>
     <g id="line2d_305">
      <g>
       <path d="M 807.8400 687.4452 L 803.8400 687.4452" shape-rendering="crispEdges" style="fill: none; stroke: #000000; stroke-width: 0.5"/>
      </g>
     </g>
     <g id="text_135">
      <text style="font-size: 8px; font-family: 'DejaVu Sans', sans-serif; text-anchor: end" x="52.16" y="689.652695" transform="rotate(-0 52.16 689.652695)">20</text>
     </g>
    </g>
    <g id="ytick_54">
     <g id="line2d_306">
      <g>
       <path d="M 56.1600 672.2736 L 60.1600 672.2736" shape-rendering="crispEdges" style="fill: none; stroke: #000000; stroke-width: 0.5"/>
      </g>
     </g>
     <g id="line2d_307">
      <g>
       <path d="M 807.8400 672.2736 L 803.8400 672.2736" shape-rendering="crispEdges" style="fill: none; stroke: #000000; stroke-width: 0.5"/>
      </g>
     </g>
     <g id="text_136">
      <text style="font-size: 8px; font-family: 'DejaVu Sans', sans-serif; text-anchor: end" x="52.16" y="674.481093" transform="rotate(-0 52.16 674.481093)">40</text>
     </g>
    </g>
    <g id="ytick_55">
     <g id="line2d_308">
      <g>
       <path d="M 56.1600 657.1584 L 60.1600 657.1584" shape-rendering="crispEdges" style="fill: none; stroke: #000000; stroke-width: 0.5"/>
      </g>
     </g>
     <g id="line2d_309">
      <g>
       <path d="M 807.8400 657.1584 L 803.8400 657.1584" shape-rendering="crispEdges" style="fill: none; stroke: #000000; stroke-width: 0.5"/>
      </g>
     </g>
     <g id="text_137">
      <text style="font-size: 8px; font-family: 'DejaVu Sans', sans-serif; text-anchor: end" x="52.16" y="659.309491" transform="rotate(-0 52.16 659.309491)">60</text>
     </g>
    </g>
    <g id="ytick_56">
     <g id="line2d_310">
      <g>
       <path d="M 56.1600 641.9304 L 60.1600 641.9304" shape-rendering="crispEdges" style="fill: none; stroke: #000000; stroke-width: 0.5"/>
      </g>
     </g>
     <g id="line2d_311">
      <g>
       <path d="M 807.8400 641.9304 L 803.8400 641.9304" shape-rendering="crispEdges" style="fill: none; stroke: #000000; stroke-width: 0.5"/>
      </g>
     </g>
     <g id="text_138">
      <text style="font-size: 8px; font-family: 'DejaVu Sans', sans-serif; text-anchor: end" x="52.16" y="644.13789" transform="rotate(-0 52.16 644.13789)">80</text>
     </g>
    </g>
    <g id="ytick_57">
     <g id="line2d_312">
      <g>
       <path d="M 56.1600 626.7588 L 60.1600 626.7588" shape-rendering="crispEdges" style="fill: none; stroke: #000000; stroke-width: 0.5"/>
      </g>
     </g>
     <g id="line2d_313">
      <g>
       <path d="M 807.8400 626.7588 L 803.8400 626.7588" shape-rendering="crispEdges" style="fill: none; stroke: #000000; stroke-width: 0.5"/>
      </g>
     </g>
     <g id="text_139">
      <text style="font-size: 8px; font-family: 'DejaVu Sans', sans-serif; text-anchor: end" x="52.16" y="628.966288" transform="rotate(-0 52.16 628.966288)">100</text>
     </g>
    </g>
    <g id="text_140">
     <text style="font-size: 8px; font-family: 'DejaVu Sans', sans-serif; text-anchor: middle" x="27.7125" y="679.68" transform="rotate(-90 27.7125 679.68)">B(nT)</text>
    </g>
   </g>
   <g id="title_TS1" transform="matrix(1.00158 0 0 1 -0.5155 0)">
    <text style="font-size: 11.23px; font-family: 'DejaVu Sans', sans-serif; text-anchor: middle" x="432" y="621.4" transform="rotate(-0 432 621.4)">Magnetic Field (RTN Frame)</text>
   </g>
   <g id="legend_2">
    <g id="patch_41">
     <path d="M 769.901094 663.944062 
L 804.34 663.944062 
L 804.34 629.9 
L 769.901094 629.9 
z
" shape-rendering="crispEdges" style="fill: #ffffff; stroke: #000000; stroke-width: 0.96; stroke-linejoin: miter"/>
    </g>
    <g id="line2d_314">
     <path d="M 774.801094 635.568906 
L 784.601094 635.568906 
" style="fill: none; stroke: #ff0000; stroke-linecap: square"/>
    </g>
    <g id="text_141">
     <text style="font-size: 7px; font-family: 'DejaVu Sans', sans-serif; text-anchor: start" x="792.301094" y="638.018906" transform="rotate(-0 792.301094 638.018906)">Br</text>
    </g>
    <g id="line2d_315">
     <path d="M 774.801094 646.403594 
L 784.601094 646.403594 
" style="fill: none; stroke: #008000; stroke-linecap: square"/>
    </g>
    <g id="text_142">
     <text style="font-size: 7px; font-family: 'DejaVu Sans', sans-serif; text-anchor: start" x="792.301094" y="648.853594" transform="rotate(-0 792.301094 648.853594)">Bt</text>
    </g>
    <g id="line2d_316">
     <path d="M 774.801094 657.238281 
L 784.601094 657.238281 
" style="fill: none; stroke: #0000ff; stroke-linecap: square"/>
    </g>
    <g id="text_143">
     <text style="font-size: 7px; font-family: 'DejaVu Sans', sans-serif; text-anchor: start" x="792.301094" y="659.688281" transform="rotate(-0 792.301094 659.688281)">Bn</text>
    </g>
   </g>
  </g>
  <g id="axes_8">
   <g id="patch_42">
    <path d="M 56.16 893.28 
L 807.84 893.28 
L 807.84 786.72 
L 56.16 786.72 
z
" style="fill: #ffffff"/>
   </g>
   <g id="line2d_317">
    <path d="M 56.16 840.179394 
L 807.84 840.179394 
" clip-path="url(#p66f6a427d6)" style="fill: none; stroke-dasharray: 6,6; stroke-dashoffset: 0; stroke: #000000; stroke-width: 0.5" shape-rendering="crispEdges"/>
   </g>
   <g id="line2d_318">
    <path d="M 56.16 887.810638 
L 131.328 887.810638 
L 206.496 887.810638 
L 281.664 888.076141 
L 356.832 888.341644 
L 432 887.492034 
L 507.168 887.17343 
L 582.336 887.757537 
L 657.504 887.438933 
L 732.672 887.438933 
L 807.84 887.438933 
" clip-path="url(#p66f6a427d6)" style="fill: none; stroke: #ff0000; stroke-linecap: square"/>
   </g>
   <g id="line2d_319">
    <path d="M 56.16 834.55073 
L 131.328 836.727855 
L 206.496 838.639476 
L 281.664 839.435985 
L 356.832 840.285595 
L 432 844.746046 
L 507.168 834.55073 
L 582.336 836.515452 
L 657.504 845.223952 
L 732.672 844.055738 
L 807.84 843.843336 
" clip-path="url(#p66f6a427d6)" style="fill: none; stroke: #008000; stroke-linecap: square"/>
   </g>
   <g id="line2d_320">
    <path d="M 56.16 837.842967 
L 131.328 835.665842 
L 206.496 835.665842 
L 281.664 837.311961 
L 356.832 836.462352 
L 432 834.869333 
L 507.168 836.515452 
L 582.336 835.134836 
L 657.504 834.019724 
L 732.672 835.134836 
L 807.84 836.515452 
" clip-path="url(#p66f6a427d6)" style="fill: none; stroke: #0000ff; stroke-linecap: square"/>
   </g>
   <g id="line2d_321">
    <path d="M 56.16 791.964044 
L 131.328 791.964044 
L 206.496 791.964044 
L 281.664 791.964044 
L 356.832 791.698541 
L 432 792.017144 
L 507.168 792.335748 
L 582.336 791.751641 
L 657.504 791.751641 
L 732.672 791.964044 
L 807.84 791.964044 
" clip-path="url(#p66f6a427d6)" style="fill: none; stroke: #000000; stroke-linecap: square"/>
   </g>
   <g id="patch_43">
    <path d="M 56.16 893.28 
L 56.16 786.72 
" shape-rendering="crispEdges" style="fill: none; stroke: #000000; stroke-width: 0.96; stroke-linejoin: miter; stroke-linecap: square"/>
   </g>
   <g id="patch_44">
    <path d="M 807.84 893.28 
L 807.84 786.72 
" shape-rendering="crispEdges" style="fill: none; stroke: #000000; stroke-width: 0.96; stroke-linejoin: miter; stroke-linecap: square"/>
   </g>
   <g id="patch_45">
    <path d="M 56.16 893.28 
L 807.84 893.28 
" shape-rendering="crispEdges" style="fill: none; stroke: #000000; stroke-width: 0.96; stroke-linejoin: miter; stroke-linecap: square"/>
   </g>
   <g id="patch_46">
    <path d="M 56.16 786.72 
L 807.84 786.72 
" shape-rendering="crispEdges" style="fill: none; stroke: #000000; stroke-width: 0.96; stroke-linejoin: miter; stroke-linecap: square"/>
   </g>
   <g id="matplotlib.axis_15">
    <g id="xtick_58">
     <g id="line2d_322">
      <g>
       <path d="M 56.1984 893.2800 L 56.1984 889.2800" shape-rendering="crispEdges" style="fill: none; stroke: #000000; stroke-width: 0.5"/>
      </g>
     </g>
     <g id="line2d_323">
      <g>
       <path d="M 56.1984 786.7200 L 56.1984 790.7200" shape-rendering="crispEdges" style="fill: none; stroke: #000000; stroke-width: 0.5"/>
      </g>
     </g>
     <g id="text_144">
      <text style="font-size: 8px; font-family: 'DejaVu Sans', sans-serif; text-anchor: middle" x="56.16" y="903.95875" transform="rotate(-0 56.16 903.95875)">06/18 06:59:46</text>
     </g>
    </g>
    <g id="xtick_59">
     <g id="line2d_324">
      <g>
       <path d="M 131.3280 893.2800 L 131.3280 889.2800" shape-rendering="crispEdges" style="fill: none; stroke: #000000; stroke-width: 0.5"/>
      </g>
     </g>
     <g id="line2d_325">
      <g>
       <path d="M 131.3280 786.7200 L 131.3280 790.7200" shape-rendering="crispEdges" style="fill: none; stroke: #000000; stroke-width: 0.5"/>
      </g>
     </g>
     <g id="text_145">
      <text style="font-size: 8px; font-family: 'DejaVu Sans', sans-serif; text-anchor: middle" x="131.328" y="903.95875" transform="rotate(-0 131.328 903.95875)">06/18 06:59:47</text>
     </g>
    </g>
    <g id="xtick_60">
     <g id="line2d_326">
      <g>
       <path d="M 206.4960 893.2800 L 206.4960 889.2800" shape-rendering="crispEdges" style="fill: none; stroke: #000000; stroke-width: 0.5"/>
      </g>
     </g>
     <g id="line2d_327">
      <g>
       <path d="M 206.4960 786.7200 L 206.4960 790.7200" shape-rendering="crispEdges" style="fill: none; stroke: #000000; stroke-width: 0.5"/>
      </g>
     </g>
     <g id="text_146">
      <text style="font-size: 8px; font-family: 'DejaVu Sans', sans-serif; text-anchor: middle" x="206.496" y="903.95875" transform="rotate(-0 206.496 903.95875)">06/18 06:59:48</text>
     </g>
    </g>
    <g id="xtick_61">
     <g id="line2d_328">
      <g>
       <path d="M 281.6640 893.2800 L 281.6640 889.2800" shape-rendering="crispEdges" style="fill: none; stroke: #000000; stroke-width: 0.5"/>
      </g>
     </g>
     <g id="line2d_329">
      <g>
       <path d="M 281.6640 786.7200 L 281.6640 790.7200" shape-rendering="crispEdges" style="fill: none; stroke: #000000; stroke-width: 0.5"/>
      </g>
     </g>
     <g id="text_147">
      <text style="font-size: 8px; font-family: 'DejaVu Sans', sans-serif; text-anchor: middle" x="281.664" y="903.95875" transform="rotate(-0 281.664 903.95875)">06/18 06:59:49</text>
     </g>
    </g>
    <g id="xtick_62">
     <g id="line2d_330">
      <g>
       <path d="M 356.8320 893.2800 L 356.8320 889.2800" shape-rendering="crispEdges" style="fill: none; stroke: #000000; stroke-width: 0.5"/>
      </g>
     </g>
     <g id="line2d_331">
      <g>
       <path d="M 356.8320 786.7200 L 356.8320 790.7200" shape-rendering="crispEdges" style="fill: none; stroke: #000000; stroke-width: 0.5"/>
      </g>
     </g>
     <g id="text_148">
      <text style="font-size: 8px; font-family: 'DejaVu Sans', sans-serif; text-anchor: middle" x="356.832" y="903.95875" transform="rotate(-0 356.832 903.95875)">06/18 06:59:50</text>
     </g>
    </g>
    <g id="xtick_63">
     <g id="line2d_332">
      <g>
       <path d="M 432.0384 893.2800 L 432.0384 889.2800" shape-rendering="crispEdges" style="fill: none; stroke: #000000; stroke-width: 0.5"/>
      </g>
     </g>
     <g id="line2d_333">
      <g>
       <path d="M 432.0384 786.7200 L 432.0384 790.7200" shape-rendering="crispEdges" style="fill: none; stroke: #000000; stroke-width: 0.5"/>
      </g>
     </g>
     <g id="text_149">
      <text style="font-size: 8px; font-family: 'DejaVu Sans', sans-serif; text-anchor: middle" x="432" y="903.95875" transform="rotate(-0 432 903.95875)">06/18 06:59:51</text>
     </g>
    </g>
    <g id="xtick_64">
     <g id="line2d_334">
      <g>
       <path d="M 507.1680 893.2800 L 507.1680 889.2800" shape-rendering="crispEdges" style="fill: none; stroke: #000000; stroke-width: 0.5"/>
      </g>
     </g>
     <g id="line2d_335">
      <g>
       <path d="M 507.1680 786.7200 L 507.1680 790.7200" shape-rendering="crispEdges" style="fill: none; stroke: #000000; stroke-width: 0.5"/>
      </g>
     </g>
     <g id="text_150">
      <text style="font-size: 8px; font-family: 'DejaVu Sans', sans-serif; text-anchor: middle" x="507.168" y="903.95875" transform="rotate(-0 507.168 903.95875)">06/18 06:59:52</text>
     </g>
    </g>
    <g id="xtick_65">
     <g id="line2d_336">
      <g>
       <path d="M 582.3360 893.2800 L 582.3360 889.2800" shape-rendering="crispEdges" style="fill: none; stroke: #000000; stroke-width: 0.5"/>
      </g>
     </g>
     <g id="line2d_337">
      <g>
       <path d="M 582.3360 786.7200 L 582.3360 790.7200" shape-rendering="crispEdges" style="fill: none; stroke: #000000; stroke-width: 0.5"/>
      </g>
     </g>
     <g id="text_151">
      <text style="font-size: 8px; font-family: 'DejaVu Sans', sans-serif; text-anchor: middle" x="582.336" y="903.95875" transform="rotate(-0 582.336 903.95875)">06/18 06:59:53</text>
     </g>
    </g>
    <g id="xtick_66">
     <g id="line2d_338">
      <g>
       <path d="M 657.5040 893.2800 L 657.5040 889.2800" shape-rendering="crispEdges" style="fill: none; stroke: #000000; stroke-width: 0.5"/>
      </g>
     </g>
     <g id="line2d_339">
      <g>
       <path d="M 657.5040 786.7200 L 657.5040 790.7200" shape-rendering="crispEdges" style="fill: none; stroke: #000000; stroke-width: 0.5"/>
      </g>
     </g>
     <g id="text_152">
      <text style="font-size: 8px; font-family: 'DejaVu Sans', sans-serif; text-anchor: middle" x="657.504" y="903.95875" transform="rotate(-0 657.504 903.95875)">06/18 06:59:54</text>
     </g>
    </g>
    <g id="xtick_67">
     <g id="line2d_340">
      <g>
       <path d="M 732.6720 893.2800 L 732.6720 889.2800" shape-rendering="crispEdges" style="fill: none; stroke: #000000; stroke-width: 0.5"/>
      </g>
     </g>
     <g id="line2d_341">
      <g>
       <path d="M 732.6720 786.7200 L 732.6720 790.7200" shape-rendering="crispEdges" style="fill: none; stroke: #000000; stroke-width: 0.5"/>
      </g>
     </g>
     <g id="text_153">
      <text style="font-size: 8px; font-family: 'DejaVu Sans', sans-serif; text-anchor: middle" x="732.672" y="903.95875" transform="rotate(-0 732.672 903.95875)">06/18 06:59:55</text>
     </g>
    </g>
    <g id="xtick_68">
     <g id="line2d_342">
      <g>
       <path d="M 807.8784 893.2800 L 807.8784 889.2800" shape-rendering="crispEdges" style="fill: none; stroke: #000000; stroke-width: 0.5"/>
      </g>
     </g>
     <g id="line2d_343">
      <g>
       <path d="M 807.8784 786.7200 L 807.8784 790.7200" shape-rendering="crispEdges" style="fill: none; stroke: #000000; stroke-width: 0.5"/>
      </g>
     </g>
     <g id="text_154">
      <text style="font-size: 8px; font-family: 'DejaVu Sans', sans-serif; text-anchor: middle" x="807.84" y="903.95875" transform="rotate(-0 807.84 903.95875)">06/18 06:59:56</text>
     </g>
    </g>
   </g>
   <g id="matplotlib.axis_16">
    <g id="ytick_58">
     <g id="line2d_344">
      <g>
       <path d="M 56.1600 893.3184 L 60.1600 893.3184" shape-rendering="crispEdges" style="fill: none; stroke: #000000; stroke-width: 0.5"/>
      </g>
     </g>
     <g id="line2d_345">
      <g>
       <path d="M 807.8400 893.3184 L 803.8400 893.3184" shape-rendering="crispEdges" style="fill: none; stroke: #000000; stroke-width: 0.5"/>
      </g>
     </g>
     <g id="text_155">
      <text style="font-size: 8px; font-family: 'DejaVu Sans', sans-serif; text-anchor: end" x="52.16" y="895.4875" transform="rotate(-0 52.16 895.4875)">−100</text>
     </g>
    </g>
    <g id="ytick_59">
     <g id="line2d_346">
      <g>
       <path d="M 56.1600 866.7297 L 60.1600 866.7297" shape-rendering="crispEdges" style="fill: none; stroke: #000000; stroke-width: 0.5"/>
      </g>
     </g>
     <g id="line2d_347">
      <g>
       <path d="M 807.8400 866.7297 L 803.8400 866.7297" shape-rendering="crispEdges" style="fill: none; stroke: #000000; stroke-width: 0.5"/>
      </g>
     </g>
     <g id="text_156">
      <text style="font-size: 8px; font-family: 'DejaVu Sans', sans-serif; text-anchor: end" x="52.16" y="868.937197" transform="rotate(-0 52.16 868.937197)">−50</text>
     </g>
    </g>
    <g id="ytick_60">
     <g id="line2d_348">
      <g>
       <path d="M 56.1600 840.1794 L 60.1600 840.1794" shape-rendering="crispEdges" style="fill: none; stroke: #000000; stroke-width: 0.5"/>
      </g>
     </g>
     <g id="line2d_349">
      <g>
       <path d="M 807.8400 840.1794 L 803.8400 840.1794" shape-rendering="crispEdges" style="fill: none; stroke: #000000; stroke-width: 0.5"/>
      </g>
     </g>
     <g id="text_157">
      <text style="font-size: 8px; font-family: 'DejaVu Sans', sans-serif; text-anchor: end" x="52.16" y="842.386894" transform="rotate(-0 52.16 842.386894)">0</text>
     </g>
    </g>
    <g id="ytick_61">
     <g id="line2d_350">
      <g>
       <path d="M 56.1600 813.6291 L 60.1600 813.6291" shape-rendering="crispEdges" style="fill: none; stroke: #000000; stroke-width: 0.5"/>
      </g>
     </g>
     <g id="line2d_351">
      <g>
       <path d="M 807.8400 813.6291 L 803.8400 813.6291" shape-rendering="crispEdges" style="fill: none; stroke: #000000; stroke-width: 0.5"/>
      </g>
     </g>
     <g id="text_158">
      <text style="font-size: 8px; font-family: 'DejaVu Sans', sans-serif; text-anchor: end" x="52.16" y="815.836591" transform="rotate(-0 52.16 815.836591)">50</text>
     </g>
    </g>
    <g id="ytick_62">
     <g id="line2d_352">
      <g>
       <path d="M 56.1600 787.0788 L 60.1600 787.0788" shape-rendering="crispEdges" style="fill: none; stroke: #000000; stroke-width: 0.5"/>
      </g>
     </g>
     <g id="line2d_353">
      <g>
       <path d="M 807.8400 787.0788 L 803.8400 787.0788" shape-rendering="crispEdges" style="fill: none; stroke: #000000; stroke-width: 0.5"/>
      </g>
     </g>
     <g id="text_159">
      <text style="font-size: 8px; font-family: 'DejaVu Sans', sans-serif; text-anchor: end" x="52.16" y="789.286288" transform="rotate(-0 52.16 789.286288)">100</text>
     </g>
    </g>
    <g id="text_160">
     <text style="font-size: 8px; font-family: 'DejaVu Sans', sans-serif; text-anchor: middle" x="22.6225" y="840" transform="rotate(-90 22.6225 840)">B(nT)</text>
    </g>
   </g>
   <g id="title_TS2" transform="matrix(0.99403 0 0 1 1.9822 0)">
    <text style="font-size: 11.23px; font-family: 'DejaVu Sans', sans-serif; text-anchor: middle" x="432" y="781.72" transform="rotate(-0 432 781.72)">Magnetic Field (Flux Rope Frame)</text>
   </g>
   <g id="legend_3">
    <g id="patch_47">
     <path d="M 768.270313 835.324063 
L 804.34 835.324063 
L 804.34 790.22 
L 768.270313 790.22 
z
" shape-rendering="crispEdges" style="fill: #ffffff; stroke: #000000; stroke-width: 0.96; stroke-linejoin: miter"/>
    </g>
    <g id="line2d_354">
     <path d="M 773.170313 795.888906 
L 782.970312 795.888906 
" style="fill: none; stroke: #ff0000; stroke-linecap: square"/>
    </g>
    <g id="text_161">
     <text style="font-size: 7px; font-family: 'DejaVu Sans', sans-serif; text-anchor: start" x="790.670313" y="798.338906" transform="rotate(-0 790.670313 798.338906)">Bx'</text>
    </g>
    <g id="line2d_355">
     <path d="M 773.170313 806.723594 
L 782.970312 806.723594 
" style="fill: none; stroke: #008000; stroke-linecap: square"/>
    </g>
    <g id="text_162">
     <text style="font-size: 7px; font-family: 'DejaVu Sans', sans-serif; text-anchor: start" x="790.670313" y="809.173594" transform="rotate(-0 790.670313 809.173594)">By'</text>
    </g>
    <g id="line2d_356">
     <path d="M 773.170313 817.558281 
L 782.970312 817.558281 
" style="fill: none; stroke: #0000ff; stroke-linecap: square"/>
    </g>
    <g id="text_163">
     <text style="font-size: 7px; font-family: 'DejaVu Sans', sans-serif; text-anchor: start" x="790.670313" y="820.008281" transform="rotate(-0 790.670313 820.008281)">Bz'</text>
    </g>
    <g id="line2d_357">
     <path d="M 773.170313 828.423594 
L 782.970312 828.423594 
" style="fill: none; stroke: #000000; stroke-linecap: square"/>
    </g>
    <g id="text_164">
     <text style="font-size: 7px; font-family: 'DejaVu Sans', sans-serif; text-anchor: start" x="790.670313" y="830.873594" transform="rotate(-0 790.670313 830.873594)">|B|</text>
    </g>
   </g>
  </g>
  <g id="axes_9">
   <g id="patch_48">
    <path d="M 56.16 1053.12 
L 807.84 1053.12 
L 807.84 946.56 
L 56.16 946.56 
z
" style="fill: #ffffff"/>
   </g>
   <g id="line2d_358">
    <path d="M 56.16 947.532395 
L 131.328 948.382005 
L 206.496 948.618007 
L 281.664 948.382005 
L 356.832 948.098801 
L 432 948.924811 
L 507.168 947.532395 
L 582.336 948.334804 
L 657.504 949.420416 
L 732.672 948.948411 
L 807.84 948.948411 
" clip-path="url(#pab0f8e7149)" style="fill: none; stroke: #ff0000; stroke-linecap: square"/>
   </g>
   <g id="line2d_359">
    <path d="M 56.16 1034.168984 
L 131.328 1042.098674 
L 206.496 1043.160686 
L 281.664 1043.727093 
L 356.832 1044.836305 
L 432 1044.3171 
L 507.168 1041.862672 
L 582.336 1043.821494 
L 657.504 1045.780316 
L 732.672 1045.21391 
L 807.84 1046.370323 
" clip-path="url(#pab0f8e7149)" style="fill: none; stroke: #008000; stroke-linecap: square"/>
   </g>
   <g id="line2d_360">
    <path d="M 56.16 1015.123566 
L 131.328 1021.920444 
L 206.496 1022.48685 
L 281.664 1020.811231 
L 356.832 1020.292025 
L 432 1023.501662 
L 507.168 1019.82002 
L 582.336 1022.345249 
L 657.504 1024.540074 
L 732.672 1022.345249 
L 807.84 1022.628452 
" clip-path="url(#pab0f8e7149)" style="fill: none; stroke: #0000ff; stroke-linecap: square"/>
   </g>
   <g id="patch_49">
    <path d="M 56.16 1053.12 
L 56.16 946.56 
" shape-rendering="crispEdges" style="fill: none; stroke: #000000; stroke-width: 0.96; stroke-linejoin: miter; stroke-linecap: square"/>
   </g>
   <g id="patch_50">
    <path d="M 807.84 1053.12 
L 807.84 946.56 
" shape-rendering="crispEdges" style="fill: none; stroke: #000000; stroke-width: 0.96; stroke-linejoin: miter; stroke-linecap: square"/>
   </g>
   <g id="patch_51">
    <path d="M 56.16 1053.12 
L 807.84 1053.12 
" shape-rendering="crispEdges" style="fill: none; stroke: #000000; stroke-width: 0.96; stroke-linejoin: miter; stroke-linecap: square"/>
   </g>
   <g id="patch_52">
    <path d="M 56.16 946.56 
L 807.84 946.56 
" shape-rendering="crispEdges" style="fill: none; stroke: #000000; stroke-width: 0.96; stroke-linejoin: miter; stroke-linecap: square"/>
   </g>
   <g id="matplotlib.axis_17">
    <g id="xtick_69">
     <g id="line2d_361">
      <g>
       <path d="M 56.1984 1053.1200 L 56.1984 1049.1200" shape-rendering="crispEdges" style="fill: none; stroke: #000000; stroke-width: 0.5"/>
      </g>
     </g>
     <g id="line2d_362">
      <g>
       <path d="M 56.1984 946.5600 L 56.1984 950.5600" shape-rendering="crispEdges" style="fill: none; stroke: #000000; stroke-width: 0.5"/>
      </g>
     </g>
     <g id="text_165">
      <text style="font-size: 8px; font-family: 'DejaVu Sans', sans-serif; text-anchor: middle" x="56.16" y="1063.79875" transform="rotate(-0 56.16 1063.79875)">06/18 06:59:46</text>
     </g>
    </g>
    <g id="xtick_70">
     <g id="line2d_363">
      <g>
       <path d="M 131.3280 1053.1200 L 131.3280 1049.1200" shape-rendering="crispEdges" style="fill: none; stroke: #000000; stroke-width: 0.5"/>
      </g>
     </g>
     <g id="line2d_364">
      <g>
       <path d="M 131.3280 946.5600 L 131.3280 950.5600" shape-rendering="crispEdges" style="fill: none; stroke: #000000; stroke-width: 0.5"/>
      </g>
     </g>
     <g id="text_166">
      <text style="font-size: 8px; font-family: 'DejaVu Sans', sans-serif; text-anchor: middle" x="131.328" y="1063.79875" transform="rotate(-0 131.328 1063.79875)">06/18 06:59:47</text>
     </g>
    </g>
    <g id="xtick_71">
     <g id="line2d_365">
      <g>
       <path d="M 206.4960 1053.1200 L 206.4960 1049.1200" shape-rendering="crispEdges" style="fill: none; stroke: #000000; stroke-width: 0.5"/>
      </g>
     </g>
     <g id="line2d_366">
      <g>
       <path d="M 206.4960 946.5600 L 206.4960 950.5600" shape-rendering="crispEdges" style="fill: none; stroke: #000000; stroke-width: 0.5"/>
      </g>
     </g>
     <g id="text_167">
      <text style="font-size: 8px; font-family: 'DejaVu Sans', sans-serif; text-anchor: middle" x="206.496" y="1063.79875" transform="rotate(-0 206.496 1063.79875)">06/18 06:59:48</text>
     </g>
    </g>
    <g id="xtick_72">
     <g id="line2d_367">
      <g>
       <path d="M 281.6640 1053.1200 L 281.6640 1049.1200" shape-rendering="crispEdges" style="fill: none; stroke: #000000; stroke-width: 0.5"/>
      </g>
     </g>
     <g id="line2d_368">
      <g>
       <path d="M 281.6640 946.5600 L 281.6640 950.5600" shape-rendering="crispEdges" style="fill: none; stroke: #000000; stroke-width: 0.5"/>
      </g>
     </g>
     <g id="text_168">
      <text style="font-size: 8px; font-family: 'DejaVu Sans', sans-serif; text-anchor: middle" x="281.664" y="1063.79875" transform="rotate(-0 281.664 1063.79875)">06/18 06:59:49</text>
     </g>
    </g>
    <g id="xtick_73">
     <g id="line2d_369">
      <g>
       <path d="M 356.8320 1053.1200 L 356.8320 1049.1200" shape-rendering="crispEdges" style="fill: none; stroke: #000000; stroke-width: 0.5"/>
      </g>
     </g>
     <g id="line2d_370">
      <g>
       <path d="M 356.8320 946.5600 L 356.8320 950.5600" shape-rendering="crispEdges" style="fill: none; stroke: #000000; stroke-width: 0.5"/>
      </g>
     </g>
     <g id="text_169">
      <text style="font-size: 8px; font-family: 'DejaVu Sans', sans-serif; text-anchor: middle" x="356.832" y="1063.79875" transform="rotate(-0 356.832 1063.79875)">06/18 06:59:50</text>
     </g>
    </g>
    <g id="xtick_74">
     <g id="line2d_371">
      <g>
       <path d="M 432.0384 1053.1200 L 432.0384 1049.1200" shape-rendering="crispEdges" style="fill: none; stroke: #000000; stroke-width: 0.5"/>
      </g>
     </g>
     <g id="line2d_372">
      <g>
       <path d="M 432.0384 946.5600 L 432.0384 950.5600" shape-rendering="crispEdges" style="fill: none; stroke: #000000; stroke-width: 0.5"/>
      </g>
     </g>
     <g id="text_170">
      <text style="font-size: 8px; font-family: 'DejaVu Sans', sans-serif; text-anchor: middle" x="432" y="1063.79875" transform="rotate(-0 432 1063.79875)">06/18 06:59:51</text>
     </g>
    </g>
    <g id="xtick_75">
     <g id="line2d_373">
      <g>
       <path d="M 507.1680 1053.1200 L 507.1680 1049.1200" shape-rendering="crispEdges" style="fill: none; stroke: #000000; stroke-width: 0.5"/>
      </g>
     </g>
     <g id="line2d_374">
      <g>
       <path d="M 507.1680 946.5600 L 507.1680 950.5600" shape-rendering="crispEdges" style="fill: none; stroke: #000000; stroke-width: 0.5"/>
      </g>
     </g>
     <g id="text_171">
      <text style="font-size: 8px; font-family: 'DejaVu Sans', sans-serif; text-anchor: middle" x="507.168" y="1063.79875" transform="rotate(-0 507.168 1063.79875)">06/18 06:59:52</text>
     </g>
    </g>
    <g id="xtick_76">
     <g id="line2d_375">
      <g>
       <path d="M 582.3360 1053.1200 L 582.3360 1049.1200" shape-rendering="crispEdges" style="fill: none; stroke: #000000; stroke-width: 0.5"/>
      </g>
     </g>
     <g id="line2d_376">
      <g>
       <path d="M 582.3360 946.5600 L 582.3360 950.5600" shape-rendering="crispEdges" style="fill: none; stroke: #000000; stroke-width: 0.5"/>
      </g>
     </g>
     <g id="text_172">
      <text style="font-size: 8px; font-family: 'DejaVu Sans', sans-serif; text-anchor: middle" x="582.336" y="1063.79875" transform="rotate(-0 582.336 1063.79875)">06/18 06:59:53</text>
     </g>
    </g>
    <g id="xtick_77">
     <g id="line2d_377">
      <g>
       <path d="M 657.5040 1053.1200 L 657.5040 1049.1200" shape-rendering="crispEdges" style="fill: none; stroke: #000000; stroke-width: 0.5"/>
      </g>
     </g>
     <g id="line2d_378">
      <g>
       <path d="M 657.5040 946.5600 L 657.5040 950.5600" shape-rendering="crispEdges" style="fill: none; stroke: #000000; stroke-width: 0.5"/>
      </g>
     </g>
     <g id="text_173">
      <text style="font-size: 8px; font-family: 'DejaVu Sans', sans-serif; text-anchor: middle" x="657.504" y="1063.79875" transform="rotate(-0 657.504 1063.79875)">06/18 06:59:54</text>
     </g>
    </g>
    <g id="xtick_78">
     <g id="line2d_379">
      <g>
       <path d="M 732.6720 1053.1200 L 732.6720 1049.1200" shape-rendering="crispEdges" style="fill: none; stroke: #000000; stroke-width: 0.5"/>
      </g>
     </g>
     <g id="line2d_380">
      <g>
       <path d="M 732.6720 946.5600 L 732.6720 950.5600" shape-rendering="crispEdges" style="fill: none; stroke: #000000; stroke-width: 0.5"/>
      </g>
     </g>
     <g id="text_174">
      <text style="font-size: 8px; font-family: 'DejaVu Sans', sans-serif; text-anchor: middle" x="732.672" y="1063.79875" transform="rotate(-0 732.672 1063.79875)">06/18 06:59:55</text>
     </g>
    </g>
    <g id="xtick_79">
     <g id="line2d_381">
      <g>
       <path d="M 807.8784 1053.1200 L 807.8784 1049.1200" shape-rendering="crispEdges" style="fill: none; stroke: #000000; stroke-width: 0.5"/>
      </g>
     </g>
     <g id="line2d_382">
      <g>
       <path d="M 807.8784 946.5600 L 807.8784 950.5600" shape-rendering="crispEdges" style="fill: none; stroke: #000000; stroke-width: 0.5"/>
      </g>
     </g>
     <g id="text_175">
      <text style="font-size: 8px; font-family: 'DejaVu Sans', sans-serif; text-anchor: middle" x="807.84" y="1063.79875" transform="rotate(-0 807.84 1063.79875)">06/18 06:59:56</text>
     </g>
    </g>
   </g>
   <g id="matplotlib.axis_18">
    <g id="ytick_63">
     <g id="line2d_383">
      <g>
       <path d="M 56.1600 1053.1584 L 60.1600 1053.1584" shape-rendering="crispEdges" style="fill: none; stroke: #000000; stroke-width: 0.5"/>
      </g>
     </g>
     <g id="line2d_384">
      <g>
       <path d="M 807.8400 1053.1584 L 803.8400 1053.1584" shape-rendering="crispEdges" style="fill: none; stroke: #000000; stroke-width: 0.5"/>
      </g>
     </g>
     <g id="text_176">
      <text style="font-size: 8px; font-family: 'DejaVu Sans', sans-serif; text-anchor: end" x="52.16" y="1055.3275" transform="rotate(-0 52.16 1055.3275)">−100</text>
     </g>
    </g>
    <g id="ytick_64">
     <g id="line2d_385">
      <g>
       <path d="M 56.1600 1041.3199 L 60.1600 1041.3199" shape-rendering="crispEdges" style="fill: none; stroke: #000000; stroke-width: 0.5"/>
      </g>
     </g>
     <g id="line2d_386">
      <g>
       <path d="M 807.8400 1041.3199 L 803.8400 1041.3199" shape-rendering="crispEdges" style="fill: none; stroke: #000000; stroke-width: 0.5"/>
      </g>
     </g>
     <g id="text_177">
      <text style="font-size: 8px; font-family: 'DejaVu Sans', sans-serif; text-anchor: end" x="52.16" y="1043.527365" transform="rotate(-0 52.16 1043.527365)">−50</text>
     </g>
    </g>
    <g id="ytick_65">
     <g id="line2d_387">
      <g>
       <path d="M 56.1600 1029.5197 L 60.1600 1029.5197" shape-rendering="crispEdges" style="fill: none; stroke: #000000; stroke-width: 0.5"/>
      </g>
     </g>
     <g id="line2d_388">
      <g>
       <path d="M 807.8400 1029.5197 L 803.8400 1029.5197" shape-rendering="crispEdges" style="fill: none; stroke: #000000; stroke-width: 0.5"/>
      </g>
     </g>
     <g id="text_178">
      <text style="font-size: 8px; font-family: 'DejaVu Sans', sans-serif; text-anchor: end" x="52.16" y="1031.727231" transform="rotate(-0 52.16 1031.727231)">0</text>
     </g>
    </g>
    <g id="ytick_66">
     <g id="line2d_389">
      <g>
       <path d="M 56.1600 1017.7196 L 60.1600 1017.7196" shape-rendering="crispEdges" style="fill: none; stroke: #000000; stroke-width: 0.5"/>
      </g>
     </g>
     <g id="line2d_390">
      <g>
       <path d="M 807.8400 1017.7196 L 803.8400 1017.7196" shape-rendering="crispEdges" style="fill: none; stroke: #000000; stroke-width: 0.5"/>
      </g>
     </g>
     <g id="text_179">
      <text style="font-size: 8px; font-family: 'DejaVu Sans', sans-serif; text-anchor: end" x="52.16" y="1019.927096" transform="rotate(-0 52.16 1019.927096)">50</text>
     </g>
    </g>
    <g id="ytick_67">
     <g id="line2d_391">
      <g>
       <path d="M 56.1600 1005.9195 L 60.1600 1005.9195" shape-rendering="crispEdges" style="fill: none; stroke: #000000; stroke-width: 0.5"/>
      </g>
     </g>
     <g id="line2d_392">
      <g>
       <path d="M 807.8400 1005.9195 L 803.8400 1005.9195" shape-rendering="crispEdges" style="fill: none; stroke: #000000; stroke-width: 0.5"/>
      </g>
     </g>
     <g id="text_180">
      <text style="font-size: 8px; font-family: 'DejaVu Sans', sans-serif; text-anchor: end" x="52.16" y="1008.126961" transform="rotate(-0 52.16 1008.126961)">100</text>
     </g>
    </g>
    <g id="ytick_68">
     <g id="line2d_393">
      <g>
       <path d="M 56.1600 994.1193 L 60.1600 994.1193" shape-rendering="crispEdges" style="fill: none; stroke: #000000; stroke-width: 0.5"/>
      </g>
     </g>
     <g id="line2d_394">
      <g>
       <path d="M 807.8400 994.1193 L 803.8400 994.1193" shape-rendering="crispEdges" style="fill: none; stroke: #000000; stroke-width: 0.5"/>
      </g>
     </g>
     <g id="text_181">
      <text style="font-size: 8px; font-family: 'DejaVu Sans', sans-serif; text-anchor: end" x="52.16" y="996.326827" transform="rotate(-0 52.16 996.326827)">150</text>
     </g>
    </g>
    <g id="ytick_69">
     <g id="line2d_395">
      <g>
       <path d="M 56.1600 982.3192 L 60.1600 982.3192" shape-rendering="crispEdges" style="fill: none; stroke: #000000; stroke-width: 0.5"/>
      </g>
     </g>
     <g id="line2d_396">
      <g>
       <path d="M 807.8400 982.3192 L 803.8400 982.3192" shape-rendering="crispEdges" style="fill: none; stroke: #000000; stroke-width: 0.5"/>
      </g>
     </g>
     <g id="text_182">
      <text style="font-size: 8px; font-family: 'DejaVu Sans', sans-serif; text-anchor: end" x="52.16" y="984.526692" transform="rotate(-0 52.16 984.526692)">200</text>
     </g>
    </g>
    <g id="ytick_70">
     <g id="line2d_397">
      <g>
       <path d="M 56.1600 970.5191 L 60.1600 970.5191" shape-rendering="crispEdges" style="fill: none; stroke: #000000; stroke-width: 0.5"/>
      </g>
     </g>
     <g id="line2d_398">
      <g>
       <path d="M 807.8400 970.5191 L 803.8400 970.5191" shape-rendering="crispEdges" style="fill: none; stroke: #000000; stroke-width: 0.5"/>
      </g>
     </g>
     <g id="text_183">
      <text style="font-size: 8px; font-family: 'DejaVu Sans', sans-serif; text-anchor: end" x="52.16" y="972.726557" transform="rotate(-0 52.16 972.726557)">250</text>
     </g>
    </g>
    <g id="ytick_71">
     <g id="line2d_399">
      <g>
       <path d="M 56.1600 958.7189 L 60.1600 958.7189" shape-rendering="crispEdges" style="fill: none; stroke: #000000; stroke-width: 0.5"/>
      </g>
     </g>
     <g id="line2d_400">
      <g>
       <path d="M 807.8400 958.7189 L 803.8400 958.7189" shape-rendering="crispEdges" style="fill: none; stroke: #000000; stroke-width: 0.5"/>
      </g>
     </g>
     <g id="text_184">
      <text style="font-size: 8px; font-family: 'DejaVu Sans', sans-serif; text-anchor: end" x="52.16" y="960.926423" transform="rotate(-0 52.16 960.926423)">300</text>
     </g>
    </g>
    <g id="ytick_72">
     <g id="line2d_401">
      <g>
       <path d="M 56.1600 946.9188 L 60.1600 946.9188" shape-rendering="crispEdges" style="fill: none; stroke: #000000; stroke-width: 0.5"/>
      </g>
     </g>
     <g id="line2d_402">
      <g>
       <path d="M 807.8400 946.9188 L 803.8400 946.9188" shape-rendering="crispEdges" style="fill: none; stroke: #000000; stroke-width: 0.5"/>
      </g>
     </g>
     <g id="text_185">
      <text style="font-size: 8px; font-family: 'DejaVu Sans', sans-serif; text-anchor: end" x="52.16" y="949.126288" transform="rotate(-0 52.16 949.126288)">350</text>
     </g>
    </g>
    <g id="text_186">
     <text style="font-size: 8px; font-family: 'DejaVu Sans', sans-serif; text-anchor: middle" x="22.6225" y="999.84" transform="rotate(-90 22.6225 999.84)">Vsw(km/s)</text>
    </g>
   </g>
   <g id="title_TS3" transform="matrix(0.99759 0 0 1 1.2556 0)">
    <text style="font-size: 11.23px; font-family: 'DejaVu Sans', sans-serif; text-anchor: middle" x="432" y="941.56" transform="rotate(-0 432 941.56)">Solar Wind Velocity (RTN Frame)</text>
   </g>
   <g id="legend_4">
    <g id="patch_53">
     <path d="M 769.915313 984.104062 
L 804.34 984.104062 
L 804.34 950.06 
L 769.915313 950.06 
z
" shape-rendering="crispEdges" style="fill: #ffffff; stroke: #000000; stroke-width: 0.96; stroke-linejoin: miter"/>
    </g>
    <g id="line2d_403">
     <path d="M 774.815313 955.728906 
L 784.615312 955.728906 
" style="fill: none; stroke: #ff0000; stroke-linecap: square"/>
    </g>
    <g id="text_187">
     <text style="font-size: 7px; font-family: 'DejaVu Sans', sans-serif; text-anchor: start" x="792.315313" y="958.178906" transform="rotate(-0 792.315313 958.178906)">Vr</text>
    </g>
    <g id="line2d_404">
     <path d="M 774.815313 966.563594 
L 784.615312 966.563594 
" style="fill: none; stroke: #008000; stroke-linecap: square"/>
    </g>
    <g id="text_188">
     <text style="font-size: 7px; font-family: 'DejaVu Sans', sans-serif; text-anchor: start" x="792.315313" y="969.013594" transform="rotate(-0 792.315313 969.013594)">Vt</text>
    </g>
    <g id="line2d_405">
     <path d="M 774.815313 977.398281 
L 784.615312 977.398281 
" style="fill: none; stroke: #0000ff; stroke-linecap: square"/>
    </g>
    <g id="text_189">
     <text style="font-size: 7px; font-family: 'DejaVu Sans', sans-serif; text-anchor: start" x="792.315313" y="979.848281" transform="rotate(-0 792.315313 979.848281)">Vn</text>
    </g>
   </g>
  </g>
  <g id="axes_10">
   <g id="patch_54">
    <path d="M 56.16 1213.44 
L 807.84 1213.44 
L 807.84 1106.88 
L 56.16 1106.88 
z
" style="fill: #ffffff"/>
   </g>
   <g id="line2d_406">
    <path d="M 56.16 1201.722466 
L 131.328 1150.533482 
L 206.496 1140.957673 
L 281.664 1144.497713 
L 356.832 1154.073522 
L 432 1145.860629 
L 507.168 1140.816071 
L 582.336 1109.292011 
L 657.504 1153.117712 
L 732.672 1145.842928 
L 807.84 1146.993442 
" clip-path="url(#p840b9fd985)" style="fill: none; stroke: #0000ff; stroke-linecap: square"/>
   </g>
   <g id="patch_55">
    <path d="M 56.16 1213.44 
L 56.16 1106.88 
" shape-rendering="crispEdges" style="fill: none; stroke: #000000; stroke-width: 0.96; stroke-linejoin: miter; stroke-linecap: square"/>
   </g>
   <g id="patch_56">
    <path d="M 807.84 1213.44 
L 807.84 1106.88 
" shape-rendering="crispEdges" style="fill: none; stroke: #000000; stroke-width: 0.96; stroke-linejoin: miter; stroke-linecap: square"/>
   </g>
   <g id="patch_57">
    <path d="M 56.16 1213.44 
L 807.84 1213.44 
" shape-rendering="crispEdges" style="fill: none; stroke: #000000; stroke-width: 0.96; stroke-linejoin: miter; stroke-linecap: square"/>
   </g>
   <g id="patch_58">
    <path d="M 56.16 1106.88 
L 807.84 1106.88 
" shape-rendering="crispEdges" style="fill: none; stroke: #000000; stroke-width: 0.96; stroke-linejoin: miter; stroke-linecap: square"/>
   </g>
   <g id="matplotlib.axis_19">
    <g id="xtick_80">
     <g id="line2d_407">
      <g>
       <path d="M 56.1984 1213.4400 L 56.1984 1209.4400" shape-rendering="crispEdges" style="fill: none; stroke: #000000; stroke-width: 0.5"/>
      </g>
     </g>
     <g id="line2d_408">
      <g>
       <path d="M 56.1984 1106.8800 L 56.1984 1110.8800" shape-rendering="crispEdges" style="fill: none; stroke: #000000; stroke-width: 0.5"/>
      </g>
     </g>
     <g id="text_190">
      <text style="font-size: 8px; font-family: 'DejaVu Sans', sans-serif; text-anchor: middle" x="56.16" y="1224.11875" transform="rotate(-0 56.16 1224.11875)">06/18 06:59:46</text>
     </g>
    </g>
    <g id="xtick_81">
     <g id="line2d_409">
      <g>
       <path d="M 131.3280 1213.4400 L 131.3280 1209.4400" shape-rendering="crispEdges" style="fill: none; stroke: #000000; stroke-width: 0.5"/>
      </g>
     </g>
     <g id="line2d_410">
      <g>
       <path d="M 131.3280 1106.8800 L 131.3280 1110.8800" shape-rendering="crispEdges" style="fill: none; stroke: #000000; stroke-width: 0.5"/>
      </g>
     </g>
     <g id="text_191">
      <text style="font-size: 8px; font-family: 'DejaVu Sans', sans-serif; text-anchor: middle" x="131.328" y="1224.11875" transform="rotate(-0 131.328 1224.11875)">06/18 06:59:47</text>
     </g>
    </g>
    <g id="xtick_82">
     <g id="line2d_411">
      <g>
       <path d="M 206.4960 1213.4400 L 206.4960 1209.4400" shape-rendering="crispEdges" style="fill: none; stroke: #000000; stroke-width: 0.5"/>
      </g>
     </g>
     <g id="line2d_412">
      <g>
       <path d="M 206.4960 1106.8800 L 206.4960 1110.8800" shape-rendering="crispEdges" style="fill: none; stroke: #000000; stroke-width: 0.5"/>
      </g>
     </g>
     <g id="text_192">
      <text style="font-size: 8px; font-family: 'DejaVu Sans', sans-serif; text-anchor: middle" x="206.496" y="1224.11875" transform="rotate(-0 206.496 1224.11875)">06/18 06:59:48</text>
     </g>
    </g>
    <g id="xtick_83">
     <g id="line2d_413">
      <g>
       <path d="M 281.6640 1213.4400 L 281.6640 1209.4400" shape-rendering="crispEdges" style="fill: none; stroke: #000000; stroke-width: 0.5"/>
      </g>
     </g>
     <g id="line2d_414">
      <g>
       <path d="M 281.6640 1106.8800 L 281.6640 1110.8800" shape-rendering="crispEdges" style="fill: none; stroke: #000000; stroke-width: 0.5"/>
      </g>
     </g>
     <g id="text_193">
      <text style="font-size: 8px; font-family: 'DejaVu Sans', sans-serif; text-anchor: middle" x="281.664" y="1224.11875" transform="rotate(-0 281.664 1224.11875)">06/18 06:59:49</text>
     </g>
    </g>
    <g id="xtick_84">
     <g id="line2d_415">
      <g>
       <path d="M 356.8320 1213.4400 L 356.8320 1209.4400" shape-rendering="crispEdges" style="fill: none; stroke: #000000; stroke-width: 0.5"/>
      </g>
     </g>
     <g id="line2d_416">
      <g>
       <path d="M 356.8320 1106.8800 L 356.8320 1110.8800" shape-rendering="crispEdges" style="fill: none; stroke: #000000; stroke-width: 0.5"/>
      </g>
     </g>
     <g id="text_194">
      <text style="font-size: 8px; font-family: 'DejaVu Sans', sans-serif; text-anchor: middle" x="356.832" y="1224.11875" transform="rotate(-0 356.832 1224.11875)">06/18 06:59:50</text>
     </g>
    </g>
    <g id="xtick_85">
     <g id="line2d_417">
      <g>
       <path d="M 432.0384 1213.4400 L 432.0384 1209.4400" shape-rendering="crispEdges" style="fill: none; stroke: #000000; stroke-width: 0.5"/>
      </g>
     </g>
     <g id="line2d_418">
      <g>
       <path d="M 432.0384 1106.8800 L 432.0384 1110.8800" shape-rendering="crispEdges" style="fill: none; stroke: #000000; stroke-width: 0.5"/>
      </g>
     </g>
     <g id="text_195">
      <text style="font-size: 8px; font-family: 'DejaVu Sans', sans-serif; text-anchor: middle" x="432" y="1224.11875" transform="rotate(-0 432 1224.11875)">06/18 06:59:51</text>
     </g>
    </g>
    <g id="xtick_86">
     <g id="line2d_419">
      <g>
       <path d="M 507.1680 1213.4400 L 507.1680 1209.4400" shape-rendering="crispEdges" style="fill: none; stroke: #000000; stroke-width: 0.5"/>
      </g>
     </g>
     <g id="line2d_420">
      <g>
       <path d="M 507.1680 1106.8800 L 507.1680 1110.8800" shape-rendering="crispEdges" style="fill: none; stroke: #000000; stroke-width: 0.5"/>
      </g>
     </g>
     <g id="text_196">
      <text style="font-size: 8px; font-family: 'DejaVu Sans', sans-serif; text-anchor: middle" x="507.168" y="1224.11875" transform="rotate(-0 507.168 1224.11875)">06/18 06:59:52</text>
     </g>
    </g>
    <g id="xtick_87">
     <g id="line2d_421">
      <g>
       <path d="M 582.3360 1213.4400 L 582.3360 1209.4400" shape-rendering="crispEdges" style="fill: none; stroke: #000000; stroke-width: 0.5"/>
      </g>
     </g>
     <g id="line2d_422">
      <g>
       <path d="M 582.3360 1106.8800 L 582.3360 1110.8800" shape-rendering="crispEdges" style="fill: none; stroke: #000000; stroke-width: 0.5"/>
      </g>
     </g>
     <g id="text_197">
      <text style="font-size: 8px; font-family: 'DejaVu Sans', sans-serif; text-anchor: middle" x="582.336" y="1224.11875" transform="rotate(-0 582.336 1224.11875)">06/18 06:59:53</text>
     </g>
    </g>
    <g id="xtick_88">
     <g id="line2d_423">
      <g>
       <path d="M 657.5040 1213.4400 L 657.5040 1209.4400" shape-rendering="crispEdges" style="fill: none; stroke: #000000; stroke-width: 0.5"/>
      </g>
     </g>
     <g id="line2d_424">
      <g>
       <path d="M 657.5040 1106.8800 L 657.5040 1110.8800" shape-rendering="crispEdges" style="fill: none; stroke: #000000; stroke-width: 0.5"/>
      </g>
     </g>
     <g id="text_198">
      <text style="font-size: 8px; font-family: 'DejaVu Sans', sans-serif; text-anchor: middle" x="657.504" y="1224.11875" transform="rotate(-0 657.504 1224.11875)">06/18 06:59:54</text>
     </g>
    </g>
    <g id="xtick_89">
     <g id="line2d_425">
      <g>
       <path d="M 732.6720 1213.4400 L 732.6720 1209.4400" shape-rendering="crispEdges" style="fill: none; stroke: #000000; stroke-width: 0.5"/>
      </g>
     </g>
     <g id="line2d_426">
      <g>
       <path d="M 732.6720 1106.8800 L 732.6720 1110.8800" shape-rendering="crispEdges" style="fill: none; stroke: #000000; stroke-width: 0.5"/>
      </g>
     </g>
     <g id="text_199">
      <text style="font-size: 8px; font-family: 'DejaVu Sans', sans-serif; text-anchor: middle" x="732.672" y="1224.11875" transform="rotate(-0 732.672 1224.11875)">06/18 06:59:55</text>
     </g>
    </g>
    <g id="xtick_90">
     <g id="line2d_427">
      <g>
       <path d="M 807.8784 1213.4400 L 807.8784 1209.4400" shape-rendering="crispEdges" style="fill: none; stroke: #000000; stroke-width: 0.5"/>
      </g>
     </g>
     <g id="line2d_428">
      <g>
       <path d="M 807.8784 1106.8800 L 807.8784 1110.8800" shape-rendering="crispEdges" style="fill: none; stroke: #000000; stroke-width: 0.5"/>
      </g>
     </g>
     <g id="text_200">
      <text style="font-size: 8px; font-family: 'DejaVu Sans', sans-serif; text-anchor: middle" x="807.84" y="1224.11875" transform="rotate(-0 807.84 1224.11875)">06/18 06:59:56</text>
     </g>
    </g>
   </g>
   <g id="matplotlib.axis_20">
    <g id="ytick_73">
     <g id="line2d_429">
      <g>
       <path d="M 56.1600 1213.4784 L 60.1600 1213.4784" shape-rendering="crispEdges" style="fill: none; stroke: #000000; stroke-width: 0.5"/>
      </g>
     </g>
     <g id="line2d_430">
      <g>
       <path d="M 807.8400 1213.4784 L 803.8400 1213.4784" shape-rendering="crispEdges" style="fill: none; stroke: #000000; stroke-width: 0.5"/>
      </g>
     </g>
     <g id="text_201">
      <text style="font-size: 8px; font-family: 'DejaVu Sans', sans-serif; text-anchor: end" x="52.16" y="1215.6475" transform="rotate(-0 52.16 1215.6475)">0.03</text>
     </g>
    </g>
    <g id="ytick_74">
     <g id="line2d_431">
      <g>
       <path d="M 56.1600 1195.7398 L 60.1600 1195.7398" shape-rendering="crispEdges" style="fill: none; stroke: #000000; stroke-width: 0.5"/>
      </g>
     </g>
     <g id="line2d_432">
      <g>
       <path d="M 807.8400 1195.7398 L 803.8400 1195.7398" shape-rendering="crispEdges" style="fill: none; stroke: #000000; stroke-width: 0.5"/>
      </g>
     </g>
     <g id="text_202">
      <text style="font-size: 8px; font-family: 'DejaVu Sans', sans-serif; text-anchor: end" x="52.16" y="1197.947298" transform="rotate(-0 52.16 1197.947298)">0.04</text>
     </g>
    </g>
    <g id="ytick_75">
     <g id="line2d_433">
      <g>
       <path d="M 56.1600 1178.0396 L 60.1600 1178.0396" shape-rendering="crispEdges" style="fill: none; stroke: #000000; stroke-width: 0.5"/>
      </g>
     </g>
     <g id="line2d_434">
      <g>
       <path d="M 807.8400 1178.0396 L 803.8400 1178.0396" shape-rendering="crispEdges" style="fill: none; stroke: #000000; stroke-width: 0.5"/>
      </g>
     </g>
     <g id="text_203">
      <text style="font-size: 8px; font-family: 'DejaVu Sans', sans-serif; text-anchor: end" x="52.16" y="1180.247096" transform="rotate(-0 52.16 1180.247096)">0.05</text>
     </g>
    </g>
    <g id="ytick_76">
     <g id="line2d_435">
      <g>
       <path d="M 56.1600 1160.3394 L 60.1600 1160.3394" shape-rendering="crispEdges" style="fill: none; stroke: #000000; stroke-width: 0.5"/>
      </g>
     </g>
     <g id="line2d_436">
      <g>
       <path d="M 807.8400 1160.3394 L 803.8400 1160.3394" shape-rendering="crispEdges" style="fill: none; stroke: #000000; stroke-width: 0.5"/>
      </g>
     </g>
     <g id="text_204">
      <text style="font-size: 8px; font-family: 'DejaVu Sans', sans-serif; text-anchor: end" x="52.16" y="1162.546894" transform="rotate(-0 52.16 1162.546894)">0.06</text>
     </g>
    </g>
    <g id="ytick_77">
     <g id="line2d_437">
      <g>
       <path d="M 56.1600 1142.6392 L 60.1600 1142.6392" shape-rendering="crispEdges" style="fill: none; stroke: #000000; stroke-width: 0.5"/>
      </g>
     </g>
     <g id="line2d_438">
      <g>
       <path d="M 807.8400 1142.6392 L 803.8400 1142.6392" shape-rendering="crispEdges" style="fill: none; stroke: #000000; stroke-width: 0.5"/>
      </g>
     </g>
     <g id="text_205">
      <text style="font-size: 8px; font-family: 'DejaVu Sans', sans-serif; text-anchor: end" x="52.16" y="1144.846692" transform="rotate(-0 52.16 1144.846692)">0.07</text>
     </g>
    </g>
    <g id="ytick_78">
     <g id="line2d_439">
      <g>
       <path d="M 56.1600 1124.9390 L 60.1600 1124.9390" shape-rendering="crispEdges" style="fill: none; stroke: #000000; stroke-width: 0.5"/>
      </g>
     </g>
     <g id="line2d_440">
      <g>
       <path d="M 807.8400 1124.9390 L 803.8400 1124.9390" shape-rendering="crispEdges" style="fill: none; stroke: #000000; stroke-width: 0.5"/>
      </g>
     </g>
     <g id="text_206">
      <text style="font-size: 8px; font-family: 'DejaVu Sans', sans-serif; text-anchor: end" x="52.16" y="1127.14649" transform="rotate(-0 52.16 1127.14649)">0.08</text>
     </g>
    </g>
    <g id="ytick_79">
     <g id="line2d_441">
      <g>
       <path d="M 56.1600 1107.2388 L 60.1600 1107.2388" shape-rendering="crispEdges" style="fill: none; stroke: #000000; stroke-width: 0.5"/>
      </g>
     </g>
     <g id="line2d_442">
      <g>
       <path d="M 807.8400 1107.2388 L 803.8400 1107.2388" shape-rendering="crispEdges" style="fill: none; stroke: #000000; stroke-width: 0.5"/>
      </g>
     </g>
     <g id="text_207">
      <text style="font-size: 8px; font-family: 'DejaVu Sans', sans-serif; text-anchor: end" x="52.16" y="1109.446288" transform="rotate(-0 52.16 1109.446288)">0.09</text>
     </g>
    </g>
    <g id="text_208">
     <g transform="translate(25.9675 1164.12) rotate(-90)">
      <text>
       <tspan x="0" y="-0.359375" style="font-size: 8px; font-family: 'Liberation Serif', serif; font-style: italic" class="cmmi10">β</tspan>
       <tspan x="4.519531" y="1.001125" style="font-size: 5.6px; font-family: 'Liberation Serif', serif; font-style: italic" class="cmmi10">p</tspan>
      </text>
     </g>
    </g>
   </g>
   <g id="title_TS4" transform="matrix(0.99007 0 0 1 4.1957 0)">
    <text style="font-size: 11.23px; font-family: 'DejaVu Sans', sans-serif; text-anchor: middle" x="432" y="1101.88" transform="rotate(-0 432 1101.88)">Plasma Beta</text>
   </g>
  </g>
  <g id="axes_11">
   <g id="patch_59">
    <path d="M 56.16 1373.28 
L 807.84 1373.28 
L 807.84 1266.72 
L 56.16 1266.72 
z
" style="fill: #ffffff"/>
   </g>
   <g id="line2d_443">
    <path d="M 56.16 1359.941128 
L 131.328 1289.083679 
L 206.496 1272.473809 
L 281.664 1277.953792 
L 356.832 1302.465032 
L 432 1280.37518 
L 507.168 1281.394711 
L 582.336 1282.499204 
L 657.504 1277.486507 
L 732.672 1271.029473 
L 807.84 1271.6242 
" clip-path="url(#p49ae588526)" style="fill: none; stroke: #0000ff; stroke-linecap: square"/>
   </g>
   <g id="patch_60">
    <path d="M 56.16 1373.28 
L 56.16 1266.72 
" shape-rendering="crispEdges" style="fill: none; stroke: #000000; stroke-width: 0.96; stroke-linejoin: miter; stroke-linecap: square"/>
   </g>
   <g id="patch_61">
    <path d="M 807.84 1373.28 
L 807.84 1266.72 
" shape-rendering="crispEdges" style="fill: none; stroke: #000000; stroke-width: 0.96; stroke-linejoin: miter; stroke-linecap: square"/>
   </g>
   <g id="patch_62">
    <path d="M 56.16 1373.28 
L 807.84 1373.28 
" shape-rendering="crispEdges" style="fill: none; stroke: #000000; stroke-width: 0.96; stroke-linejoin: miter; stroke-linecap: square"/>
   </g>
   <g id="patch_63">
    <path d="M 56.16 1266.72 
L 807.84 1266.72 
" shape-rendering="crispEdges" style="fill: none; stroke: #000000; stroke-width: 0.96; stroke-linejoin: miter; stroke-linecap: square"/>
   </g>
   <g id="matplotlib.axis_21">
    <g id="xtick_91">
     <g id="line2d_444">
      <g>
       <path d="M 56.1984 1373.2800 L 56.1984 1369.2800" shape-rendering="crispEdges" style="fill: none; stroke: #000000; stroke-width: 0.5"/>
      </g>
     </g>
     <g id="line2d_445">
      <g>
       <path d="M 56.1984 1266.7200 L 56.1984 1270.7200" shape-rendering="crispEdges" style="fill: none; stroke: #000000; stroke-width: 0.5"/>
      </g>
     </g>
     <g id="text_209">
      <text style="font-size: 8px; font-family: 'DejaVu Sans', sans-serif; text-anchor: middle" x="56.16" y="1383.95875" transform="rotate(-0 56.16 1383.95875)">06/18 06:59:46</text>
     </g>
    </g>
    <g id="xtick_92">
     <g id="line2d_446">
      <g>
       <path d="M 131.3280 1373.2800 L 131.3280 1369.2800" shape-rendering="crispEdges" style="fill: none; stroke: #000000; stroke-width: 0.5"/>
      </g>
     </g>
     <g id="line2d_447">
      <g>
       <path d="M 131.3280 1266.7200 L 131.3280 1270.7200" shape-rendering="crispEdges" style="fill: none; stroke: #000000; stroke-width: 0.5"/>
      </g>
     </g>
     <g id="text_210">
      <text style="font-size: 8px; font-family: 'DejaVu Sans', sans-serif; text-anchor: middle" x="131.328" y="1383.95875" transform="rotate(-0 131.328 1383.95875)">06/18 06:59:47</text>
     </g>
    </g>
    <g id="xtick_93">
     <g id="line2d_448">
      <g>
       <path d="M 206.4960 1373.2800 L 206.4960 1369.2800" shape-rendering="crispEdges" style="fill: none; stroke: #000000; stroke-width: 0.5"/>
      </g>
     </g>
     <g id="line2d_449">
      <g>
       <path d="M 206.4960 1266.7200 L 206.4960 1270.7200" shape-rendering="crispEdges" style="fill: none; stroke: #000000; stroke-width: 0.5"/>
      </g>
     </g>
     <g id="text_211">
      <text style="font-size: 8px; font-family: 'DejaVu Sans', sans-serif; text-anchor: middle" x="206.496" y="1383.95875" transform="rotate(-0 206.496 1383.95875)">06/18 06:59:48</text>
     </g>
    </g>
    <g id="xtick_94">
     <g id="line2d_450">
      <g>
       <path d="M 281.6640 1373.2800 L 281.6640 1369.2800" shape-rendering="crispEdges" style="fill: none; stroke: #000000; stroke-width: 0.5"/>
      </g>
     </g>
     <g id="line2d_451">
      <g>
       <path d="M 281.6640 1266.7200 L 281.6640 1270.7200" shape-rendering="crispEdges" style="fill: none; stroke: #000000; stroke-width: 0.5"/>
      </g>
     </g>
     <g id="text_212">
      <text style="font-size: 8px; font-family: 'DejaVu Sans', sans-serif; text-anchor: middle" x="281.664" y="1383.95875" transform="rotate(-0 281.664 1383.95875)">06/18 06:59:49</text>
     </g>
    </g>
    <g id="xtick_95">
     <g id="line2d_452">
      <g>
       <path d="M 356.8320 1373.2800 L 356.8320 1369.2800" shape-rendering="crispEdges" style="fill: none; stroke: #000000; stroke-width: 0.5"/>
      </g>
     </g>
     <g id="line2d_453">
      <g>
       <path d="M 356.8320 1266.7200 L 356.8320 1270.7200" shape-rendering="crispEdges" style="fill: none; stroke: #000000; stroke-width: 0.5"/>
      </g>
     </g>
     <g id="text_213">
      <text style="font-size: 8px; font-family: 'DejaVu Sans', sans-serif; text-anchor: middle" x="356.832" y="1383.95875" transform="rotate(-0 356.832 1383.95875)">06/18 06:59:50</text>
     </g>
    </g>
    <g id="xtick_96">
     <g id="line2d_454">
      <g>
       <path d="M 432.0384 1373.2800 L 432.0384 1369.2800" shape-rendering="crispEdges" style="fill: none; stroke: #000000; stroke-width: 0.5"/>
      </g>
     </g>
     <g id="line2d_455">
      <g>
       <path d="M 432.0384 1266.7200 L 432.0384 1270.7200" shape-rendering="crispEdges" style="fill: none; stroke: #000000; stroke-width: 0.5"/>
      </g>
     </g>
     <g id="text_214">
      <text style="font-size: 8px; font-family: 'DejaVu Sans', sans-serif; text-anchor: middle" x="432" y="1383.95875" transform="rotate(-0 432 1383.95875)">06/18 06:59:51</text>
     </g>
    </g>
    <g id="xtick_97">
     <g id="line2d_456">
      <g>
       <path d="M 507.1680 1373.2800 L 507.1680 1369.2800" shape-rendering="crispEdges" style="fill: none; stroke: #000000; stroke-width: 0.5"/>
      </g>
     </g>
     <g id="line2d_457">
      <g>
       <path d="M 507.1680 1266.7200 L 507.1680 1270.7200" shape-rendering="crispEdges" style="fill: none; stroke: #000000; stroke-width: 0.5"/>
      </g>
     </g>
     <g id="text_215">
      <text style="font-size: 8px; font-family: 'DejaVu Sans', sans-serif; text-anchor: middle" x="507.168" y="1383.95875" transform="rotate(-0 507.168 1383.95875)">06/18 06:59:52</text>
     </g>
    </g>
    <g id="xtick_98">
     <g id="line2d_458">
      <g>
       <path d="M 582.3360 1373.2800 L 582.3360 1369.2800" shape-rendering="crispEdges" style="fill: none; stroke: #000000; stroke-width: 0.5"/>
      </g>
     </g>
     <g id="line2d_459">
      <g>
       <path d="M 582.3360 1266.7200 L 582.3360 1270.7200" shape-rendering="crispEdges" style="fill: none; stroke: #000000; stroke-width: 0.5"/>
      </g>
     </g>
     <g id="text_216">
      <text style="font-size: 8px; font-family: 'DejaVu Sans', sans-serif; text-anchor: middle" x="582.336" y="1383.95875" transform="rotate(-0 582.336 1383.95875)">06/18 06:59:53</text>
     </g>
    </g>
    <g id="xtick_99">
     <g id="line2d_460">
      <g>
       <path d="M 657.5040 1373.2800 L 657.5040 1369.2800" shape-rendering="crispEdges" style="fill: none; stroke: #000000; stroke-width: 0.5"/>
      </g>
     </g>
     <g id="line2d_461">
      <g>
       <path d="M 657.5040 1266.7200 L 657.5040 1270.7200" shape-rendering="crispEdges" style="fill: none; stroke: #000000; stroke-width: 0.5"/>
      </g>
     </g>
     <g id="text_217">
      <text style="font-size: 8px; font-family: 'DejaVu Sans', sans-serif; text-anchor: middle" x="657.504" y="1383.95875" transform="rotate(-0 657.504 1383.95875)">06/18 06:59:54</text>
     </g>
    </g>
    <g id="xtick_100">
     <g id="line2d_462">
      <g>
       <path d="M 732.6720 1373.2800 L 732.6720 1369.2800" shape-rendering="crispEdges" style="fill: none; stroke: #000000; stroke-width: 0.5"/>
      </g>
     </g>
     <g id="line2d_463">
      <g>
       <path d="M 732.6720 1266.7200 L 732.6720 1270.7200" shape-rendering="crispEdges" style="fill: none; stroke: #000000; stroke-width: 0.5"/>
      </g>
     </g>
     <g id="text_218">
      <text style="font-size: 8px; font-family: 'DejaVu Sans', sans-serif; text-anchor: middle" x="732.672" y="1383.95875" transform="rotate(-0 732.672 1383.95875)">06/18 06:59:55</text>
     </g>
    </g>
    <g id="xtick_101">
     <g id="line2d_464">
      <g>
       <path d="M 807.8784 1373.2800 L 807.8784 1369.2800" shape-rendering="crispEdges" style="fill: none; stroke: #000000; stroke-width: 0.5"/>
      </g>
     </g>
     <g id="line2d_465">
      <g>
       <path d="M 807.8784 1266.7200 L 807.8784 1270.7200" shape-rendering="crispEdges" style="fill: none; stroke: #000000; stroke-width: 0.5"/>
      </g>
     </g>
     <g id="text_219">
      <text style="font-size: 8px; font-family: 'DejaVu Sans', sans-serif; text-anchor: middle" x="807.84" y="1383.95875" transform="rotate(-0 807.84 1383.95875)">06/18 06:59:56</text>
     </g>
    </g>
   </g>
   <g id="matplotlib.axis_22">
    <g id="ytick_80">
     <g id="line2d_466">
      <g>
       <path d="M 56.1600 1373.3184 L 60.1600 1373.3184" shape-rendering="crispEdges" style="fill: none; stroke: #000000; stroke-width: 0.5"/>
      </g>
     </g>
     <g id="line2d_467">
      <g>
       <path d="M 807.8400 1373.3184 L 803.8400 1373.3184" shape-rendering="crispEdges" style="fill: none; stroke: #000000; stroke-width: 0.5"/>
      </g>
     </g>
     <g id="text_220">
      <text style="font-size: 8px; font-family: 'DejaVu Sans', sans-serif; text-anchor: end" x="52.16" y="1375.4875" transform="rotate(-0 52.16 1375.4875)">105</text>
     </g>
    </g>
    <g id="ytick_81">
     <g id="line2d_468">
      <g>
       <path d="M 56.1600 1352.0398 L 60.1600 1352.0398" shape-rendering="crispEdges" style="fill: none; stroke: #000000; stroke-width: 0.5"/>
      </g>
     </g>
     <g id="line2d_469">
      <g>
       <path d="M 807.8400 1352.0398 L 803.8400 1352.0398" shape-rendering="crispEdges" style="fill: none; stroke: #000000; stroke-width: 0.5"/>
      </g>
     </g>
     <g id="text_221">
      <text style="font-size: 8px; font-family: 'DejaVu Sans', sans-serif; text-anchor: end" x="52.16" y="1354.247258" transform="rotate(-0 52.16 1354.247258)">110</text>
     </g>
    </g>
    <g id="ytick_82">
     <g id="line2d_470">
      <g>
       <path d="M 56.1600 1330.7995 L 60.1600 1330.7995" shape-rendering="crispEdges" style="fill: none; stroke: #000000; stroke-width: 0.5"/>
      </g>
     </g>
     <g id="line2d_471">
      <g>
       <path d="M 807.8400 1330.7995 L 803.8400 1330.7995" shape-rendering="crispEdges" style="fill: none; stroke: #000000; stroke-width: 0.5"/>
      </g>
     </g>
     <g id="text_222">
      <text style="font-size: 8px; font-family: 'DejaVu Sans', sans-serif; text-anchor: end" x="52.16" y="1333.007015" transform="rotate(-0 52.16 1333.007015)">115</text>
     </g>
    </g>
    <g id="ytick_83">
     <g id="line2d_472">
      <g>
       <path d="M 56.1600 1309.5593 L 60.1600 1309.5593" shape-rendering="crispEdges" style="fill: none; stroke: #000000; stroke-width: 0.5"/>
      </g>
     </g>
     <g id="line2d_473">
      <g>
       <path d="M 807.8400 1309.5593 L 803.8400 1309.5593" shape-rendering="crispEdges" style="fill: none; stroke: #000000; stroke-width: 0.5"/>
      </g>
     </g>
     <g id="text_223">
      <text style="font-size: 8px; font-family: 'DejaVu Sans', sans-serif; text-anchor: end" x="52.16" y="1311.766773" transform="rotate(-0 52.16 1311.766773)">120</text>
     </g>
    </g>
    <g id="ytick_84">
     <g id="line2d_474">
      <g>
       <path d="M 56.1600 1288.3584 L 60.1600 1288.3584" shape-rendering="crispEdges" style="fill: none; stroke: #000000; stroke-width: 0.5"/>
      </g>
     </g>
     <g id="line2d_475">
      <g>
       <path d="M 807.8400 1288.3584 L 803.8400 1288.3584" shape-rendering="crispEdges" style="fill: none; stroke: #000000; stroke-width: 0.5"/>
      </g>
     </g>
     <g id="text_224">
      <text style="font-size: 8px; font-family: 'DejaVu Sans', sans-serif; text-anchor: end" x="52.16" y="1290.52653" transform="rotate(-0 52.16 1290.52653)">125</text>
     </g>
    </g>
    <g id="ytick_85">
     <g id="line2d_476">
      <g>
       <path d="M 56.1600 1267.0788 L 60.1600 1267.0788" shape-rendering="crispEdges" style="fill: none; stroke: #000000; stroke-width: 0.5"/>
      </g>
     </g>
     <g id="line2d_477">
      <g>
       <path d="M 807.8400 1267.0788 L 803.8400 1267.0788" shape-rendering="crispEdges" style="fill: none; stroke: #000000; stroke-width: 0.5"/>
      </g>
     </g>
     <g id="text_225">
      <text style="font-size: 8px; font-family: 'DejaVu Sans', sans-serif; text-anchor: end" x="52.16" y="1269.286288" transform="rotate(-0 52.16 1269.286288)">130</text>
     </g>
    </g>
    <g id="text_226">
     <text style="font-size: 8px; font-family: 'DejaVu Sans', sans-serif; text-anchor: middle" x="29.32625" y="1320" transform="rotate(-90 29.32625 1320)">Np(#/cc)</text>
    </g>
   </g>
   <g id="title_TS5" transform="matrix(0.98852 0 0 1 4.7495 0)">
    <text style="font-size: 11.23px; font-family: 'DejaVu Sans', sans-serif; text-anchor: middle" x="432" y="1261.72" transform="rotate(-0 432 1261.72)">Proton Number Density</text>
   </g>
  </g>
  <g id="axes_12">
   <g id="patch_64">
    <path d="M 56.16 1533.6 
L 807.84 1533.6 
L 807.84 1427.04 
L 56.16 1427.04 
z
" style="fill: #ffffff"/>
   </g>
   <g id="line2d_478">
    <path d="M 56.16 1524.3696 
L 131.328 1478.22912 
L 206.496 1472.47488 
L 281.664 1474.60608 
L 356.832 1478.22912 
L 432 1475.8848 
L 507.168 1471.19616 
L 582.336 1434.53952 
L 657.504 1484.08992 
L 732.672 1478.22912 
L 807.84 1480.46688 
" clip-path="url(#pf7b9eb8dfb)" style="fill: none; stroke: #0000ff; stroke-linecap: square"/>
   </g>
   <g id="patch_65">
    <path d="M 56.16 1533.6 
L 56.16 1427.04 
" shape-rendering="crispEdges" style="fill: none; stroke: #000000; stroke-width: 0.96; stroke-linejoin: miter; stroke-linecap: square"/>
   </g>
   <g id="patch_66">
    <path d="M 807.84 1533.6 
L 807.84 1427.04 
" shape-rendering="crispEdges" style="fill: none; stroke: #000000; stroke-width: 0.96; stroke-linejoin: miter; stroke-linecap: square"/>
   </g>
   <g id="patch_67">
    <path d="M 56.16 1533.6 
L 807.84 1533.6 
" shape-rendering="crispEdges" style="fill: none; stroke: #000000; stroke-width: 0.96; stroke-linejoin: miter; stroke-linecap: square"/>
   </g>
   <g id="patch_68">
    <path d="M 56.16 1427.04 
L 807.84 1427.04 
" shape-rendering="crispEdges" style="fill: none; stroke: #000000; stroke-width: 0.96; stroke-linejoin: miter; stroke-linecap: square"/>
   </g>
   <g id="matplotlib.axis_23">
    <g id="xtick_102">
     <g id="line2d_479">
      <g>
       <path d="M 56.1984 1533.6000 L 56.1984 1529.6000" shape-rendering="crispEdges" style="fill: none; stroke: #000000; stroke-width: 0.5"/>
      </g>
     </g>
     <g id="line2d_480">
      <g>
       <path d="M 56.1984 1427.0400 L 56.1984 1431.0400" shape-rendering="crispEdges" style="fill: none; stroke: #000000; stroke-width: 0.5"/>
      </g>
     </g>
     <g id="text_227">
      <text style="font-size: 8px; font-family: 'DejaVu Sans', sans-serif; text-anchor: middle" x="56.16" y="1544.27875" transform="rotate(-0 56.16 1544.27875)">06/18 06:59:46</text>
     </g>
    </g>
    <g id="xtick_103">
     <g id="line2d_481">
      <g>
       <path d="M 131.3280 1533.6000 L 131.3280 1529.6000" shape-rendering="crispEdges" style="fill: none; stroke: #000000; stroke-width: 0.5"/>
      </g>
     </g>
     <g id="line2d_482">
      <g>
       <path d="M 131.3280 1427.0400 L 131.3280 1431.0400" shape-rendering="crispEdges" style="fill: none; stroke: #000000; stroke-width: 0.5"/>
      </g>
     </g>
     <g id="text_228">
      <text style="font-size: 8px; font-family: 'DejaVu Sans', sans-serif; text-anchor: middle" x="131.328" y="1544.27875" transform="rotate(-0 131.328 1544.27875)">06/18 06:59:47</text>
     </g>
    </g>
    <g id="xtick_104">
     <g id="line2d_483">
      <g>
       <path d="M 206.4960 1533.6000 L 206.4960 1529.6000" shape-rendering="crispEdges" style="fill: none; stroke: #000000; stroke-width: 0.5"/>
      </g>
     </g>
     <g id="line2d_484">
      <g>
       <path d="M 206.4960 1427.0400 L 206.4960 1431.0400" shape-rendering="crispEdges" style="fill: none; stroke: #000000; stroke-width: 0.5"/>
      </g>
     </g>
     <g id="text_229">
      <text style="font-size: 8px; font-family: 'DejaVu Sans', sans-serif; text-anchor: middle" x="206.496" y="1544.27875" transform="rotate(-0 206.496 1544.27875)">06/18 06:59:48</text>
     </g>
    </g>
    <g id="xtick_105">
     <g id="line2d_485">
      <g>
       <path d="M 281.6640 1533.6000 L 281.6640 1529.6000" shape-rendering="crispEdges" style="fill: none; stroke: #000000; stroke-width: 0.5"/>
      </g>
     </g>
     <g id="line2d_486">
      <g>
       <path d="M 281.6640 1427.0400 L 281.6640 1431.0400" shape-rendering="crispEdges" style="fill: none; stroke: #000000; stroke-width: 0.5"/>
      </g>
     </g>
     <g id="text_230">
      <text style="font-size: 8px; font-family: 'DejaVu Sans', sans-serif; text-anchor: middle" x="281.664" y="1544.27875" transform="rotate(-0 281.664 1544.27875)">06/18 06:59:49</text>
     </g>
    </g>
    <g id="xtick_106">
     <g id="line2d_487">
      <g>
       <path d="M 356.8320 1533.6000 L 356.8320 1529.6000" shape-rendering="crispEdges" style="fill: none; stroke: #000000; stroke-width: 0.5"/>
      </g>
     </g>
     <g id="line2d_488">
      <g>
       <path d="M 356.8320 1427.0400 L 356.8320 1431.0400" shape-rendering="crispEdges" style="fill: none; stroke: #000000; stroke-width: 0.5"/>
      </g>
     </g>
     <g id="text_231">
      <text style="font-size: 8px; font-family: 'DejaVu Sans', sans-serif; text-anchor: middle" x="356.832" y="1544.27875" transform="rotate(-0 356.832 1544.27875)">06/18 06:59:50</text>
     </g>
    </g>
    <g id="xtick_107">
     <g id="line2d_489">
      <g>
       <path d="M 432.0384 1533.6000 L 432.0384 1529.6000" shape-rendering="crispEdges" style="fill: none; stroke: #000000; stroke-width: 0.5"/>
      </g>
     </g>
     <g id="line2d_490">
      <g>
       <path d="M 432.0384 1427.0400 L 432.0384 1431.0400" shape-rendering="crispEdges" style="fill: none; stroke: #000000; stroke-width: 0.5"/>
      </g>
     </g>
     <g id="text_232">
      <text style="font-size: 8px; font-family: 'DejaVu Sans', sans-serif; text-anchor: middle" x="432" y="1544.27875" transform="rotate(-0 432 1544.27875)">06/18 06:59:51</text>
     </g>
    </g>
    <g id="xtick_108">
     <g id="line2d_491">
      <g>
       <path d="M 507.1680 1533.6000 L 507.1680 1529.6000" shape-rendering="crispEdges" style="fill: none; stroke: #000000; stroke-width: 0.5"/>
      </g>
     </g>
     <g id="line2d_492">
      <g>
       <path d="M 507.1680 1427.0400 L 507.1680 1431.0400" shape-rendering="crispEdges" style="fill: none; stroke: #000000; stroke-width: 0.5"/>
      </g>
     </g>
     <g id="text_233">
      <text style="font-size: 8px; font-family: 'DejaVu Sans', sans-serif; text-anchor: middle" x="507.168" y="1544.27875" transform="rotate(-0 507.168 1544.27875)">06/18 06:59:52</text>
     </g>
    </g>
    <g id="xtick_109">
     <g id="line2d_493">
      <g>
       <path d="M 582.3360 1533.6000 L 582.3360 1529.6000" shape-rendering="crispEdges" style="fill: none; stroke: #000000; stroke-width: 0.5"/>
      </g>
     </g>
     <g id="line2d_494">
      <g>
       <path d="M 582.3360 1427.0400 L 582.3360 1431.0400" shape-rendering="crispEdges" style="fill: none; stroke: #000000; stroke-width: 0.5"/>
      </g>
     </g>
     <g id="text_234">
      <text style="font-size: 8px; font-family: 'DejaVu Sans', sans-serif; text-anchor: middle" x="582.336" y="1544.27875" transform="rotate(-0 582.336 1544.27875)">06/18 06:59:53</text>
     </g>
    </g>
    <g id="xtick_110">
     <g id="line2d_495">
      <g>
       <path d="M 657.5040 1533.6000 L 657.5040 1529.6000" shape-rendering="crispEdges" style="fill: none; stroke: #000000; stroke-width: 0.5"/>
      </g>
     </g>
     <g id="line2d_496">
      <g>
       <path d="M 657.5040 1427.0400 L 657.5040 1431.0400" shape-rendering="crispEdges" style="fill: none; stroke: #000000; stroke-width: 0.5"/>
      </g>
     </g>
     <g id="text_235">
      <text style="font-size: 8px; font-family: 'DejaVu Sans', sans-serif; text-anchor: middle" x="657.504" y="1544.27875" transform="rotate(-0 657.504 1544.27875)">06/18 06:59:54</text>
     </g>
    </g>
    <g id="xtick_111">
     <g id="line2d_497">
      <g>
       <path d="M 732.6720 1533.6000 L 732.6720 1529.6000" shape-rendering="crispEdges" style="fill: none; stroke: #000000; stroke-width: 0.5"/>
      </g>
     </g>
     <g id="line2d_498">
      <g>
       <path d="M 732.6720 1427.0400 L 732.6720 1431.0400" shape-rendering="crispEdges" style="fill: none; stroke: #000000; stroke-width: 0.5"/>
      </g>
     </g>
     <g id="text_236">
      <text style="font-size: 8px; font-family: 'DejaVu Sans', sans-serif; text-anchor: middle" x="732.672" y="1544.27875" transform="rotate(-0 732.672 1544.27875)">06/18 06:59:55</text>
     </g>
    </g>
    <g id="xtick_112">
     <g id="line2d_499">
      <g>
       <path d="M 807.8784 1533.6000 L 807.8784 1529.6000" shape-rendering="crispEdges" style="fill: none; stroke: #000000; stroke-width: 0.5"/>
      </g>
     </g>
     <g id="line2d_500">
      <g>
       <path d="M 807.8784 1427.0400 L 807.8784 1431.0400" shape-rendering="crispEdges" style="fill: none; stroke: #000000; stroke-width: 0.5"/>
      </g>
     </g>
     <g id="text_237">
      <text style="font-size: 8px; font-family: 'DejaVu Sans', sans-serif; text-anchor: middle" x="807.84" y="1544.27875" transform="rotate(-0 807.84 1544.27875)">06/18 06:59:56</text>
     </g>
    </g>
   </g>
   <g id="matplotlib.axis_24">
    <g id="ytick_86">
     <g id="line2d_501">
      <g>
       <path d="M 56.1600 1523.3040 L 60.1600 1523.3040" shape-rendering="crispEdges" style="fill: none; stroke: #000000; stroke-width: 0.5"/>
      </g>
     </g>
     <g id="line2d_502">
      <g>
       <path d="M 807.8400 1523.3040 L 803.8400 1523.3040" shape-rendering="crispEdges" style="fill: none; stroke: #000000; stroke-width: 0.5"/>
      </g>
     </g>
     <g id="text_238">
      <text style="font-size: 8px; font-family: 'DejaVu Sans', sans-serif; text-anchor: end" x="52.16" y="1525.5115" transform="rotate(-0 52.16 1525.5115)">0.08</text>
     </g>
    </g>
    <g id="ytick_87">
     <g id="line2d_503">
      <g>
       <path d="M 56.1600 1501.9920 L 60.1600 1501.9920" shape-rendering="crispEdges" style="fill: none; stroke: #000000; stroke-width: 0.5"/>
      </g>
     </g>
     <g id="line2d_504">
      <g>
       <path d="M 807.8400 1501.9920 L 803.8400 1501.9920" shape-rendering="crispEdges" style="fill: none; stroke: #000000; stroke-width: 0.5"/>
      </g>
     </g>
     <g id="text_239">
      <text style="font-size: 8px; font-family: 'DejaVu Sans', sans-serif; text-anchor: end" x="52.16" y="1504.1995" transform="rotate(-0 52.16 1504.1995)">0.10</text>
     </g>
    </g>
    <g id="ytick_88">
     <g id="line2d_505">
      <g>
       <path d="M 56.1600 1480.6800 L 60.1600 1480.6800" shape-rendering="crispEdges" style="fill: none; stroke: #000000; stroke-width: 0.5"/>
      </g>
     </g>
     <g id="line2d_506">
      <g>
       <path d="M 807.8400 1480.6800 L 803.8400 1480.6800" shape-rendering="crispEdges" style="fill: none; stroke: #000000; stroke-width: 0.5"/>
      </g>
     </g>
     <g id="text_240">
      <text style="font-size: 8px; font-family: 'DejaVu Sans', sans-serif; text-anchor: end" x="52.16" y="1482.8875" transform="rotate(-0 52.16 1482.8875)">0.12</text>
     </g>
    </g>
    <g id="ytick_89">
     <g id="line2d_507">
      <g>
       <path d="M 56.1600 1459.3680 L 60.1600 1459.3680" shape-rendering="crispEdges" style="fill: none; stroke: #000000; stroke-width: 0.5"/>
      </g>
     </g>
     <g id="line2d_508">
      <g>
       <path d="M 807.8400 1459.3680 L 803.8400 1459.3680" shape-rendering="crispEdges" style="fill: none; stroke: #000000; stroke-width: 0.5"/>
      </g>
     </g>
     <g id="text_241">
      <text style="font-size: 8px; font-family: 'DejaVu Sans', sans-serif; text-anchor: end" x="52.16" y="1461.5755" transform="rotate(-0 52.16 1461.5755)">0.14</text>
     </g>
    </g>
    <g id="ytick_90">
     <g id="line2d_509">
      <g>
       <path d="M 56.1600 1438.1184 L 60.1600 1438.1184" shape-rendering="crispEdges" style="fill: none; stroke: #000000; stroke-width: 0.5"/>
      </g>
     </g>
     <g id="line2d_510">
      <g>
       <path d="M 807.8400 1438.1184 L 803.8400 1438.1184" shape-rendering="crispEdges" style="fill: none; stroke: #000000; stroke-width: 0.5"/>
      </g>
     </g>
     <g id="text_242">
      <text style="font-size: 8px; font-family: 'DejaVu Sans', sans-serif; text-anchor: end" x="52.16" y="1440.2635" transform="rotate(-0 52.16 1440.2635)">0.16</text>
     </g>
    </g>
    <g id="text_243">
     <g transform="translate(26.7675 1496.92) rotate(-90)">
      <text>
       <tspan x="0" y="-0.209188" style="font-size: 8px; font-family: 'DejaVu Sans', sans-serif">T</tspan>
       <tspan x="4.886719" y="-0.209188" style="font-size: 8px; font-family: 'DejaVu Sans', sans-serif">p</tspan>
       <tspan x="9.964844" y="-0.209188" style="font-size: 8px; font-family: 'DejaVu Sans', sans-serif">(</tspan>
       <tspan x="24.753256" y="-0.209188" style="font-size: 8px; font-family: 'DejaVu Sans', sans-serif">K</tspan>
       <tspan x="29.99935" y="-0.209188" style="font-size: 8px; font-family: 'DejaVu Sans', sans-serif">)</tspan>
       <tspan x="13.085938" y="-0.209188" style="font-size: 8px; font-family: 'Liberation Serif', serif" class="cmr10">1</tspan>
       <tspan x="17.085938" y="-0.209188" style="font-size: 8px; font-family: 'Liberation Serif', serif" class="cmr10">0</tspan>
       <tspan x="21.443069" y="-3.270313" style="font-size: 5.6px; font-family: 'Liberation Serif', serif" class="cmr10">6</tspan>
      </text>
     </g>
    </g>
   </g>
   <g id="title_TS6" transform="matrix(0.98281 0 0 1 7.1911 0)">
    <g transform="translate(347.2135 1422.04)">
     <text>
      <tspan x="0" y="-0.578125" style="font-size: 11.23px; font-family: 'DejaVu Sans', sans-serif">P</tspan>
      <tspan x="6.784058" y="-0.578125" style="font-size: 11.23px; font-family: 'DejaVu Sans', sans-serif">r</tspan>
      <tspan x="11.409302" y="-0.578125" style="font-size: 11.23px; font-family: 'DejaVu Sans', sans-serif">o</tspan>
      <tspan x="18.292236" y="-0.578125" style="font-size: 11.23px; font-family: 'DejaVu Sans', sans-serif">t</tspan>
      <tspan x="22.703247" y="-0.578125" style="font-size: 11.23px; font-family: 'DejaVu Sans', sans-serif">o</tspan>
      <tspan x="29.586182" y="-0.578125" style="font-size: 11.23px; font-family: 'DejaVu Sans', sans-serif">n</tspan>
      <tspan x="36.716309" y="-0.578125" style="font-size: 11.23px; font-family: 'DejaVu Sans', sans-serif"> </tspan>
      <tspan x="40.292358" y="-0.578125" style="font-size: 11.23px; font-family: 'DejaVu Sans', sans-serif">T</tspan>
      <tspan x="47.164307" y="-0.578125" style="font-size: 11.23px; font-family: 'DejaVu Sans', sans-serif">e</tspan>
      <tspan x="54.085693" y="-0.578125" style="font-size: 11.23px; font-family: 'DejaVu Sans', sans-serif">m</tspan>
      <tspan x="65.044556" y="-0.578125" style="font-size: 11.23px; font-family: 'DejaVu Sans', sans-serif">p</tspan>
      <tspan x="72.185669" y="-0.578125" style="font-size: 11.23px; font-family: 'DejaVu Sans', sans-serif">e</tspan>
      <tspan x="79.107056" y="-0.578125" style="font-size: 11.23px; font-family: 'DejaVu Sans', sans-serif">r</tspan>
      <tspan x="83.7323" y="-0.578125" style="font-size: 11.23px; font-family: 'DejaVu Sans', sans-serif">a</tspan>
      <tspan x="90.626221" y="-0.578125" style="font-size: 11.23px; font-family: 'DejaVu Sans', sans-serif">t</tspan>
      <tspan x="95.037231" y="-0.578125" style="font-size: 11.23px; font-family: 'DejaVu Sans', sans-serif">u</tspan>
      <tspan x="102.167358" y="-0.578125" style="font-size: 11.23px; font-family: 'DejaVu Sans', sans-serif">r</tspan>
      <tspan x="106.792603" y="-0.578125" style="font-size: 11.23px; font-family: 'DejaVu Sans', sans-serif">e</tspan>
      <tspan x="113.713989" y="-0.578125" style="font-size: 11.23px; font-family: 'DejaVu Sans', sans-serif"> </tspan>
      <tspan x="117.290039" y="-0.578125" style="font-size: 11.23px; font-family: 'DejaVu Sans', sans-serif">a</tspan>
      <tspan x="124.18396" y="-0.578125" style="font-size: 11.23px; font-family: 'DejaVu Sans', sans-serif">n</tspan>
      <tspan x="131.314087" y="-0.578125" style="font-size: 11.23px; font-family: 'DejaVu Sans', sans-serif">d</tspan>
      <tspan x="138.4552" y="-0.578125" style="font-size: 11.23px; font-family: 'DejaVu Sans', sans-serif"> </tspan>
      <tspan x="142.03125" y="-0.578125" style="font-size: 11.23px; font-family: 'Liberation Serif', serif; font-style: italic" class="cmmi10">T</tspan>
      <tspan x="152.949476" y="-0.578125" style="font-size: 11.23px; font-family: 'Liberation Serif', serif; font-style: italic" class="cmmi10">/</tspan>
      <tspan x="158.558851" y="-0.578125" style="font-size: 11.23px; font-family: 'Liberation Serif', serif; font-style: italic" class="cmmi10">T</tspan>
      <tspan x="148.582825" y="1.331677" style="font-size: 7.861px; font-family: 'Liberation Serif', serif; font-style: italic" class="cmmi10">e</tspan>
      <tspan x="165.110426" y="1.331677" style="font-size: 7.861px; font-family: 'Liberation Serif', serif; font-style: italic" class="cmmi10">p</tspan>
     </text>
    </g>
   </g>
   <g id="legend_5">
    <g id="patch_69">
     <path d="M 59.66 1442.914687 
L 93.579375 1442.914687 
L 93.579375 1430.54 
L 59.66 1430.54 
z
" shape-rendering="crispEdges" style="fill: #ffffff; stroke: #000000; stroke-width: 0.96; stroke-linejoin: miter"/>
    </g>
    <g id="line2d_511">
     <path d="M 64.56 1436.208906 
L 74.36 1436.208906 
" style="fill: none; stroke: #0000ff; stroke-linecap: square"/>
    </g>
    <g id="text_244">
     <text style="font-size: 7px; font-family: 'DejaVu Sans', sans-serif; text-anchor: start" x="82.06" y="1438.658906" transform="rotate(-0 82.06 1438.658906)">Tp</text>
    </g>
   </g>
  </g>
 </g>
 <defs>
  <clipPath id="p9e360b8a55">
   <rect x="56.16" y="40.464" width="217.92" height="217.92"/>
  </clipPath>
  <clipPath id="p5e606f53a8">
   <rect x="323.04" y="40.464" width="217.92" height="217.92"/>
  </clipPath>
  <clipPath id="p1b0d35f9a7">
   <rect x="589.92" y="40.464" width="217.92" height="217.92"/>
  </clipPath>
  <clipPath id="p9e98e754fd">
   <rect x="323.04" y="317.904" width="217.92" height="217.92"/>
  </clipPath>
  <clipPath id="p0b3488ad60">
   <rect x="589.92" y="317.904" width="217.92" height="217.92"/>
  </clipPath>
  <clipPath id="p7e3f1b9e12">
   <rect x="56.16" y="317.904" width="217.92" height="217.92"/>
  </clipPath>
  <clipPath id="pdf6c10e1a3">
   <rect x="56.16" y="626.4" width="751.68" height="106.56"/>
  </clipPath>
  <clipPath id="p66f6a427d6">
   <rect x="56.16" y="786.72" width="751.68" height="106.56"/>
  </clipPath>
  <clipPath id="pab0f8e7149">
   <rect x="56.16" y="946.56" width="751.68" height="106.56"/>
  </clipPath>
  <clipPath id="p840b9fd985">
   <rect x="56.16" y="1106.88" width="751.68" height="106.56"/>
  </clipPath>
  <clipPath id="p49ae588526">
   <rect x="56.16" y="1266.72" width="751.68" height="106.56"/>
  </clipPath>
  <clipPath id="pf7b9eb8dfb">
   <rect x="56.16" y="1427.04" width="751.68" height="106.56"/>
  </clipPath>
 </defs>
</svg>

</body></html>
